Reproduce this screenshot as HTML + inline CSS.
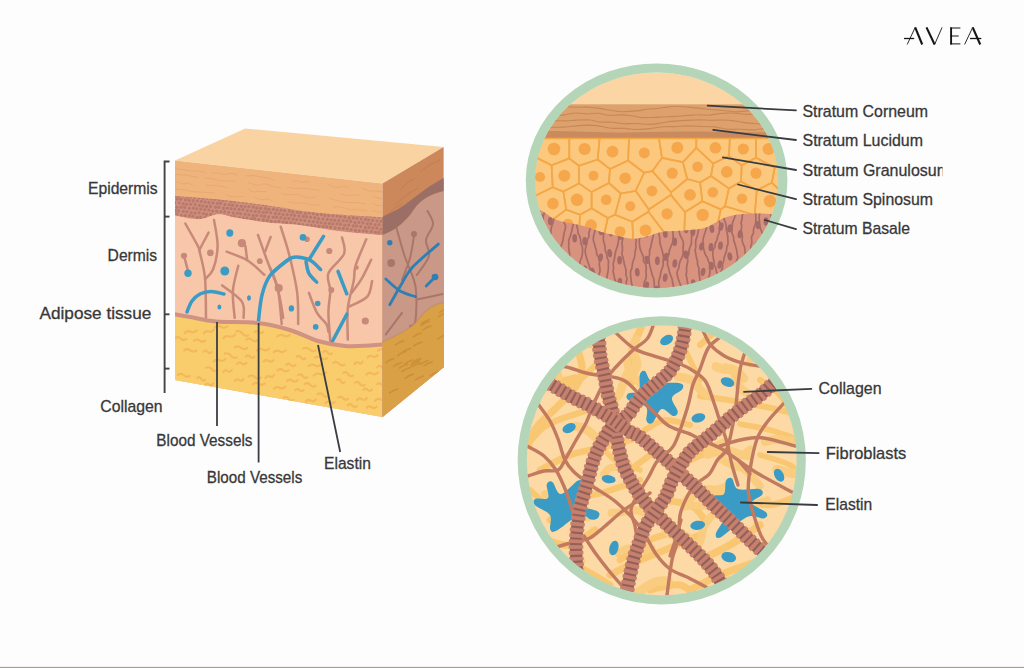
<!DOCTYPE html>
<html><head><meta charset="utf-8"><title>Skin layers</title>
<style>html,body{margin:0;padding:0;background:#fdfdfd;}
#wrap{position:relative;width:1024px;height:668px;overflow:hidden;background:#fdfdfd;}
svg text{font-family:"Liberation Sans", sans-serif;}
#bar{position:absolute;left:0;top:666px;width:1024px;height:2px;background:linear-gradient(#f2f1f0 50%,#a29f9b 50%);}
</style></head><body><div id="wrap">
<svg width="1024" height="668" viewBox="0 0 1024 668" style="position:absolute;left:0;top:0">
<defs>
<clipPath id="cf"><polygon points="175,160.4 382.5,183.5 382.5,417 175,380"/></clipPath>
<clipPath id="cr"><polygon points="382.5,183.5 443.6,147 444,367 382.5,417"/></clipPath>
<clipPath id="cband"><path d="M170.0,195.5 C177.2,196.1 198.7,197.6 213.0,199.0 C227.3,200.4 245.3,202.7 256.0,204.0 C266.7,205.3 266.3,205.5 277.0,207.0 C287.7,208.5 301.2,211.2 320.0,213.0 C338.8,214.8 378.3,217.2 390.0,218.0 L390.0,236.0 C382.0,235.2 357.2,233.3 342.0,231.5 C326.8,229.7 311.5,226.5 299.0,225.0 C286.5,223.5 277.7,223.8 267.0,222.5 C256.3,221.2 243.2,218.8 235.0,217.4 C226.8,216.0 224.2,213.9 218.0,214.2 C211.8,214.5 206.0,219.1 198.0,219.2 C190.0,219.2 174.7,215.3 170.0,214.5 Z"/></clipPath>
<clipPath id="cadip"><path d="M170.0,313.5 C173.3,314.1 182.3,315.7 190.0,317.0 C197.7,318.3 204.7,320.5 216.0,321.5 C227.3,322.5 245.7,321.6 258.0,323.0 C270.3,324.4 280.0,327.0 290.0,330.0 C300.0,333.0 308.8,338.3 318.0,341.0 C327.2,343.7 336.3,345.2 345.0,346.0 C353.7,346.8 362.5,345.8 370.0,345.5 C377.5,345.2 386.7,344.2 390.0,344.0 L390,430 L170,430 Z"/></clipPath>
</defs>
<polygon points="175,160.4 245.2,128.5 443.6,147 382.5,183.5" fill="#f9d4a2"/>
<g clip-path="url(#cf)">
<rect x="170" y="150" width="220" height="280" fill="#efb47c"/>
<path d="M175.0,168.6 C176.3,168.7 180.1,169.2 182.6,169.6 C185.2,169.9 187.7,170.5 190.3,170.8 C192.8,171.0 195.4,170.9 197.9,171.1 C200.5,171.4 204.3,172.2 205.6,172.4" fill="none" stroke="#dd9e6c" stroke-width="0.9" opacity="0.55"/>
<path d="M211.0,173.1 C212.1,173.1 215.4,172.9 217.7,173.1 C219.9,173.4 222.1,174.5 224.3,174.5 C226.5,174.5 228.8,173.3 231.0,173.3 C233.2,173.4 236.5,174.7 237.6,174.9" fill="none" stroke="#dd9e6c" stroke-width="0.9" opacity="0.55"/>
<path d="M246.3,176.2 C247.5,176.1 251.1,175.5 253.5,175.6 C255.9,175.7 258.3,176.5 260.6,176.9 C263.0,177.3 265.4,177.3 267.8,177.9 C270.2,178.4 273.7,179.8 274.9,180.2" fill="none" stroke="#dd9e6c" stroke-width="0.9" opacity="0.55"/>
<path d="M291.4,181.8 C292.2,181.6 294.6,180.6 296.2,180.7 C297.8,180.8 299.3,182.2 300.9,182.4 C302.5,182.6 304.1,181.8 305.7,181.7 C307.3,181.7 309.6,181.9 310.4,182.0" fill="none" stroke="#dd9e6c" stroke-width="0.9" opacity="0.55"/>
<path d="M328.5,184.5 C329.3,184.9 331.9,186.5 333.5,186.9 C335.2,187.4 336.9,187.3 338.6,187.2 C340.3,187.1 342.0,186.2 343.7,186.4 C345.4,186.6 347.9,188.2 348.7,188.6" fill="none" stroke="#dd9e6c" stroke-width="0.9" opacity="0.55"/>
<path d="M361.8,188.2 C363.1,188.7 367.1,190.4 369.8,190.9 C372.5,191.4 375.1,190.9 377.8,191.2 C380.4,191.5 383.1,192.3 385.8,192.7 C388.4,193.1 392.4,193.3 393.8,193.4" fill="none" stroke="#dd9e6c" stroke-width="0.9" opacity="0.55"/>
<path d="M175.0,174.2 C176.0,174.3 179.0,174.6 181.0,174.8 C183.0,175.0 185.0,175.0 187.0,175.3 C189.0,175.6 191.0,176.1 193.0,176.5 C195.0,177.0 198.0,177.7 199.0,177.9" fill="none" stroke="#dd9e6c" stroke-width="0.9" opacity="0.55"/>
<path d="M204.1,177.9 C205.4,178.0 209.4,178.2 212.1,178.7 C214.7,179.2 217.4,180.4 220.1,180.8 C222.7,181.2 225.4,180.8 228.0,180.9 C230.7,181.0 234.7,181.3 236.0,181.4" fill="none" stroke="#dd9e6c" stroke-width="0.9" opacity="0.55"/>
<path d="M248.2,182.1 C249.6,182.7 253.7,185.0 256.4,185.3 C259.1,185.5 261.8,183.7 264.6,183.9 C267.3,184.1 270.0,185.9 272.7,186.5 C275.4,187.2 279.5,187.5 280.9,187.7" fill="none" stroke="#dd9e6c" stroke-width="0.9" opacity="0.55"/>
<path d="M286.1,187.1 C287.6,187.4 291.9,188.4 294.8,188.6 C297.7,188.8 300.6,188.1 303.5,188.2 C306.4,188.3 309.3,188.9 312.2,189.3 C315.0,189.7 319.4,190.4 320.8,190.6" fill="none" stroke="#dd9e6c" stroke-width="0.9" opacity="0.55"/>
<path d="M340.2,194.1 C341.0,194.3 343.5,194.8 345.1,195.1 C346.8,195.3 348.5,195.7 350.1,195.7 C351.8,195.6 353.4,194.8 355.1,194.8 C356.8,194.7 359.2,195.3 360.1,195.4" fill="none" stroke="#dd9e6c" stroke-width="0.9" opacity="0.55"/>
<path d="M372.9,196.2 C374.4,196.6 378.7,198.1 381.5,198.7 C384.4,199.3 387.3,199.4 390.1,199.8 C393.0,200.2 395.9,200.9 398.7,200.9 C401.6,200.9 405.9,200.1 407.3,199.9" fill="none" stroke="#dd9e6c" stroke-width="0.9" opacity="0.55"/>
<path d="M175.0,181.6 C175.7,181.8 177.9,182.4 179.3,182.7 C180.8,183.1 182.2,183.9 183.6,184.0 C185.1,184.0 186.5,182.9 188.0,183.1 C189.4,183.2 191.6,184.6 192.3,185.0" fill="none" stroke="#dd9e6c" stroke-width="0.9" opacity="0.55"/>
<path d="M205.5,185.0 C206.4,185.0 209.3,185.2 211.2,185.3 C213.1,185.4 215.0,185.5 216.9,185.7 C218.8,185.9 220.7,186.0 222.6,186.5 C224.5,186.9 227.3,188.1 228.3,188.4" fill="none" stroke="#dd9e6c" stroke-width="0.9" opacity="0.55"/>
<path d="M248.2,189.1 C249.0,189.6 251.4,191.5 253.0,191.9 C254.6,192.3 256.2,191.4 257.7,191.3 C259.3,191.3 260.9,191.5 262.5,191.6 C264.1,191.6 266.5,191.7 267.3,191.7" fill="none" stroke="#dd9e6c" stroke-width="0.9" opacity="0.55"/>
<path d="M281.2,193.8 C282.7,193.9 287.1,194.5 290.1,194.7 C293.1,194.9 296.0,194.3 299.0,194.8 C302.0,195.4 304.9,197.6 307.9,197.9 C310.9,198.2 315.3,196.9 316.8,196.8" fill="none" stroke="#dd9e6c" stroke-width="0.9" opacity="0.55"/>
<path d="M329.2,198.4 C330.7,198.8 335.2,200.2 338.2,200.8 C341.2,201.5 344.2,202.1 347.2,202.4 C350.2,202.7 353.2,202.3 356.2,202.6 C359.2,202.9 363.7,203.8 365.2,204.0" fill="none" stroke="#dd9e6c" stroke-width="0.9" opacity="0.55"/>
<path d="M371.8,203.2 C372.9,203.6 376.1,205.3 378.3,205.6 C380.4,205.9 382.6,204.9 384.7,205.0 C386.9,205.1 389.0,205.6 391.2,206.1 C393.3,206.6 396.6,207.8 397.7,208.1" fill="none" stroke="#dd9e6c" stroke-width="0.9" opacity="0.55"/>
<path d="M175.0,188.9 C176.6,189.1 181.6,189.6 184.9,190.1 C188.1,190.6 191.4,191.4 194.7,191.8 C198.0,192.1 201.3,192.1 204.6,192.3 C207.8,192.5 212.8,192.8 214.4,192.9" fill="none" stroke="#dd9e6c" stroke-width="0.9" opacity="0.55"/>
<path d="M225.5,194.4 C226.2,194.7 228.6,195.9 230.1,196.3 C231.7,196.8 233.2,196.8 234.8,196.8 C236.3,196.8 237.9,196.5 239.5,196.5 C241.0,196.5 243.3,196.7 244.1,196.7" fill="none" stroke="#dd9e6c" stroke-width="0.9" opacity="0.55"/>
<path d="M254.2,197.3 C254.9,197.6 257.1,198.6 258.5,199.0 C259.9,199.4 261.4,199.7 262.8,199.7 C264.2,199.7 265.7,198.9 267.1,199.0 C268.6,199.1 270.7,200.2 271.4,200.5" fill="none" stroke="#dd9e6c" stroke-width="0.9" opacity="0.55"/>
<path d="M288.0,202.1 C289.4,202.2 293.4,203.0 296.1,203.2 C298.8,203.4 301.5,202.9 304.2,203.1 C306.9,203.4 309.6,204.6 312.3,204.9 C315.0,205.1 319.1,204.8 320.4,204.8" fill="none" stroke="#dd9e6c" stroke-width="0.9" opacity="0.55"/>
<path d="M332.7,207.1 C334.1,207.1 338.4,206.7 341.3,207.1 C344.1,207.5 347.0,209.2 349.8,209.6 C352.7,210.1 355.5,209.7 358.4,209.9 C361.2,210.1 365.5,210.6 366.9,210.7" fill="none" stroke="#dd9e6c" stroke-width="0.9" opacity="0.55"/>
<path d="M372.1,210.5 C373.3,210.8 376.9,211.9 379.3,212.3 C381.7,212.6 384.1,212.3 386.5,212.6 C388.8,212.9 391.2,213.9 393.6,214.2 C396.0,214.6 399.6,214.6 400.8,214.6" fill="none" stroke="#dd9e6c" stroke-width="0.9" opacity="0.55"/>
<path d="M170.0,195.5 C177.2,196.1 198.7,197.6 213.0,199.0 C227.3,200.4 245.3,202.7 256.0,204.0 C266.7,205.3 266.3,205.5 277.0,207.0 C287.7,208.5 301.2,211.2 320.0,213.0 C338.8,214.8 378.3,217.2 390.0,218.0 L390.0,236.0 C382.0,235.2 357.2,233.3 342.0,231.5 C326.8,229.7 311.5,226.5 299.0,225.0 C286.5,223.5 277.7,223.8 267.0,222.5 C256.3,221.2 243.2,218.8 235.0,217.4 C226.8,216.0 224.2,213.9 218.0,214.2 C211.8,214.5 206.0,219.1 198.0,219.2 C190.0,219.2 174.7,215.3 170.0,214.5 Z" fill="#d0917e"/>
<g clip-path="url(#cband)">
<ellipse cx="170.9" cy="194.7" rx="1.6" ry="1.8" fill="#b97a6d"/>
<ellipse cx="175.2" cy="195.3" rx="1.6" ry="1.8" fill="#b97a6d"/>
<ellipse cx="178.9" cy="195.7" rx="1.6" ry="1.8" fill="#b97a6d"/>
<ellipse cx="183.3" cy="196.0" rx="1.6" ry="1.8" fill="#b97a6d"/>
<ellipse cx="187.4" cy="196.7" rx="1.6" ry="1.8" fill="#b97a6d"/>
<ellipse cx="191.0" cy="196.8" rx="1.6" ry="1.8" fill="#b97a6d"/>
<ellipse cx="194.7" cy="197.4" rx="1.6" ry="1.8" fill="#b97a6d"/>
<ellipse cx="199.3" cy="197.6" rx="1.6" ry="1.8" fill="#b97a6d"/>
<ellipse cx="203.2" cy="198.2" rx="1.6" ry="1.8" fill="#b97a6d"/>
<ellipse cx="207.2" cy="198.2" rx="1.6" ry="1.8" fill="#b97a6d"/>
<ellipse cx="211.2" cy="199.0" rx="1.6" ry="1.8" fill="#b97a6d"/>
<ellipse cx="215.1" cy="199.3" rx="1.6" ry="1.8" fill="#b97a6d"/>
<ellipse cx="219.1" cy="200.0" rx="1.6" ry="1.8" fill="#b97a6d"/>
<ellipse cx="223.1" cy="200.4" rx="1.6" ry="1.8" fill="#b97a6d"/>
<ellipse cx="226.6" cy="200.3" rx="1.6" ry="1.8" fill="#b97a6d"/>
<ellipse cx="231.0" cy="201.2" rx="1.6" ry="1.8" fill="#b97a6d"/>
<ellipse cx="234.8" cy="201.6" rx="1.6" ry="1.8" fill="#b97a6d"/>
<ellipse cx="239.1" cy="201.6" rx="1.6" ry="1.8" fill="#b97a6d"/>
<ellipse cx="243.0" cy="202.1" rx="1.6" ry="1.8" fill="#b97a6d"/>
<ellipse cx="246.6" cy="202.4" rx="1.6" ry="1.8" fill="#b97a6d"/>
<ellipse cx="250.9" cy="202.9" rx="1.6" ry="1.8" fill="#b97a6d"/>
<ellipse cx="254.8" cy="203.2" rx="1.6" ry="1.8" fill="#b97a6d"/>
<ellipse cx="259.0" cy="204.0" rx="1.6" ry="1.8" fill="#b97a6d"/>
<ellipse cx="263.1" cy="204.6" rx="1.6" ry="1.8" fill="#b97a6d"/>
<ellipse cx="266.8" cy="205.2" rx="1.6" ry="1.8" fill="#b97a6d"/>
<ellipse cx="270.6" cy="205.2" rx="1.6" ry="1.8" fill="#b97a6d"/>
<ellipse cx="274.8" cy="205.7" rx="1.6" ry="1.8" fill="#b97a6d"/>
<ellipse cx="278.7" cy="206.5" rx="1.6" ry="1.8" fill="#b97a6d"/>
<ellipse cx="282.9" cy="206.3" rx="1.6" ry="1.8" fill="#b97a6d"/>
<ellipse cx="287.1" cy="206.8" rx="1.6" ry="1.8" fill="#b97a6d"/>
<ellipse cx="291.0" cy="207.4" rx="1.6" ry="1.8" fill="#b97a6d"/>
<ellipse cx="295.1" cy="208.3" rx="1.6" ry="1.8" fill="#b97a6d"/>
<ellipse cx="299.3" cy="208.4" rx="1.6" ry="1.8" fill="#b97a6d"/>
<ellipse cx="303.3" cy="209.0" rx="1.6" ry="1.8" fill="#b97a6d"/>
<ellipse cx="306.9" cy="209.0" rx="1.6" ry="1.8" fill="#b97a6d"/>
<ellipse cx="311.1" cy="209.7" rx="1.6" ry="1.8" fill="#b97a6d"/>
<ellipse cx="315.4" cy="210.5" rx="1.6" ry="1.8" fill="#b97a6d"/>
<ellipse cx="319.1" cy="210.4" rx="1.6" ry="1.8" fill="#b97a6d"/>
<ellipse cx="323.3" cy="210.6" rx="1.6" ry="1.8" fill="#b97a6d"/>
<ellipse cx="326.7" cy="211.4" rx="1.6" ry="1.8" fill="#b97a6d"/>
<ellipse cx="331.1" cy="211.6" rx="1.6" ry="1.8" fill="#b97a6d"/>
<ellipse cx="335.1" cy="212.6" rx="1.6" ry="1.8" fill="#b97a6d"/>
<ellipse cx="338.9" cy="212.6" rx="1.6" ry="1.8" fill="#b97a6d"/>
<ellipse cx="342.8" cy="213.0" rx="1.6" ry="1.8" fill="#b97a6d"/>
<ellipse cx="347.4" cy="213.5" rx="1.6" ry="1.8" fill="#b97a6d"/>
<ellipse cx="351.4" cy="214.4" rx="1.6" ry="1.8" fill="#b97a6d"/>
<ellipse cx="355.1" cy="214.3" rx="1.6" ry="1.8" fill="#b97a6d"/>
<ellipse cx="359.4" cy="214.9" rx="1.6" ry="1.8" fill="#b97a6d"/>
<ellipse cx="362.9" cy="215.2" rx="1.6" ry="1.8" fill="#b97a6d"/>
<ellipse cx="367.4" cy="215.8" rx="1.6" ry="1.8" fill="#b97a6d"/>
<ellipse cx="370.8" cy="216.1" rx="1.6" ry="1.8" fill="#b97a6d"/>
<ellipse cx="374.7" cy="216.7" rx="1.6" ry="1.8" fill="#b97a6d"/>
<ellipse cx="379.0" cy="216.9" rx="1.6" ry="1.8" fill="#b97a6d"/>
<ellipse cx="383.2" cy="217.7" rx="1.6" ry="1.8" fill="#b97a6d"/>
<ellipse cx="386.6" cy="217.9" rx="1.6" ry="1.8" fill="#b97a6d"/>
<ellipse cx="172.8" cy="199.0" rx="1.6" ry="1.8" fill="#b97a6d"/>
<ellipse cx="177.2" cy="198.9" rx="1.6" ry="1.8" fill="#b97a6d"/>
<ellipse cx="180.8" cy="199.3" rx="1.6" ry="1.8" fill="#b97a6d"/>
<ellipse cx="185.4" cy="199.9" rx="1.6" ry="1.8" fill="#b97a6d"/>
<ellipse cx="189.1" cy="200.4" rx="1.6" ry="1.8" fill="#b97a6d"/>
<ellipse cx="193.1" cy="200.9" rx="1.6" ry="1.8" fill="#b97a6d"/>
<ellipse cx="197.2" cy="201.0" rx="1.6" ry="1.8" fill="#b97a6d"/>
<ellipse cx="201.2" cy="201.6" rx="1.6" ry="1.8" fill="#b97a6d"/>
<ellipse cx="205.0" cy="202.0" rx="1.6" ry="1.8" fill="#b97a6d"/>
<ellipse cx="208.8" cy="202.6" rx="1.6" ry="1.8" fill="#b97a6d"/>
<ellipse cx="213.0" cy="202.9" rx="1.6" ry="1.8" fill="#b97a6d"/>
<ellipse cx="217.2" cy="203.5" rx="1.6" ry="1.8" fill="#b97a6d"/>
<ellipse cx="220.6" cy="203.6" rx="1.6" ry="1.8" fill="#b97a6d"/>
<ellipse cx="225.0" cy="204.6" rx="1.6" ry="1.8" fill="#b97a6d"/>
<ellipse cx="229.3" cy="204.8" rx="1.6" ry="1.8" fill="#b97a6d"/>
<ellipse cx="232.6" cy="205.3" rx="1.6" ry="1.8" fill="#b97a6d"/>
<ellipse cx="236.9" cy="205.7" rx="1.6" ry="1.8" fill="#b97a6d"/>
<ellipse cx="241.2" cy="206.2" rx="1.6" ry="1.8" fill="#b97a6d"/>
<ellipse cx="245.0" cy="206.8" rx="1.6" ry="1.8" fill="#b97a6d"/>
<ellipse cx="248.9" cy="206.8" rx="1.6" ry="1.8" fill="#b97a6d"/>
<ellipse cx="253.3" cy="207.1" rx="1.6" ry="1.8" fill="#b97a6d"/>
<ellipse cx="256.8" cy="208.0" rx="1.6" ry="1.8" fill="#b97a6d"/>
<ellipse cx="260.7" cy="208.4" rx="1.6" ry="1.8" fill="#b97a6d"/>
<ellipse cx="265.2" cy="208.6" rx="1.6" ry="1.8" fill="#b97a6d"/>
<ellipse cx="268.8" cy="209.3" rx="1.6" ry="1.8" fill="#b97a6d"/>
<ellipse cx="273.3" cy="209.2" rx="1.6" ry="1.8" fill="#b97a6d"/>
<ellipse cx="277.0" cy="210.0" rx="1.6" ry="1.8" fill="#b97a6d"/>
<ellipse cx="281.0" cy="210.2" rx="1.6" ry="1.8" fill="#b97a6d"/>
<ellipse cx="284.7" cy="210.8" rx="1.6" ry="1.8" fill="#b97a6d"/>
<ellipse cx="289.2" cy="210.9" rx="1.6" ry="1.8" fill="#b97a6d"/>
<ellipse cx="292.8" cy="211.9" rx="1.6" ry="1.8" fill="#b97a6d"/>
<ellipse cx="297.2" cy="212.2" rx="1.6" ry="1.8" fill="#b97a6d"/>
<ellipse cx="300.6" cy="212.6" rx="1.6" ry="1.8" fill="#b97a6d"/>
<ellipse cx="305.4" cy="213.4" rx="1.6" ry="1.8" fill="#b97a6d"/>
<ellipse cx="309.2" cy="213.0" rx="1.6" ry="1.8" fill="#b97a6d"/>
<ellipse cx="313.3" cy="213.6" rx="1.6" ry="1.8" fill="#b97a6d"/>
<ellipse cx="317.1" cy="214.6" rx="1.6" ry="1.8" fill="#b97a6d"/>
<ellipse cx="321.2" cy="214.4" rx="1.6" ry="1.8" fill="#b97a6d"/>
<ellipse cx="324.8" cy="215.4" rx="1.6" ry="1.8" fill="#b97a6d"/>
<ellipse cx="328.7" cy="215.6" rx="1.6" ry="1.8" fill="#b97a6d"/>
<ellipse cx="332.9" cy="215.7" rx="1.6" ry="1.8" fill="#b97a6d"/>
<ellipse cx="337.1" cy="216.0" rx="1.6" ry="1.8" fill="#b97a6d"/>
<ellipse cx="340.7" cy="216.7" rx="1.6" ry="1.8" fill="#b97a6d"/>
<ellipse cx="344.7" cy="216.9" rx="1.6" ry="1.8" fill="#b97a6d"/>
<ellipse cx="349.1" cy="217.9" rx="1.6" ry="1.8" fill="#b97a6d"/>
<ellipse cx="353.3" cy="217.9" rx="1.6" ry="1.8" fill="#b97a6d"/>
<ellipse cx="356.9" cy="218.4" rx="1.6" ry="1.8" fill="#b97a6d"/>
<ellipse cx="361.1" cy="219.0" rx="1.6" ry="1.8" fill="#b97a6d"/>
<ellipse cx="365.4" cy="219.4" rx="1.6" ry="1.8" fill="#b97a6d"/>
<ellipse cx="368.6" cy="220.0" rx="1.6" ry="1.8" fill="#b97a6d"/>
<ellipse cx="372.7" cy="220.4" rx="1.6" ry="1.8" fill="#b97a6d"/>
<ellipse cx="377.0" cy="221.0" rx="1.6" ry="1.8" fill="#b97a6d"/>
<ellipse cx="381.0" cy="221.2" rx="1.6" ry="1.8" fill="#b97a6d"/>
<ellipse cx="384.8" cy="221.6" rx="1.6" ry="1.8" fill="#b97a6d"/>
<ellipse cx="388.8" cy="222.2" rx="1.6" ry="1.8" fill="#b97a6d"/>
<ellipse cx="171.0" cy="202.1" rx="1.6" ry="1.8" fill="#b97a6d"/>
<ellipse cx="174.8" cy="202.7" rx="1.6" ry="1.8" fill="#b97a6d"/>
<ellipse cx="179.2" cy="203.0" rx="1.6" ry="1.8" fill="#b97a6d"/>
<ellipse cx="183.2" cy="203.8" rx="1.6" ry="1.8" fill="#b97a6d"/>
<ellipse cx="186.7" cy="204.2" rx="1.6" ry="1.8" fill="#b97a6d"/>
<ellipse cx="190.7" cy="204.2" rx="1.6" ry="1.8" fill="#b97a6d"/>
<ellipse cx="195.1" cy="204.8" rx="1.6" ry="1.8" fill="#b97a6d"/>
<ellipse cx="199.3" cy="205.4" rx="1.6" ry="1.8" fill="#b97a6d"/>
<ellipse cx="202.9" cy="206.0" rx="1.6" ry="1.8" fill="#b97a6d"/>
<ellipse cx="206.6" cy="206.4" rx="1.6" ry="1.8" fill="#b97a6d"/>
<ellipse cx="210.6" cy="206.4" rx="1.6" ry="1.8" fill="#b97a6d"/>
<ellipse cx="215.4" cy="207.3" rx="1.6" ry="1.8" fill="#b97a6d"/>
<ellipse cx="218.8" cy="207.2" rx="1.6" ry="1.8" fill="#b97a6d"/>
<ellipse cx="223.4" cy="208.2" rx="1.6" ry="1.8" fill="#b97a6d"/>
<ellipse cx="227.3" cy="208.2" rx="1.6" ry="1.8" fill="#b97a6d"/>
<ellipse cx="231.1" cy="208.7" rx="1.6" ry="1.8" fill="#b97a6d"/>
<ellipse cx="234.8" cy="209.1" rx="1.6" ry="1.8" fill="#b97a6d"/>
<ellipse cx="239.1" cy="209.6" rx="1.6" ry="1.8" fill="#b97a6d"/>
<ellipse cx="242.9" cy="209.8" rx="1.6" ry="1.8" fill="#b97a6d"/>
<ellipse cx="247.3" cy="210.7" rx="1.6" ry="1.8" fill="#b97a6d"/>
<ellipse cx="251.2" cy="211.0" rx="1.6" ry="1.8" fill="#b97a6d"/>
<ellipse cx="255.3" cy="211.5" rx="1.6" ry="1.8" fill="#b97a6d"/>
<ellipse cx="259.1" cy="211.9" rx="1.6" ry="1.8" fill="#b97a6d"/>
<ellipse cx="263.2" cy="212.2" rx="1.6" ry="1.8" fill="#b97a6d"/>
<ellipse cx="266.7" cy="212.3" rx="1.6" ry="1.8" fill="#b97a6d"/>
<ellipse cx="270.8" cy="212.8" rx="1.6" ry="1.8" fill="#b97a6d"/>
<ellipse cx="275.3" cy="213.6" rx="1.6" ry="1.8" fill="#b97a6d"/>
<ellipse cx="279.2" cy="213.7" rx="1.6" ry="1.8" fill="#b97a6d"/>
<ellipse cx="283.0" cy="214.8" rx="1.6" ry="1.8" fill="#b97a6d"/>
<ellipse cx="287.1" cy="214.8" rx="1.6" ry="1.8" fill="#b97a6d"/>
<ellipse cx="291.0" cy="215.0" rx="1.6" ry="1.8" fill="#b97a6d"/>
<ellipse cx="294.7" cy="215.5" rx="1.6" ry="1.8" fill="#b97a6d"/>
<ellipse cx="298.9" cy="216.1" rx="1.6" ry="1.8" fill="#b97a6d"/>
<ellipse cx="303.3" cy="216.4" rx="1.6" ry="1.8" fill="#b97a6d"/>
<ellipse cx="306.8" cy="216.9" rx="1.6" ry="1.8" fill="#b97a6d"/>
<ellipse cx="310.7" cy="217.3" rx="1.6" ry="1.8" fill="#b97a6d"/>
<ellipse cx="314.8" cy="217.9" rx="1.6" ry="1.8" fill="#b97a6d"/>
<ellipse cx="318.6" cy="218.7" rx="1.6" ry="1.8" fill="#b97a6d"/>
<ellipse cx="322.9" cy="219.1" rx="1.6" ry="1.8" fill="#b97a6d"/>
<ellipse cx="327.2" cy="219.4" rx="1.6" ry="1.8" fill="#b97a6d"/>
<ellipse cx="331.0" cy="220.0" rx="1.6" ry="1.8" fill="#b97a6d"/>
<ellipse cx="334.7" cy="220.2" rx="1.6" ry="1.8" fill="#b97a6d"/>
<ellipse cx="338.8" cy="220.6" rx="1.6" ry="1.8" fill="#b97a6d"/>
<ellipse cx="343.2" cy="220.7" rx="1.6" ry="1.8" fill="#b97a6d"/>
<ellipse cx="346.8" cy="221.0" rx="1.6" ry="1.8" fill="#b97a6d"/>
<ellipse cx="350.8" cy="221.4" rx="1.6" ry="1.8" fill="#b97a6d"/>
<ellipse cx="354.9" cy="222.6" rx="1.6" ry="1.8" fill="#b97a6d"/>
<ellipse cx="358.9" cy="222.5" rx="1.6" ry="1.8" fill="#b97a6d"/>
<ellipse cx="363.0" cy="222.9" rx="1.6" ry="1.8" fill="#b97a6d"/>
<ellipse cx="367.2" cy="223.7" rx="1.6" ry="1.8" fill="#b97a6d"/>
<ellipse cx="370.7" cy="223.7" rx="1.6" ry="1.8" fill="#b97a6d"/>
<ellipse cx="375.1" cy="224.8" rx="1.6" ry="1.8" fill="#b97a6d"/>
<ellipse cx="379.1" cy="224.8" rx="1.6" ry="1.8" fill="#b97a6d"/>
<ellipse cx="383.4" cy="224.9" rx="1.6" ry="1.8" fill="#b97a6d"/>
<ellipse cx="386.6" cy="225.9" rx="1.6" ry="1.8" fill="#b97a6d"/>
<ellipse cx="172.9" cy="206.1" rx="1.6" ry="1.8" fill="#b97a6d"/>
<ellipse cx="177.0" cy="207.3" rx="1.6" ry="1.8" fill="#b97a6d"/>
<ellipse cx="181.0" cy="207.2" rx="1.6" ry="1.8" fill="#b97a6d"/>
<ellipse cx="184.7" cy="207.4" rx="1.6" ry="1.8" fill="#b97a6d"/>
<ellipse cx="189.3" cy="208.2" rx="1.6" ry="1.8" fill="#b97a6d"/>
<ellipse cx="193.3" cy="208.3" rx="1.6" ry="1.8" fill="#b97a6d"/>
<ellipse cx="196.8" cy="208.7" rx="1.6" ry="1.8" fill="#b97a6d"/>
<ellipse cx="200.9" cy="209.1" rx="1.6" ry="1.8" fill="#b97a6d"/>
<ellipse cx="204.8" cy="209.8" rx="1.6" ry="1.8" fill="#b97a6d"/>
<ellipse cx="208.8" cy="210.0" rx="1.6" ry="1.8" fill="#b97a6d"/>
<ellipse cx="212.6" cy="211.1" rx="1.6" ry="1.8" fill="#b97a6d"/>
<ellipse cx="216.7" cy="211.2" rx="1.6" ry="1.8" fill="#b97a6d"/>
<ellipse cx="220.9" cy="211.7" rx="1.6" ry="1.8" fill="#b97a6d"/>
<ellipse cx="224.7" cy="211.9" rx="1.6" ry="1.8" fill="#b97a6d"/>
<ellipse cx="228.7" cy="212.5" rx="1.6" ry="1.8" fill="#b97a6d"/>
<ellipse cx="233.3" cy="213.1" rx="1.6" ry="1.8" fill="#b97a6d"/>
<ellipse cx="237.3" cy="213.2" rx="1.6" ry="1.8" fill="#b97a6d"/>
<ellipse cx="240.6" cy="213.8" rx="1.6" ry="1.8" fill="#b97a6d"/>
<ellipse cx="245.0" cy="214.3" rx="1.6" ry="1.8" fill="#b97a6d"/>
<ellipse cx="248.9" cy="214.8" rx="1.6" ry="1.8" fill="#b97a6d"/>
<ellipse cx="253.2" cy="215.5" rx="1.6" ry="1.8" fill="#b97a6d"/>
<ellipse cx="256.8" cy="215.5" rx="1.6" ry="1.8" fill="#b97a6d"/>
<ellipse cx="261.3" cy="215.8" rx="1.6" ry="1.8" fill="#b97a6d"/>
<ellipse cx="264.7" cy="216.2" rx="1.6" ry="1.8" fill="#b97a6d"/>
<ellipse cx="268.7" cy="217.0" rx="1.6" ry="1.8" fill="#b97a6d"/>
<ellipse cx="273.3" cy="217.2" rx="1.6" ry="1.8" fill="#b97a6d"/>
<ellipse cx="276.7" cy="217.3" rx="1.6" ry="1.8" fill="#b97a6d"/>
<ellipse cx="280.8" cy="217.8" rx="1.6" ry="1.8" fill="#b97a6d"/>
<ellipse cx="284.9" cy="218.6" rx="1.6" ry="1.8" fill="#b97a6d"/>
<ellipse cx="288.8" cy="218.6" rx="1.6" ry="1.8" fill="#b97a6d"/>
<ellipse cx="293.2" cy="219.1" rx="1.6" ry="1.8" fill="#b97a6d"/>
<ellipse cx="296.8" cy="219.7" rx="1.6" ry="1.8" fill="#b97a6d"/>
<ellipse cx="300.9" cy="220.0" rx="1.6" ry="1.8" fill="#b97a6d"/>
<ellipse cx="304.9" cy="220.6" rx="1.6" ry="1.8" fill="#b97a6d"/>
<ellipse cx="309.2" cy="221.2" rx="1.6" ry="1.8" fill="#b97a6d"/>
<ellipse cx="313.3" cy="221.8" rx="1.6" ry="1.8" fill="#b97a6d"/>
<ellipse cx="317.2" cy="222.1" rx="1.6" ry="1.8" fill="#b97a6d"/>
<ellipse cx="321.0" cy="222.7" rx="1.6" ry="1.8" fill="#b97a6d"/>
<ellipse cx="325.1" cy="223.3" rx="1.6" ry="1.8" fill="#b97a6d"/>
<ellipse cx="329.2" cy="223.5" rx="1.6" ry="1.8" fill="#b97a6d"/>
<ellipse cx="332.8" cy="224.0" rx="1.6" ry="1.8" fill="#b97a6d"/>
<ellipse cx="336.9" cy="223.9" rx="1.6" ry="1.8" fill="#b97a6d"/>
<ellipse cx="340.7" cy="224.3" rx="1.6" ry="1.8" fill="#b97a6d"/>
<ellipse cx="344.8" cy="225.2" rx="1.6" ry="1.8" fill="#b97a6d"/>
<ellipse cx="348.8" cy="225.1" rx="1.6" ry="1.8" fill="#b97a6d"/>
<ellipse cx="353.2" cy="226.0" rx="1.6" ry="1.8" fill="#b97a6d"/>
<ellipse cx="356.6" cy="226.0" rx="1.6" ry="1.8" fill="#b97a6d"/>
<ellipse cx="360.7" cy="226.6" rx="1.6" ry="1.8" fill="#b97a6d"/>
<ellipse cx="365.3" cy="227.6" rx="1.6" ry="1.8" fill="#b97a6d"/>
<ellipse cx="369.1" cy="227.4" rx="1.6" ry="1.8" fill="#b97a6d"/>
<ellipse cx="372.9" cy="228.0" rx="1.6" ry="1.8" fill="#b97a6d"/>
<ellipse cx="376.9" cy="228.1" rx="1.6" ry="1.8" fill="#b97a6d"/>
<ellipse cx="381.1" cy="229.2" rx="1.6" ry="1.8" fill="#b97a6d"/>
<ellipse cx="385.2" cy="229.1" rx="1.6" ry="1.8" fill="#b97a6d"/>
<ellipse cx="389.0" cy="229.6" rx="1.6" ry="1.8" fill="#b97a6d"/>
<ellipse cx="171.2" cy="210.1" rx="1.6" ry="1.8" fill="#b97a6d"/>
<ellipse cx="175.4" cy="210.9" rx="1.6" ry="1.8" fill="#b97a6d"/>
<ellipse cx="178.7" cy="210.9" rx="1.6" ry="1.8" fill="#b97a6d"/>
<ellipse cx="183.3" cy="211.5" rx="1.6" ry="1.8" fill="#b97a6d"/>
<ellipse cx="186.9" cy="211.8" rx="1.6" ry="1.8" fill="#b97a6d"/>
<ellipse cx="191.2" cy="212.7" rx="1.6" ry="1.8" fill="#b97a6d"/>
<ellipse cx="195.0" cy="213.1" rx="1.6" ry="1.8" fill="#b97a6d"/>
<ellipse cx="199.1" cy="212.9" rx="1.6" ry="1.8" fill="#b97a6d"/>
<ellipse cx="203.3" cy="213.6" rx="1.6" ry="1.8" fill="#b97a6d"/>
<ellipse cx="206.6" cy="214.4" rx="1.6" ry="1.8" fill="#b97a6d"/>
<ellipse cx="210.6" cy="214.5" rx="1.6" ry="1.8" fill="#b97a6d"/>
<ellipse cx="215.0" cy="215.2" rx="1.6" ry="1.8" fill="#b97a6d"/>
<ellipse cx="218.9" cy="215.1" rx="1.6" ry="1.8" fill="#b97a6d"/>
<ellipse cx="222.8" cy="215.5" rx="1.6" ry="1.8" fill="#b97a6d"/>
<ellipse cx="227.0" cy="216.1" rx="1.6" ry="1.8" fill="#b97a6d"/>
<ellipse cx="231.2" cy="216.5" rx="1.6" ry="1.8" fill="#b97a6d"/>
<ellipse cx="234.9" cy="216.9" rx="1.6" ry="1.8" fill="#b97a6d"/>
<ellipse cx="239.4" cy="217.8" rx="1.6" ry="1.8" fill="#b97a6d"/>
<ellipse cx="243.3" cy="218.1" rx="1.6" ry="1.8" fill="#b97a6d"/>
<ellipse cx="246.9" cy="218.1" rx="1.6" ry="1.8" fill="#b97a6d"/>
<ellipse cx="251.3" cy="218.8" rx="1.6" ry="1.8" fill="#b97a6d"/>
<ellipse cx="254.6" cy="218.9" rx="1.6" ry="1.8" fill="#b97a6d"/>
<ellipse cx="258.7" cy="219.8" rx="1.6" ry="1.8" fill="#b97a6d"/>
<ellipse cx="263.3" cy="219.9" rx="1.6" ry="1.8" fill="#b97a6d"/>
<ellipse cx="267.2" cy="220.4" rx="1.6" ry="1.8" fill="#b97a6d"/>
<ellipse cx="271.1" cy="221.3" rx="1.6" ry="1.8" fill="#b97a6d"/>
<ellipse cx="275.1" cy="221.7" rx="1.6" ry="1.8" fill="#b97a6d"/>
<ellipse cx="278.9" cy="221.4" rx="1.6" ry="1.8" fill="#b97a6d"/>
<ellipse cx="283.0" cy="222.3" rx="1.6" ry="1.8" fill="#b97a6d"/>
<ellipse cx="286.7" cy="222.6" rx="1.6" ry="1.8" fill="#b97a6d"/>
<ellipse cx="290.9" cy="222.7" rx="1.6" ry="1.8" fill="#b97a6d"/>
<ellipse cx="294.8" cy="223.5" rx="1.6" ry="1.8" fill="#b97a6d"/>
<ellipse cx="299.0" cy="224.2" rx="1.6" ry="1.8" fill="#b97a6d"/>
<ellipse cx="302.9" cy="224.8" rx="1.6" ry="1.8" fill="#b97a6d"/>
<ellipse cx="307.3" cy="225.2" rx="1.6" ry="1.8" fill="#b97a6d"/>
<ellipse cx="311.2" cy="225.4" rx="1.6" ry="1.8" fill="#b97a6d"/>
<ellipse cx="315.0" cy="226.0" rx="1.6" ry="1.8" fill="#b97a6d"/>
<ellipse cx="318.9" cy="226.2" rx="1.6" ry="1.8" fill="#b97a6d"/>
<ellipse cx="323.1" cy="226.6" rx="1.6" ry="1.8" fill="#b97a6d"/>
<ellipse cx="326.8" cy="226.7" rx="1.6" ry="1.8" fill="#b97a6d"/>
<ellipse cx="330.7" cy="227.3" rx="1.6" ry="1.8" fill="#b97a6d"/>
<ellipse cx="335.1" cy="228.1" rx="1.6" ry="1.8" fill="#b97a6d"/>
<ellipse cx="339.2" cy="228.2" rx="1.6" ry="1.8" fill="#b97a6d"/>
<ellipse cx="343.3" cy="228.6" rx="1.6" ry="1.8" fill="#b97a6d"/>
<ellipse cx="347.2" cy="228.9" rx="1.6" ry="1.8" fill="#b97a6d"/>
<ellipse cx="351.2" cy="229.8" rx="1.6" ry="1.8" fill="#b97a6d"/>
<ellipse cx="355.4" cy="230.4" rx="1.6" ry="1.8" fill="#b97a6d"/>
<ellipse cx="359.2" cy="230.8" rx="1.6" ry="1.8" fill="#b97a6d"/>
<ellipse cx="363.2" cy="231.0" rx="1.6" ry="1.8" fill="#b97a6d"/>
<ellipse cx="366.8" cy="231.3" rx="1.6" ry="1.8" fill="#b97a6d"/>
<ellipse cx="371.3" cy="231.6" rx="1.6" ry="1.8" fill="#b97a6d"/>
<ellipse cx="375.4" cy="232.3" rx="1.6" ry="1.8" fill="#b97a6d"/>
<ellipse cx="378.9" cy="232.2" rx="1.6" ry="1.8" fill="#b97a6d"/>
<ellipse cx="382.9" cy="232.8" rx="1.6" ry="1.8" fill="#b97a6d"/>
<ellipse cx="387.1" cy="233.8" rx="1.6" ry="1.8" fill="#b97a6d"/>
<ellipse cx="173.3" cy="214.4" rx="1.6" ry="1.8" fill="#b97a6d"/>
<ellipse cx="176.9" cy="214.4" rx="1.6" ry="1.8" fill="#b97a6d"/>
<ellipse cx="181.2" cy="215.2" rx="1.6" ry="1.8" fill="#b97a6d"/>
<ellipse cx="185.2" cy="215.5" rx="1.6" ry="1.8" fill="#b97a6d"/>
<ellipse cx="189.3" cy="215.8" rx="1.6" ry="1.8" fill="#b97a6d"/>
<ellipse cx="192.8" cy="216.2" rx="1.6" ry="1.8" fill="#b97a6d"/>
<ellipse cx="197.1" cy="217.2" rx="1.6" ry="1.8" fill="#b97a6d"/>
<ellipse cx="200.7" cy="217.4" rx="1.6" ry="1.8" fill="#b97a6d"/>
<ellipse cx="205.2" cy="217.5" rx="1.6" ry="1.8" fill="#b97a6d"/>
<ellipse cx="208.7" cy="218.2" rx="1.6" ry="1.8" fill="#b97a6d"/>
<ellipse cx="213.3" cy="218.9" rx="1.6" ry="1.8" fill="#b97a6d"/>
<ellipse cx="217.2" cy="219.0" rx="1.6" ry="1.8" fill="#b97a6d"/>
<ellipse cx="220.9" cy="219.5" rx="1.6" ry="1.8" fill="#b97a6d"/>
<ellipse cx="225.3" cy="219.8" rx="1.6" ry="1.8" fill="#b97a6d"/>
<ellipse cx="228.8" cy="220.4" rx="1.6" ry="1.8" fill="#b97a6d"/>
<ellipse cx="233.4" cy="220.6" rx="1.6" ry="1.8" fill="#b97a6d"/>
<ellipse cx="236.6" cy="220.8" rx="1.6" ry="1.8" fill="#b97a6d"/>
<ellipse cx="241.1" cy="221.7" rx="1.6" ry="1.8" fill="#b97a6d"/>
<ellipse cx="244.7" cy="221.8" rx="1.6" ry="1.8" fill="#b97a6d"/>
<ellipse cx="249.1" cy="222.6" rx="1.6" ry="1.8" fill="#b97a6d"/>
<ellipse cx="253.2" cy="223.1" rx="1.6" ry="1.8" fill="#b97a6d"/>
<ellipse cx="256.6" cy="223.3" rx="1.6" ry="1.8" fill="#b97a6d"/>
<ellipse cx="261.3" cy="224.2" rx="1.6" ry="1.8" fill="#b97a6d"/>
<ellipse cx="264.9" cy="224.5" rx="1.6" ry="1.8" fill="#b97a6d"/>
<ellipse cx="269.1" cy="225.0" rx="1.6" ry="1.8" fill="#b97a6d"/>
<ellipse cx="272.8" cy="225.2" rx="1.6" ry="1.8" fill="#b97a6d"/>
<ellipse cx="277.3" cy="225.5" rx="1.6" ry="1.8" fill="#b97a6d"/>
<ellipse cx="280.7" cy="225.7" rx="1.6" ry="1.8" fill="#b97a6d"/>
<ellipse cx="284.7" cy="226.0" rx="1.6" ry="1.8" fill="#b97a6d"/>
<ellipse cx="288.7" cy="226.9" rx="1.6" ry="1.8" fill="#b97a6d"/>
<ellipse cx="292.7" cy="227.4" rx="1.6" ry="1.8" fill="#b97a6d"/>
<ellipse cx="297.2" cy="227.9" rx="1.6" ry="1.8" fill="#b97a6d"/>
<ellipse cx="301.2" cy="228.3" rx="1.6" ry="1.8" fill="#b97a6d"/>
<ellipse cx="305.3" cy="228.9" rx="1.6" ry="1.8" fill="#b97a6d"/>
<ellipse cx="309.1" cy="229.4" rx="1.6" ry="1.8" fill="#b97a6d"/>
<ellipse cx="312.7" cy="229.1" rx="1.6" ry="1.8" fill="#b97a6d"/>
<ellipse cx="316.7" cy="229.6" rx="1.6" ry="1.8" fill="#b97a6d"/>
<ellipse cx="320.9" cy="230.2" rx="1.6" ry="1.8" fill="#b97a6d"/>
<ellipse cx="325.1" cy="230.9" rx="1.6" ry="1.8" fill="#b97a6d"/>
<ellipse cx="328.7" cy="231.0" rx="1.6" ry="1.8" fill="#b97a6d"/>
<ellipse cx="333.0" cy="231.5" rx="1.6" ry="1.8" fill="#b97a6d"/>
<ellipse cx="336.7" cy="232.0" rx="1.6" ry="1.8" fill="#b97a6d"/>
<ellipse cx="340.9" cy="232.6" rx="1.6" ry="1.8" fill="#b97a6d"/>
<ellipse cx="345.0" cy="233.2" rx="1.6" ry="1.8" fill="#b97a6d"/>
<ellipse cx="349.4" cy="233.0" rx="1.6" ry="1.8" fill="#b97a6d"/>
<ellipse cx="353.2" cy="233.9" rx="1.6" ry="1.8" fill="#b97a6d"/>
<ellipse cx="356.8" cy="233.8" rx="1.6" ry="1.8" fill="#b97a6d"/>
<ellipse cx="361.0" cy="234.5" rx="1.6" ry="1.8" fill="#b97a6d"/>
<ellipse cx="365.2" cy="235.4" rx="1.6" ry="1.8" fill="#b97a6d"/>
<ellipse cx="368.9" cy="235.3" rx="1.6" ry="1.8" fill="#b97a6d"/>
<ellipse cx="373.0" cy="236.0" rx="1.6" ry="1.8" fill="#b97a6d"/>
<ellipse cx="377.2" cy="236.4" rx="1.6" ry="1.8" fill="#b97a6d"/>
<ellipse cx="380.8" cy="236.6" rx="1.6" ry="1.8" fill="#b97a6d"/>
<ellipse cx="385.3" cy="237.2" rx="1.6" ry="1.8" fill="#b97a6d"/>
<ellipse cx="388.6" cy="237.5" rx="1.6" ry="1.8" fill="#b97a6d"/>
<ellipse cx="170.8" cy="218.1" rx="1.6" ry="1.8" fill="#b97a6d"/>
<ellipse cx="174.7" cy="218.2" rx="1.6" ry="1.8" fill="#b97a6d"/>
<ellipse cx="178.7" cy="218.8" rx="1.6" ry="1.8" fill="#b97a6d"/>
<ellipse cx="183.4" cy="219.3" rx="1.6" ry="1.8" fill="#b97a6d"/>
<ellipse cx="186.9" cy="220.0" rx="1.6" ry="1.8" fill="#b97a6d"/>
<ellipse cx="190.7" cy="220.0" rx="1.6" ry="1.8" fill="#b97a6d"/>
<ellipse cx="195.2" cy="220.2" rx="1.6" ry="1.8" fill="#b97a6d"/>
<ellipse cx="199.2" cy="220.9" rx="1.6" ry="1.8" fill="#b97a6d"/>
<ellipse cx="202.6" cy="221.2" rx="1.6" ry="1.8" fill="#b97a6d"/>
<ellipse cx="207.0" cy="221.8" rx="1.6" ry="1.8" fill="#b97a6d"/>
<ellipse cx="211.0" cy="221.9" rx="1.6" ry="1.8" fill="#b97a6d"/>
<ellipse cx="214.8" cy="223.1" rx="1.6" ry="1.8" fill="#b97a6d"/>
<ellipse cx="219.0" cy="223.1" rx="1.6" ry="1.8" fill="#b97a6d"/>
<ellipse cx="222.7" cy="223.4" rx="1.6" ry="1.8" fill="#b97a6d"/>
<ellipse cx="227.4" cy="224.2" rx="1.6" ry="1.8" fill="#b97a6d"/>
<ellipse cx="231.0" cy="224.1" rx="1.6" ry="1.8" fill="#b97a6d"/>
<ellipse cx="234.9" cy="225.1" rx="1.6" ry="1.8" fill="#b97a6d"/>
<ellipse cx="238.9" cy="225.4" rx="1.6" ry="1.8" fill="#b97a6d"/>
<ellipse cx="243.3" cy="225.9" rx="1.6" ry="1.8" fill="#b97a6d"/>
<ellipse cx="247.1" cy="225.8" rx="1.6" ry="1.8" fill="#b97a6d"/>
<ellipse cx="250.6" cy="226.8" rx="1.6" ry="1.8" fill="#b97a6d"/>
<ellipse cx="254.9" cy="227.3" rx="1.6" ry="1.8" fill="#b97a6d"/>
<ellipse cx="259.3" cy="227.8" rx="1.6" ry="1.8" fill="#b97a6d"/>
<ellipse cx="262.9" cy="228.3" rx="1.6" ry="1.8" fill="#b97a6d"/>
<ellipse cx="267.2" cy="228.7" rx="1.6" ry="1.8" fill="#b97a6d"/>
<ellipse cx="270.7" cy="229.0" rx="1.6" ry="1.8" fill="#b97a6d"/>
<ellipse cx="274.9" cy="229.6" rx="1.6" ry="1.8" fill="#b97a6d"/>
<ellipse cx="279.4" cy="229.4" rx="1.6" ry="1.8" fill="#b97a6d"/>
<ellipse cx="282.9" cy="229.9" rx="1.6" ry="1.8" fill="#b97a6d"/>
<ellipse cx="287.0" cy="230.3" rx="1.6" ry="1.8" fill="#b97a6d"/>
<ellipse cx="291.1" cy="230.6" rx="1.6" ry="1.8" fill="#b97a6d"/>
<ellipse cx="294.7" cy="231.3" rx="1.6" ry="1.8" fill="#b97a6d"/>
<ellipse cx="298.7" cy="231.7" rx="1.6" ry="1.8" fill="#b97a6d"/>
<ellipse cx="303.3" cy="232.6" rx="1.6" ry="1.8" fill="#b97a6d"/>
<ellipse cx="306.8" cy="232.2" rx="1.6" ry="1.8" fill="#b97a6d"/>
<ellipse cx="311.3" cy="233.5" rx="1.6" ry="1.8" fill="#b97a6d"/>
<ellipse cx="315.1" cy="233.2" rx="1.6" ry="1.8" fill="#b97a6d"/>
<ellipse cx="318.8" cy="234.3" rx="1.6" ry="1.8" fill="#b97a6d"/>
<ellipse cx="323.4" cy="234.0" rx="1.6" ry="1.8" fill="#b97a6d"/>
<ellipse cx="326.7" cy="234.7" rx="1.6" ry="1.8" fill="#b97a6d"/>
<ellipse cx="330.8" cy="235.4" rx="1.6" ry="1.8" fill="#b97a6d"/>
<ellipse cx="334.9" cy="235.9" rx="1.6" ry="1.8" fill="#b97a6d"/>
<ellipse cx="338.7" cy="236.1" rx="1.6" ry="1.8" fill="#b97a6d"/>
<ellipse cx="343.4" cy="236.7" rx="1.6" ry="1.8" fill="#b97a6d"/>
<ellipse cx="346.7" cy="236.6" rx="1.6" ry="1.8" fill="#b97a6d"/>
<ellipse cx="351.1" cy="237.3" rx="1.6" ry="1.8" fill="#b97a6d"/>
<ellipse cx="354.9" cy="237.8" rx="1.6" ry="1.8" fill="#b97a6d"/>
<ellipse cx="359.1" cy="238.7" rx="1.6" ry="1.8" fill="#b97a6d"/>
<ellipse cx="362.8" cy="238.7" rx="1.6" ry="1.8" fill="#b97a6d"/>
<ellipse cx="366.8" cy="239.2" rx="1.6" ry="1.8" fill="#b97a6d"/>
<ellipse cx="371.2" cy="239.3" rx="1.6" ry="1.8" fill="#b97a6d"/>
<ellipse cx="375.0" cy="240.2" rx="1.6" ry="1.8" fill="#b97a6d"/>
<ellipse cx="378.6" cy="240.6" rx="1.6" ry="1.8" fill="#b97a6d"/>
<ellipse cx="382.9" cy="240.9" rx="1.6" ry="1.8" fill="#b97a6d"/>
<ellipse cx="387.1" cy="241.5" rx="1.6" ry="1.8" fill="#b97a6d"/>
</g>
<path d="M170.0,214.5 C174.7,215.3 190.0,219.2 198.0,219.2 C206.0,219.1 211.8,214.5 218.0,214.2 C224.2,213.9 226.8,216.0 235.0,217.4 C243.2,218.8 256.3,221.2 267.0,222.5 C277.7,223.8 286.5,223.5 299.0,225.0 C311.5,226.5 326.8,229.7 342.0,231.5 C357.2,233.3 382.0,235.2 390.0,236.0 L390,430 L170,430 Z" fill="#f8c6a9"/>
<path d="M185.3,223.5 C187.4,227.2 195.4,241.3 197.8,245.9 C200.2,250.5 199.3,250.4 199.6,251.3" fill="none" stroke="#c78a78" stroke-width="2.5" stroke-linecap="round"/>
<path d="M208.6,232.5 C207.1,235.3 201.1,246.7 199.6,249.5" fill="none" stroke="#c78a78" stroke-width="2.5" stroke-linecap="round"/>
<path d="M199.6,251.3 C200.5,255.8 203.9,266.9 205.0,278.0 C206.1,289.1 205.8,311.2 206.0,317.8" fill="none" stroke="#c78a78" stroke-width="2.5" stroke-linecap="round"/>
<path d="M214.0,219.9 C214.6,224.2 217.8,237.7 217.6,245.9 C217.4,254.1 215.2,263.8 213.1,269.3 C211.0,274.9 206.3,277.6 205.0,279.2" fill="none" stroke="#c78a78" stroke-width="2.5" stroke-linecap="round"/>
<path d="M184.0,255.8 C184.7,258.3 187.3,268.5 188.0,271.0" fill="none" stroke="#c78a78" stroke-width="2.5" stroke-linecap="round"/>
<path d="M245.4,246.0 C245.7,248.4 246.9,257.9 247.2,260.3" fill="none" stroke="#c78a78" stroke-width="2.5" stroke-linecap="round"/>
<path d="M226.6,251.7 C230.0,253.1 240.9,256.5 247.2,260.3 C253.5,264.1 261.4,272.3 264.3,274.7" fill="none" stroke="#c78a78" stroke-width="2.5" stroke-linecap="round"/>
<path d="M238.3,265.7 C237.4,269.9 233.5,282.1 232.9,290.8 C232.3,299.5 234.4,313.3 234.7,317.8" fill="none" stroke="#c78a78" stroke-width="2.5" stroke-linecap="round"/>
<path d="M222.1,285.4 C225.4,288.1 238.3,296.2 241.9,301.6 C245.5,307.0 243.3,315.1 243.6,317.8" fill="none" stroke="#c78a78" stroke-width="2.5" stroke-linecap="round"/>
<path d="M258.0,235.0 C259.5,239.2 263.7,251.3 267.0,260.3 C270.3,269.3 275.1,279.4 277.8,289.0 C280.5,298.6 282.3,313.0 283.2,317.8" fill="none" stroke="#c78a78" stroke-width="2.5" stroke-linecap="round"/>
<path d="M270.6,237.0 C269.7,239.4 266.1,248.9 265.2,251.3" fill="none" stroke="#c78a78" stroke-width="2.5" stroke-linecap="round"/>
<path d="M280.7,226.7 C282.2,231.6 286.8,244.9 289.5,255.9 C292.2,266.9 295.8,281.4 297.2,292.8 C298.6,304.2 298.0,318.8 298.2,324.0" fill="none" stroke="#c78a78" stroke-width="2.5" stroke-linecap="round"/>
<path d="M342.0,237.4 C342.3,240.2 346.3,247.9 344.0,253.9 C341.7,259.9 330.7,267.2 328.4,273.4 C326.1,279.6 330.3,284.4 330.3,290.9 C330.3,297.4 328.4,303.9 328.4,312.3 C328.4,320.7 330.0,336.6 330.3,341.5" fill="none" stroke="#c78a78" stroke-width="2.5" stroke-linecap="round"/>
<path d="M366.3,239.3 C364.5,243.7 357.7,258.6 355.6,265.6 C353.5,272.6 355.0,274.0 353.7,281.1 C352.4,288.2 348.8,298.7 347.8,308.4 C346.8,318.1 347.8,334.3 347.8,339.5" fill="none" stroke="#c78a78" stroke-width="2.5" stroke-linecap="round"/>
<path d="M371.2,259.7 C369.6,262.9 364.6,273.7 361.4,279.2 C358.1,284.7 353.3,290.5 351.7,292.8" fill="none" stroke="#c78a78" stroke-width="2.5" stroke-linecap="round"/>
<path d="M372.1,281.1 C371.3,283.7 371.0,292.5 367.3,296.7 C363.6,300.9 352.7,304.8 349.8,306.4" fill="none" stroke="#c78a78" stroke-width="2.5" stroke-linecap="round"/>
<path d="M308.9,292.8 C310.2,296.1 313.8,307.1 316.7,312.3 C319.6,317.5 324.4,320.8 326.4,324.0 C328.3,327.2 328.1,330.4 328.4,331.7" fill="none" stroke="#c78a78" stroke-width="2.5" stroke-linecap="round"/>
<path d="M270.0,267.5 C271.3,271.1 275.9,279.5 277.8,288.9 C279.8,298.3 281.1,318.1 281.7,324.0" fill="none" stroke="#c78a78" stroke-width="2.5" stroke-linecap="round"/>
<circle cx="210.4" cy="252.8" r="3.4" fill="#c78a78"/>
<circle cx="184" cy="255.8" r="3.1" fill="#c78a78"/>
<circle cx="241.9" cy="243.2" r="4.1" fill="#c78a78"/>
<circle cx="259.8" cy="261.2" r="2.9" fill="#c78a78"/>
<circle cx="278.7" cy="288" r="4.1" fill="#c78a78"/>
<circle cx="329.3" cy="251" r="3.1" fill="#c78a78"/>
<circle cx="331.3" cy="289.9" r="3" fill="#c78a78"/>
<circle cx="356.6" cy="267.5" r="2.2" fill="#c78a78"/>
<circle cx="365.3" cy="321" r="3.6" fill="#c78a78"/>
<circle cx="307" cy="239.3" r="2.8" fill="#c78a78"/>
<path d="M187.0,312.0 C187.8,310.2 189.8,304.0 192.0,301.0 C194.2,298.0 196.8,295.6 200.0,294.0 C203.2,292.4 207.0,291.5 211.0,291.5 C215.0,291.5 221.8,293.6 224.0,294.0" fill="none" stroke="#3a9cc5" stroke-width="3.5" stroke-linecap="round"/>
<path d="M258.0,325.0 C258.7,320.0 259.9,303.4 262.0,295.0 C264.1,286.6 265.9,280.8 270.6,274.7 C275.3,268.6 286.8,261.2 290.0,258.5" fill="none" stroke="#3a9cc5" stroke-width="3.5" stroke-linecap="round"/>
<path d="M272.0,273.4 C275.2,270.8 285.2,260.1 291.4,257.8 C297.5,255.5 304.0,257.8 308.9,259.7 C313.8,261.6 318.7,267.9 320.6,269.5" fill="none" stroke="#3a9cc5" stroke-width="3.5" stroke-linecap="round"/>
<path d="M323.5,236.4 C321.1,240.3 311.3,255.8 308.9,259.7" fill="none" stroke="#3a9cc5" stroke-width="3.5" stroke-linecap="round"/>
<path d="M306.0,261.7 C306.5,263.6 307.1,270.0 308.9,273.4 C310.7,276.8 315.4,280.7 316.7,282.1" fill="none" stroke="#3a9cc5" stroke-width="3.5" stroke-linecap="round"/>
<path d="M338.0,271.4 C339.5,275.1 345.3,290.1 346.8,293.8" fill="none" stroke="#3a9cc5" stroke-width="3.5" stroke-linecap="round"/>
<path d="M346.8,314.2 C344.4,318.8 334.7,336.9 332.3,341.5" fill="none" stroke="#3a9cc5" stroke-width="3.5" stroke-linecap="round"/>
<ellipse cx="188" cy="273.2" rx="3.7" ry="3.7" fill="#3a9cc5"/>
<ellipse cx="229.8" cy="233" rx="3.5" ry="3.7" fill="#3a9cc5"/>
<ellipse cx="224.8" cy="271" rx="4.5" ry="4.5" fill="#3a9cc5"/>
<ellipse cx="219.4" cy="307" rx="2" ry="2.6" fill="#3a9cc5"/>
<ellipse cx="249" cy="298" rx="1.9" ry="2.8" fill="#3a9cc5"/>
<ellipse cx="303" cy="237.4" rx="3.3" ry="3.3" fill="#3a9cc5"/>
<ellipse cx="291.4" cy="308.4" rx="2.7" ry="3.1" fill="#3a9cc5"/>
<ellipse cx="317.7" cy="303.5" rx="2.8" ry="2.8" fill="#3a9cc5"/>
<ellipse cx="315.7" cy="326.9" rx="2.8" ry="2.8" fill="#3a9cc5"/>
<path d="M170.0,313.5 C173.3,314.1 182.3,315.7 190.0,317.0 C197.7,318.3 204.7,320.5 216.0,321.5 C227.3,322.5 245.7,321.6 258.0,323.0 C270.3,324.4 280.0,327.0 290.0,330.0 C300.0,333.0 308.8,338.3 318.0,341.0 C327.2,343.7 336.3,345.2 345.0,346.0 C353.7,346.8 362.5,345.8 370.0,345.5 C377.5,345.2 386.7,344.2 390.0,344.0 L390,430 L170,430 Z" fill="#f9cc6c"/>
<g clip-path="url(#cadip)">
<path d="M214.8,327.4 q3.2,-2.4 6.3,0 t6.3,0" fill="none" stroke="#f3b85a" stroke-width="2.1" stroke-linecap="round" transform="rotate(-5 214.8 327.4)"/>
<path d="M236.2,331.2 q3.2,-2.4 6.4,0 t6.4,0" fill="none" stroke="#f3b85a" stroke-width="2.1" stroke-linecap="round" transform="rotate(20 236.2 331.2)"/>
<path d="M254.8,332.2 q2.1,-2.4 4.2,0 t4.2,0" fill="none" stroke="#f3b85a" stroke-width="2.1" stroke-linecap="round" transform="rotate(-2 254.8 332.2)"/>
<path d="M277.4,336.4 q3.2,-2.4 6.3,0 t6.3,0" fill="none" stroke="#f3b85a" stroke-width="2.1" stroke-linecap="round" transform="rotate(-8 277.4 336.4)"/>
<path d="M315.1,341.6 q2.3,-2.4 4.5,0 t4.5,0" fill="none" stroke="#f3b85a" stroke-width="2.1" stroke-linecap="round" transform="rotate(-2 315.1 341.6)"/>
<path d="M333.4,342.9 q2.2,-2.4 4.4,0 t4.4,0" fill="none" stroke="#f3b85a" stroke-width="2.1" stroke-linecap="round" transform="rotate(19 333.4 342.9)"/>
<path d="M354.6,346.5 q2.9,-2.4 5.9,0 t5.9,0" fill="none" stroke="#f3b85a" stroke-width="2.1" stroke-linecap="round" transform="rotate(-10 354.6 346.5)"/>
<path d="M378.0,350.8 q2.8,-2.4 5.6,0 t5.6,0" fill="none" stroke="#f3b85a" stroke-width="2.1" stroke-linecap="round" transform="rotate(-10 378.0 350.8)"/>
<path d="M184.6,333.1 q3.1,-2.4 6.2,0 t6.2,0" fill="none" stroke="#f3b85a" stroke-width="2.1" stroke-linecap="round" transform="rotate(-13 184.6 333.1)"/>
<path d="M203.8,333.3 q2.7,-2.4 5.4,0 t5.4,0" fill="none" stroke="#f3b85a" stroke-width="2.1" stroke-linecap="round" transform="rotate(-20 203.8 333.3)"/>
<path d="M223.3,338.3 q3.1,-2.4 6.2,0 t6.2,0" fill="none" stroke="#f3b85a" stroke-width="2.1" stroke-linecap="round" transform="rotate(-18 223.3 338.3)"/>
<path d="M246.5,339.5 q2.8,-2.4 5.5,0 t5.5,0" fill="none" stroke="#f3b85a" stroke-width="2.1" stroke-linecap="round" transform="rotate(4 246.5 339.5)"/>
<path d="M303.4,348.5 q3.1,-2.4 6.2,0 t6.2,0" fill="none" stroke="#f3b85a" stroke-width="2.1" stroke-linecap="round" transform="rotate(9 303.4 348.5)"/>
<path d="M323.4,351.8 q2.2,-2.4 4.3,0 t4.3,0" fill="none" stroke="#f3b85a" stroke-width="2.1" stroke-linecap="round" transform="rotate(10 323.4 351.8)"/>
<path d="M367.5,357.6 q2.6,-2.4 5.2,0 t5.2,0" fill="none" stroke="#f3b85a" stroke-width="2.1" stroke-linecap="round" transform="rotate(-14 367.5 357.6)"/>
<path d="M384.3,359.2 q2.3,-2.4 4.5,0 t4.5,0" fill="none" stroke="#f3b85a" stroke-width="2.1" stroke-linecap="round" transform="rotate(-16 384.3 359.2)"/>
<path d="M175.1,338.0 q2.8,-2.4 5.6,0 t5.6,0" fill="none" stroke="#f3b85a" stroke-width="2.1" stroke-linecap="round" transform="rotate(6 175.1 338.0)"/>
<path d="M194.0,340.8 q2.9,-2.4 5.7,0 t5.7,0" fill="none" stroke="#f3b85a" stroke-width="2.1" stroke-linecap="round" transform="rotate(-2 194.0 340.8)"/>
<path d="M234.6,347.5 q3.1,-2.4 6.3,0 t6.3,0" fill="none" stroke="#f3b85a" stroke-width="2.1" stroke-linecap="round" transform="rotate(2 234.6 347.5)"/>
<path d="M257.0,350.4 q3.0,-2.4 6.1,0 t6.1,0" fill="none" stroke="#f3b85a" stroke-width="2.1" stroke-linecap="round" transform="rotate(-8 257.0 350.4)"/>
<path d="M273.6,352.3 q3.1,-2.4 6.2,0 t6.2,0" fill="none" stroke="#f3b85a" stroke-width="2.1" stroke-linecap="round" transform="rotate(-9 273.6 352.3)"/>
<path d="M296.8,356.7 q2.1,-2.4 4.3,0 t4.3,0" fill="none" stroke="#f3b85a" stroke-width="2.1" stroke-linecap="round" transform="rotate(11 296.8 356.7)"/>
<path d="M315.0,357.6 q3.1,-2.4 6.1,0 t6.1,0" fill="none" stroke="#f3b85a" stroke-width="2.1" stroke-linecap="round" transform="rotate(3 315.0 357.6)"/>
<path d="M333.3,362.8 q2.8,-2.4 5.6,0 t5.6,0" fill="none" stroke="#f3b85a" stroke-width="2.1" stroke-linecap="round" transform="rotate(9 333.3 362.8)"/>
<path d="M354.6,364.1 q2.1,-2.4 4.2,0 t4.2,0" fill="none" stroke="#f3b85a" stroke-width="2.1" stroke-linecap="round" transform="rotate(-17 354.6 364.1)"/>
<path d="M377.3,367.3 q2.1,-2.4 4.2,0 t4.2,0" fill="none" stroke="#f3b85a" stroke-width="2.1" stroke-linecap="round" transform="rotate(-8 377.3 367.3)"/>
<path d="M184.1,350.4 q3.1,-2.4 6.2,0 t6.2,0" fill="none" stroke="#f3b85a" stroke-width="2.1" stroke-linecap="round" transform="rotate(0 184.1 350.4)"/>
<path d="M203.6,351.6 q2.0,-2.4 4.1,0 t4.1,0" fill="none" stroke="#f3b85a" stroke-width="2.1" stroke-linecap="round" transform="rotate(3 203.6 351.6)"/>
<path d="M224.7,353.6 q3.2,-2.4 6.3,0 t6.3,0" fill="none" stroke="#f3b85a" stroke-width="2.1" stroke-linecap="round" transform="rotate(18 224.7 353.6)"/>
<path d="M245.8,356.5 q2.1,-2.4 4.3,0 t4.3,0" fill="none" stroke="#f3b85a" stroke-width="2.1" stroke-linecap="round" transform="rotate(1 245.8 356.5)"/>
<path d="M263.5,361.7 q2.5,-2.4 5.1,0 t5.1,0" fill="none" stroke="#f3b85a" stroke-width="2.1" stroke-linecap="round" transform="rotate(-9 263.5 361.7)"/>
<path d="M286.3,364.8 q2.3,-2.4 4.5,0 t4.5,0" fill="none" stroke="#f3b85a" stroke-width="2.1" stroke-linecap="round" transform="rotate(1 286.3 364.8)"/>
<path d="M308.5,366.1 q3.1,-2.4 6.3,0 t6.3,0" fill="none" stroke="#f3b85a" stroke-width="2.1" stroke-linecap="round" transform="rotate(-7 308.5 366.1)"/>
<path d="M343.3,372.7 q2.6,-2.4 5.1,0 t5.1,0" fill="none" stroke="#f3b85a" stroke-width="2.1" stroke-linecap="round" transform="rotate(17 343.3 372.7)"/>
<path d="M366.4,374.6 q2.9,-2.4 5.9,0 t5.9,0" fill="none" stroke="#f3b85a" stroke-width="2.1" stroke-linecap="round" transform="rotate(-10 366.4 374.6)"/>
<path d="M385.8,378.1 q2.2,-2.4 4.3,0 t4.3,0" fill="none" stroke="#f3b85a" stroke-width="2.1" stroke-linecap="round" transform="rotate(-12 385.8 378.1)"/>
<path d="M213.5,361.6 q3.1,-2.4 6.1,0 t6.1,0" fill="none" stroke="#f3b85a" stroke-width="2.1" stroke-linecap="round" transform="rotate(-13 213.5 361.6)"/>
<path d="M237.2,363.9 q2.3,-2.4 4.6,0 t4.6,0" fill="none" stroke="#f3b85a" stroke-width="2.1" stroke-linecap="round" transform="rotate(-6 237.2 363.9)"/>
<path d="M277.6,370.3 q2.8,-2.4 5.6,0 t5.6,0" fill="none" stroke="#f3b85a" stroke-width="2.1" stroke-linecap="round" transform="rotate(-0 277.6 370.3)"/>
<path d="M298.2,374.9 q2.4,-2.4 4.8,0 t4.8,0" fill="none" stroke="#f3b85a" stroke-width="2.1" stroke-linecap="round" transform="rotate(15 298.2 374.9)"/>
<path d="M313.8,375.6 q3.2,-2.4 6.4,0 t6.4,0" fill="none" stroke="#f3b85a" stroke-width="2.1" stroke-linecap="round" transform="rotate(-15 313.8 375.6)"/>
<path d="M336.9,379.8 q2.0,-2.4 4.0,0 t4.0,0" fill="none" stroke="#f3b85a" stroke-width="2.1" stroke-linecap="round" transform="rotate(18 336.9 379.8)"/>
<path d="M354.9,382.6 q2.5,-2.4 5.1,0 t5.1,0" fill="none" stroke="#f3b85a" stroke-width="2.1" stroke-linecap="round" transform="rotate(14 354.9 382.6)"/>
<path d="M377.1,384.2 q2.6,-2.4 5.3,0 t5.3,0" fill="none" stroke="#f3b85a" stroke-width="2.1" stroke-linecap="round" transform="rotate(8 377.1 384.2)"/>
<path d="M206.0,367.8 q3.0,-2.4 5.9,0 t5.9,0" fill="none" stroke="#f3b85a" stroke-width="2.1" stroke-linecap="round" transform="rotate(13 206.0 367.8)"/>
<path d="M223.3,371.9 q2.1,-2.4 4.3,0 t4.3,0" fill="none" stroke="#f3b85a" stroke-width="2.1" stroke-linecap="round" transform="rotate(-12 223.3 371.9)"/>
<path d="M248.8,376.4 q3.0,-2.4 6.1,0 t6.1,0" fill="none" stroke="#f3b85a" stroke-width="2.1" stroke-linecap="round" transform="rotate(6 248.8 376.4)"/>
<path d="M265.3,378.1 q2.3,-2.4 4.7,0 t4.7,0" fill="none" stroke="#f3b85a" stroke-width="2.1" stroke-linecap="round" transform="rotate(-20 265.3 378.1)"/>
<path d="M286.9,380.9 q2.6,-2.4 5.3,0 t5.3,0" fill="none" stroke="#f3b85a" stroke-width="2.1" stroke-linecap="round" transform="rotate(-3 286.9 380.9)"/>
<path d="M304.8,383.9 q2.7,-2.4 5.5,0 t5.5,0" fill="none" stroke="#f3b85a" stroke-width="2.1" stroke-linecap="round" transform="rotate(10 304.8 383.9)"/>
<path d="M363.3,389.9 q2.1,-2.4 4.3,0 t4.3,0" fill="none" stroke="#f3b85a" stroke-width="2.1" stroke-linecap="round" transform="rotate(-2 363.3 389.9)"/>
<path d="M385.6,395.4 q2.7,-2.4 5.3,0 t5.3,0" fill="none" stroke="#f3b85a" stroke-width="2.1" stroke-linecap="round" transform="rotate(-19 385.6 395.4)"/>
<path d="M177.8,374.8 q3.0,-2.4 6.1,0 t6.1,0" fill="none" stroke="#f3b85a" stroke-width="2.1" stroke-linecap="round" transform="rotate(5 177.8 374.8)"/>
<path d="M197.3,377.8 q2.0,-2.4 4.1,0 t4.1,0" fill="none" stroke="#f3b85a" stroke-width="2.1" stroke-linecap="round" transform="rotate(15 197.3 377.8)"/>
<path d="M235.0,380.8 q2.1,-2.4 4.2,0 t4.2,0" fill="none" stroke="#f3b85a" stroke-width="2.1" stroke-linecap="round" transform="rotate(-11 235.0 380.8)"/>
<path d="M253.0,384.3 q2.9,-2.4 5.8,0 t5.8,0" fill="none" stroke="#f3b85a" stroke-width="2.1" stroke-linecap="round" transform="rotate(-4 253.0 384.3)"/>
<path d="M274.0,388.8 q2.9,-2.4 5.7,0 t5.7,0" fill="none" stroke="#f3b85a" stroke-width="2.1" stroke-linecap="round" transform="rotate(-11 274.0 388.8)"/>
<path d="M295.4,390.3 q2.0,-2.4 4.1,0 t4.1,0" fill="none" stroke="#f3b85a" stroke-width="2.1" stroke-linecap="round" transform="rotate(-2 295.4 390.3)"/>
<path d="M317.6,394.1 q2.9,-2.4 5.7,0 t5.7,0" fill="none" stroke="#f3b85a" stroke-width="2.1" stroke-linecap="round" transform="rotate(11 317.6 394.1)"/>
<path d="M338.2,397.7 q2.5,-2.4 5.0,0 t5.0,0" fill="none" stroke="#f3b85a" stroke-width="2.1" stroke-linecap="round" transform="rotate(6 338.2 397.7)"/>
<path d="M356.9,400.2 q2.6,-2.4 5.1,0 t5.1,0" fill="none" stroke="#f3b85a" stroke-width="2.1" stroke-linecap="round" transform="rotate(-12 356.9 400.2)"/>
<path d="M375.0,400.8 q3.0,-2.4 5.9,0 t5.9,0" fill="none" stroke="#f3b85a" stroke-width="2.1" stroke-linecap="round" transform="rotate(-12 375.0 400.8)"/>
<path d="M186.2,384.8 q2.1,-2.4 4.2,0 t4.2,0" fill="none" stroke="#f3b85a" stroke-width="2.1" stroke-linecap="round" transform="rotate(4 186.2 384.8)"/>
<path d="M205.2,385.4 q2.0,-2.4 4.0,0 t4.0,0" fill="none" stroke="#f3b85a" stroke-width="2.1" stroke-linecap="round" transform="rotate(-14 205.2 385.4)"/>
<path d="M246.3,393.6 q2.4,-2.4 4.8,0 t4.8,0" fill="none" stroke="#f3b85a" stroke-width="2.1" stroke-linecap="round" transform="rotate(17 246.3 393.6)"/>
<path d="M283.4,397.7 q2.6,-2.4 5.2,0 t5.2,0" fill="none" stroke="#f3b85a" stroke-width="2.1" stroke-linecap="round" transform="rotate(12 283.4 397.7)"/>
<path d="M305.7,401.8 q2.7,-2.4 5.3,0 t5.3,0" fill="none" stroke="#f3b85a" stroke-width="2.1" stroke-linecap="round" transform="rotate(-13 305.7 401.8)"/>
<path d="M325.6,403.1 q2.3,-2.4 4.6,0 t4.6,0" fill="none" stroke="#f3b85a" stroke-width="2.1" stroke-linecap="round" transform="rotate(-8 325.6 403.1)"/>
<path d="M347.9,405.1 q2.3,-2.4 4.5,0 t4.5,0" fill="none" stroke="#f3b85a" stroke-width="2.1" stroke-linecap="round" transform="rotate(7 347.9 405.1)"/>
<path d="M366.6,407.8 q2.5,-2.4 5.0,0 t5.0,0" fill="none" stroke="#f3b85a" stroke-width="2.1" stroke-linecap="round" transform="rotate(-7 366.6 407.8)"/>
<path d="M388.1,412.9 q2.8,-2.4 5.7,0 t5.7,0" fill="none" stroke="#f3b85a" stroke-width="2.1" stroke-linecap="round" transform="rotate(-15 388.1 412.9)"/>
<path d="M176.1,389.7 q3.1,-2.4 6.3,0 t6.3,0" fill="none" stroke="#f3b85a" stroke-width="2.1" stroke-linecap="round" transform="rotate(5 176.1 389.7)"/>
<path d="M193.2,393.4 q2.6,-2.4 5.1,0 t5.1,0" fill="none" stroke="#f3b85a" stroke-width="2.1" stroke-linecap="round" transform="rotate(-14 193.2 393.4)"/>
<path d="M237.0,398.7 q2.1,-2.4 4.2,0 t4.2,0" fill="none" stroke="#f3b85a" stroke-width="2.1" stroke-linecap="round" transform="rotate(-8 237.0 398.7)"/>
<path d="M295.1,406.7 q2.6,-2.4 5.2,0 t5.2,0" fill="none" stroke="#f3b85a" stroke-width="2.1" stroke-linecap="round" transform="rotate(-16 295.1 406.7)"/>
<path d="M318.2,410.3 q2.6,-2.4 5.1,0 t5.1,0" fill="none" stroke="#f3b85a" stroke-width="2.1" stroke-linecap="round" transform="rotate(15 318.2 410.3)"/>
<path d="M333.3,412.2 q2.3,-2.4 4.7,0 t4.7,0" fill="none" stroke="#f3b85a" stroke-width="2.1" stroke-linecap="round" transform="rotate(13 333.3 412.2)"/>
<path d="M356.0,415.7 q3.1,-2.4 6.1,0 t6.1,0" fill="none" stroke="#f3b85a" stroke-width="2.1" stroke-linecap="round" transform="rotate(3 356.0 415.7)"/>
<path d="M375.7,419.4 q2.5,-2.4 5.0,0 t5.0,0" fill="none" stroke="#f3b85a" stroke-width="2.1" stroke-linecap="round" transform="rotate(-3 375.7 419.4)"/>
<path d="M183.8,400.4 q2.4,-2.4 4.8,0 t4.8,0" fill="none" stroke="#f3b85a" stroke-width="2.1" stroke-linecap="round" transform="rotate(-5 183.8 400.4)"/>
<path d="M243.7,409.8 q2.1,-2.4 4.2,0 t4.2,0" fill="none" stroke="#f3b85a" stroke-width="2.1" stroke-linecap="round" transform="rotate(-17 243.7 409.8)"/>
<path d="M266.8,411.6 q2.0,-2.4 4.1,0 t4.1,0" fill="none" stroke="#f3b85a" stroke-width="2.1" stroke-linecap="round" transform="rotate(-2 266.8 411.6)"/>
<path d="M284.0,414.2 q2.6,-2.4 5.3,0 t5.3,0" fill="none" stroke="#f3b85a" stroke-width="2.1" stroke-linecap="round" transform="rotate(14 284.0 414.2)"/>
<path d="M308.1,418.4 q2.2,-2.4 4.4,0 t4.4,0" fill="none" stroke="#f3b85a" stroke-width="2.1" stroke-linecap="round" transform="rotate(-1 308.1 418.4)"/>
<path d="M348.3,423.3 q3.2,-2.4 6.4,0 t6.4,0" fill="none" stroke="#f3b85a" stroke-width="2.1" stroke-linecap="round" transform="rotate(18 348.3 423.3)"/>
<path d="M365.3,427.1 q2.2,-2.4 4.3,0 t4.3,0" fill="none" stroke="#f3b85a" stroke-width="2.1" stroke-linecap="round" transform="rotate(10 365.3 427.1)"/>
<path d="M387.4,429.0 q2.2,-2.4 4.4,0 t4.4,0" fill="none" stroke="#f3b85a" stroke-width="2.1" stroke-linecap="round" transform="rotate(-4 387.4 429.0)"/>
<path d="M178.6,408.2 q2.8,-2.4 5.5,0 t5.5,0" fill="none" stroke="#f3b85a" stroke-width="2.1" stroke-linecap="round" transform="rotate(-3 178.6 408.2)"/>
<path d="M196.7,410.9 q2.0,-2.4 4.1,0 t4.1,0" fill="none" stroke="#f3b85a" stroke-width="2.1" stroke-linecap="round" transform="rotate(13 196.7 410.9)"/>
<path d="M217.0,413.1 q2.7,-2.4 5.5,0 t5.5,0" fill="none" stroke="#f3b85a" stroke-width="2.1" stroke-linecap="round" transform="rotate(0 217.0 413.1)"/>
<path d="M238.4,417.7 q2.4,-2.4 4.8,0 t4.8,0" fill="none" stroke="#f3b85a" stroke-width="2.1" stroke-linecap="round" transform="rotate(4 238.4 417.7)"/>
<path d="M276.0,421.5 q2.1,-2.4 4.1,0 t4.1,0" fill="none" stroke="#f3b85a" stroke-width="2.1" stroke-linecap="round" transform="rotate(-11 276.0 421.5)"/>
<path d="M298.9,426.2 q2.6,-2.4 5.1,0 t5.1,0" fill="none" stroke="#f3b85a" stroke-width="2.1" stroke-linecap="round" transform="rotate(-19 298.9 426.2)"/>
<path d="M313.7,426.5 q2.4,-2.4 4.8,0 t4.8,0" fill="none" stroke="#f3b85a" stroke-width="2.1" stroke-linecap="round" transform="rotate(-10 313.7 426.5)"/>
<path d="M333.4,429.0 q2.9,-2.4 5.9,0 t5.9,0" fill="none" stroke="#f3b85a" stroke-width="2.1" stroke-linecap="round" transform="rotate(17 333.4 429.0)"/>
<path d="M358.0,434.5 q2.2,-2.4 4.4,0 t4.4,0" fill="none" stroke="#f3b85a" stroke-width="2.1" stroke-linecap="round" transform="rotate(-9 358.0 434.5)"/>
<path d="M373.4,434.8 q2.6,-2.4 5.2,0 t5.2,0" fill="none" stroke="#f3b85a" stroke-width="2.1" stroke-linecap="round" transform="rotate(-20 373.4 434.8)"/>
<path d="M184.8,419.0 q2.9,-2.4 5.8,0 t5.8,0" fill="none" stroke="#f3b85a" stroke-width="2.1" stroke-linecap="round" transform="rotate(9 184.8 419.0)"/>
<path d="M208.5,421.5 q2.7,-2.4 5.4,0 t5.4,0" fill="none" stroke="#f3b85a" stroke-width="2.1" stroke-linecap="round" transform="rotate(-9 208.5 421.5)"/>
<path d="M223.2,422.6 q2.2,-2.4 4.3,0 t4.3,0" fill="none" stroke="#f3b85a" stroke-width="2.1" stroke-linecap="round" transform="rotate(-17 223.2 422.6)"/>
<path d="M244.5,425.9 q2.6,-2.4 5.2,0 t5.2,0" fill="none" stroke="#f3b85a" stroke-width="2.1" stroke-linecap="round" transform="rotate(13 244.5 425.9)"/>
<path d="M267.5,429.8 q2.5,-2.4 5.0,0 t5.0,0" fill="none" stroke="#f3b85a" stroke-width="2.1" stroke-linecap="round" transform="rotate(-7 267.5 429.8)"/>
<path d="M286.8,433.3 q2.4,-2.4 4.7,0 t4.7,0" fill="none" stroke="#f3b85a" stroke-width="2.1" stroke-linecap="round" transform="rotate(-14 286.8 433.3)"/>
<path d="M303.1,434.8 q2.0,-2.4 4.0,0 t4.0,0" fill="none" stroke="#f3b85a" stroke-width="2.1" stroke-linecap="round" transform="rotate(-8 303.1 434.8)"/>
<path d="M324.4,436.6 q2.7,-2.4 5.5,0 t5.5,0" fill="none" stroke="#f3b85a" stroke-width="2.1" stroke-linecap="round" transform="rotate(-9 324.4 436.6)"/>
<path d="M347.4,439.9 q2.1,-2.4 4.3,0 t4.3,0" fill="none" stroke="#f3b85a" stroke-width="2.1" stroke-linecap="round" transform="rotate(4 347.4 439.9)"/>
<path d="M367.2,444.2 q3.1,-2.4 6.2,0 t6.2,0" fill="none" stroke="#f3b85a" stroke-width="2.1" stroke-linecap="round" transform="rotate(5 367.2 444.2)"/>
</g>
<path d="M170.0,313.5 C173.3,314.1 182.3,315.7 190.0,317.0 C197.7,318.3 204.7,320.5 216.0,321.5 C227.3,322.5 245.7,321.6 258.0,323.0 C270.3,324.4 280.0,327.0 290.0,330.0 C300.0,333.0 308.8,338.3 318.0,341.0 C327.2,343.7 336.3,345.2 345.0,346.0 C353.7,346.8 362.5,345.8 370.0,345.5 C377.5,345.2 386.7,344.2 390.0,344.0" fill="none" stroke="#d09282" stroke-width="4"/>
</g>
<g clip-path="url(#cr)">
<rect x="380" y="140" width="70" height="290" fill="#cc875b"/>
<path d="M395,205 Q406.5,193.5 418,188" fill="none" stroke="#b97a4d" stroke-width="0.9" opacity="0.7"/>
<path d="M400,190 Q407.5,181.0 415,178" fill="none" stroke="#b97a4d" stroke-width="0.9" opacity="0.7"/>
<path d="M420,172 Q430.0,163.0 440,160" fill="none" stroke="#b97a4d" stroke-width="0.9" opacity="0.7"/>
<path d="M388,214 Q395.0,206.0 402,204" fill="none" stroke="#b97a4d" stroke-width="0.9" opacity="0.7"/>
<path d="M380.0,218.0 C383.3,216.3 394.2,211.5 400.0,208.0 C405.8,204.5 410.0,200.7 415.0,197.0 C420.0,193.3 424.8,189.4 430.0,186.0 C435.2,182.6 443.3,178.1 446.0,176.5 L446.0,190.5 C443.7,191.2 436.4,192.9 432.0,195.0 C427.6,197.1 423.5,199.2 419.4,203.0 C415.3,206.8 411.6,213.7 407.5,218.0 C403.4,222.3 399.6,226.0 395.0,229.0 C390.4,232.0 382.5,234.8 380.0,236.0 Z" fill="#9b6f66"/>
<path d="M380.0,236.0 C382.5,234.8 390.4,232.0 395.0,229.0 C399.6,226.0 403.4,222.3 407.5,218.0 C411.6,213.7 415.3,206.8 419.4,203.0 C423.5,199.2 427.6,197.1 432.0,195.0 C436.4,192.9 443.7,191.2 446.0,190.5 L446,430 L380,430 Z" fill="#c99886"/>
<path d="M396.5,228.0 C397.9,232.7 401.5,246.3 404.6,256.0 C407.8,265.7 413.6,275.2 415.4,286.0 C417.2,296.8 416.3,314.3 415.4,321.0 C414.5,327.7 410.9,325.2 410.0,326.0" fill="none" stroke="#a9766a" stroke-width="2" stroke-linecap="round"/>
<path d="M427.5,211.0 C428.4,213.2 433.2,219.2 433.0,224.0 C432.8,228.8 426.7,234.7 426.0,240.0 C425.3,245.3 430.5,250.2 429.0,256.0 C427.5,261.8 418.8,271.8 416.8,275.0" fill="none" stroke="#a9766a" stroke-width="2" stroke-linecap="round"/>
<path d="M442.4,294.0 C438.3,294.9 422.1,298.4 418.0,299.3" fill="none" stroke="#a9766a" stroke-width="2" stroke-linecap="round"/>
<path d="M402.0,312.8 C399.3,316.4 388.5,330.8 385.8,334.4" fill="none" stroke="#a9766a" stroke-width="2" stroke-linecap="round"/>
<path d="M414.0,236.0 C413.3,239.7 412.0,250.7 410.0,258.0 C408.0,265.3 403.3,276.3 402.0,280.0" fill="none" stroke="#a9766a" stroke-width="2" stroke-linecap="round"/>
<circle cx="414" cy="234" r="3" fill="#a9766a"/><circle cx="391.2" cy="263" r="3.9" fill="#a9766a"/>
<path d="M385.8,279.0 C388.3,281.1 395.7,288.4 400.6,291.3 C405.5,294.2 412.9,295.7 415.4,296.6" fill="none" stroke="#2f7fb5" stroke-width="2.8" stroke-linecap="round"/>
<path d="M389.8,304.7 C391.8,301.1 398.2,289.5 402.0,283.2 C405.8,276.9 406.6,273.5 412.7,267.0 C418.8,260.5 434.0,247.9 438.3,244.1" fill="none" stroke="#2f7fb5" stroke-width="2.8" stroke-linecap="round"/>
<path d="M426.2,285.9 C427.8,284.3 434.0,278.0 435.6,276.4" fill="none" stroke="#2f7fb5" stroke-width="2.8" stroke-linecap="round"/>
<circle cx="389.8" cy="242.8" r="2.7" fill="#2f7fb5"/><circle cx="435" cy="277" r="3.3" fill="#2f7fb5"/>
<path d="M380.0,343.0 C382.5,341.8 389.7,338.8 395.0,336.0 C400.3,333.2 407.0,330.0 412.0,326.0 C417.0,322.0 421.2,315.5 425.0,312.0 C428.8,308.5 431.5,306.7 435.0,305.0 C438.5,303.3 444.2,302.5 446.0,302.0 L446,430 L380,430 Z" fill="#daa046"/>
<path d="M411.9,363.5 q3,-2.5 8,-4" fill="none" stroke="#cc8f3a" stroke-width="1.6" stroke-linecap="round"/>
<path d="M389.7,392.9 q3,-2.5 8,-4" fill="none" stroke="#cc8f3a" stroke-width="1.6" stroke-linecap="round"/>
<path d="M404.8,363.9 q3,-2.5 8,-4" fill="none" stroke="#cc8f3a" stroke-width="1.6" stroke-linecap="round"/>
<path d="M415.3,380.0 q3,-2.5 8,-4" fill="none" stroke="#cc8f3a" stroke-width="1.6" stroke-linecap="round"/>
<path d="M402.1,371.4 q3,-2.5 8,-4" fill="none" stroke="#cc8f3a" stroke-width="1.6" stroke-linecap="round"/>
<path d="M420.3,364.5 q3,-2.5 8,-4" fill="none" stroke="#cc8f3a" stroke-width="1.6" stroke-linecap="round"/>
<path d="M402.7,352.2 q3,-2.5 8,-4" fill="none" stroke="#cc8f3a" stroke-width="1.6" stroke-linecap="round"/>
<path d="M412.2,366.9 q3,-2.5 8,-4" fill="none" stroke="#cc8f3a" stroke-width="1.6" stroke-linecap="round"/>
<path d="M422.7,330.0 q3,-2.5 8,-4" fill="none" stroke="#cc8f3a" stroke-width="1.6" stroke-linecap="round"/>
<path d="M410.8,365.3 q3,-2.5 8,-4" fill="none" stroke="#cc8f3a" stroke-width="1.6" stroke-linecap="round"/>
<path d="M395.7,344.8 q3,-2.5 8,-4" fill="none" stroke="#cc8f3a" stroke-width="1.6" stroke-linecap="round"/>
<path d="M439.7,312.6 q3,-2.5 8,-4" fill="none" stroke="#cc8f3a" stroke-width="1.6" stroke-linecap="round"/>
<path d="M413.9,345.9 q3,-2.5 8,-4" fill="none" stroke="#cc8f3a" stroke-width="1.6" stroke-linecap="round"/>
<path d="M385.9,362.6 q3,-2.5 8,-4" fill="none" stroke="#cc8f3a" stroke-width="1.6" stroke-linecap="round"/>
<path d="M393.7,366.5 q3,-2.5 8,-4" fill="none" stroke="#cc8f3a" stroke-width="1.6" stroke-linecap="round"/>
<path d="M438.6,316.8 q3,-2.5 8,-4" fill="none" stroke="#cc8f3a" stroke-width="1.6" stroke-linecap="round"/>
<path d="M405.1,378.3 q3,-2.5 8,-4" fill="none" stroke="#cc8f3a" stroke-width="1.6" stroke-linecap="round"/>
<path d="M421.5,323.6 q3,-2.5 8,-4" fill="none" stroke="#cc8f3a" stroke-width="1.6" stroke-linecap="round"/>
<path d="M397.7,355.6 q3,-2.5 8,-4" fill="none" stroke="#cc8f3a" stroke-width="1.6" stroke-linecap="round"/>
<path d="M437.7,339.0 q3,-2.5 8,-4" fill="none" stroke="#cc8f3a" stroke-width="1.6" stroke-linecap="round"/>
<path d="M399.5,367.9 q3,-2.5 8,-4" fill="none" stroke="#cc8f3a" stroke-width="1.6" stroke-linecap="round"/>
<path d="M413.1,337.0 q3,-2.5 8,-4" fill="none" stroke="#cc8f3a" stroke-width="1.6" stroke-linecap="round"/>
<path d="M424.0,365.9 q3,-2.5 8,-4" fill="none" stroke="#cc8f3a" stroke-width="1.6" stroke-linecap="round"/>
<path d="M412.6,362.5 q3,-2.5 8,-4" fill="none" stroke="#cc8f3a" stroke-width="1.6" stroke-linecap="round"/>
<path d="M430.2,375.7 q3,-2.5 8,-4" fill="none" stroke="#cc8f3a" stroke-width="1.6" stroke-linecap="round"/>
<path d="M420.8,325.5 q3,-2.5 8,-4" fill="none" stroke="#cc8f3a" stroke-width="1.6" stroke-linecap="round"/>
<path d="M380.0,343.0 C382.5,341.8 389.7,338.8 395.0,336.0 C400.3,333.2 407.0,330.0 412.0,326.0 C417.0,322.0 421.2,315.5 425.0,312.0 C428.8,308.5 431.5,306.7 435.0,305.0 C438.5,303.3 444.2,302.5 446.0,302.0" fill="none" stroke="#b98a70" stroke-width="1.5" opacity="0.5"/>
</g>
<g stroke="#444" stroke-width="1.9" fill="none">
<path d="M169.5,161.5 H164.6 V393"/>
<path d="M164.6,216.6 H169.5"/>
<path d="M164.6,314.3 H169.5"/>
<path d="M164.6,368.6 H169.5"/>
</g>
<g stroke="#3a3e42" stroke-width="1.8" fill="none">
<path d="M217,322 V426"/><path d="M258.6,323 V462.5"/><path d="M318,345 L340.2,452"/>
</g>
<text x="88.0" y="193.8" font-size="17" fill="#383838" stroke="#383838" stroke-width="0.3" textLength="69.7" lengthAdjust="spacingAndGlyphs">Epidermis</text>
<text x="107.6" y="260.8" font-size="17" fill="#383838" stroke="#383838" stroke-width="0.3" textLength="49.5" lengthAdjust="spacingAndGlyphs">Dermis</text>
<text x="39.5" y="319.2" font-size="17" fill="#383838" stroke="#383838" stroke-width="0.3" textLength="111.8" lengthAdjust="spacingAndGlyphs">Adipose tissue</text>
<text x="100.3" y="411.6" font-size="17" fill="#383838" stroke="#383838" stroke-width="0.3" textLength="62.3" lengthAdjust="spacingAndGlyphs">Collagen</text>
<text x="156.3" y="446.4" font-size="17" fill="#383838" stroke="#383838" stroke-width="0.3" textLength="96.2" lengthAdjust="spacingAndGlyphs">Blood Vessels</text>
<text x="206.8" y="483" font-size="17" fill="#383838" stroke="#383838" stroke-width="0.3" textLength="95.5" lengthAdjust="spacingAndGlyphs">Blood Vessels</text>
<text x="324.0" y="469.1" font-size="17" fill="#383838" stroke="#383838" stroke-width="0.3" textLength="46.9" lengthAdjust="spacingAndGlyphs">Elastin</text>
<defs>
<clipPath id="ct"><ellipse cx="656.6" cy="180.4" rx="122" ry="108"/></clipPath>
<clipPath id="cb"><circle cx="661.75" cy="460.3" r="135.3"/></clipPath>
</defs>
<g clip-path="url(#ct)">
<rect x="520" y="60" width="280" height="250" fill="#fbd6a4"/>
<rect x="520" y="104.3" width="280" height="30" fill="#dca16c"/>
<path d="M530.0,110.6 C532.0,110.5 537.9,110.6 541.8,110.2 C545.7,109.8 549.2,108.8 553.1,108.2 C557.0,107.6 561.1,106.9 565.1,106.7 C569.0,106.5 572.5,107.2 576.6,107.3 C580.7,107.3 585.7,107.0 589.6,107.2 C593.5,107.4 596.2,107.8 600.1,108.4 C604.0,109.0 609.4,110.2 613.2,110.7 C616.9,111.3 618.5,111.7 622.4,111.7 C626.2,111.7 631.9,111.4 636.2,110.9 C640.5,110.5 644.7,109.4 648.3,109.0 C651.8,108.6 654.3,108.9 657.3,108.5 C660.4,108.2 663.4,107.4 666.6,107.1 C669.9,106.7 673.3,106.3 676.8,106.3 C680.4,106.3 684.1,106.8 688.2,107.1 C692.3,107.5 697.1,108.0 701.4,108.4 C705.6,108.9 709.5,109.4 713.6,109.8 C717.7,110.2 722.1,110.4 725.9,110.8 C729.7,111.1 732.2,111.8 736.3,111.8 C740.3,111.7 745.8,111.2 750.3,110.6 C754.7,110.0 759.0,108.9 762.8,108.4 C766.6,107.8 769.7,107.4 772.9,107.3 C776.2,107.1 778.9,107.4 782.3,107.5 C785.7,107.6 791.5,107.7 793.3,107.7" fill="none" stroke="#c78857" stroke-width="1.1"/>
<path d="M530.0,117.6 C532.2,117.2 539.4,115.4 543.2,115.1 C547.1,114.7 549.7,115.7 553.3,115.7 C556.9,115.6 560.9,115.4 564.6,114.9 C568.4,114.5 571.8,113.1 575.6,113.0 C579.5,112.8 584.0,113.9 587.8,114.0 C591.5,114.0 594.6,113.0 598.1,113.2 C601.6,113.4 604.9,114.9 608.8,115.2 C612.7,115.5 617.7,114.8 621.6,114.9 C625.4,115.0 628.5,115.3 631.8,115.7 C635.1,116.2 637.9,117.2 641.1,117.5 C644.3,117.8 647.5,117.6 651.0,117.5 C654.5,117.4 658.2,117.2 662.2,117.0 C666.2,116.8 670.7,116.7 674.9,116.4 C679.0,116.2 683.2,115.8 687.1,115.5 C691.0,115.3 694.6,114.8 698.2,114.8 C701.8,114.7 704.7,115.4 708.6,115.2 C712.5,114.9 717.2,113.7 721.6,113.4 C726.0,113.0 730.9,112.9 735.0,113.1 C739.1,113.2 742.1,114.3 746.0,114.4 C749.8,114.6 753.8,113.8 758.2,114.0 C762.5,114.1 768.1,114.8 772.1,115.3 C776.2,115.8 778.9,116.8 782.4,117.0 C785.9,117.3 791.3,116.9 793.1,116.9" fill="none" stroke="#c78857" stroke-width="1.1"/>
<path d="M530.0,122.3 C532.0,122.2 537.9,121.8 541.9,121.5 C545.9,121.2 550.0,120.7 553.9,120.6 C557.8,120.5 561.4,121.0 565.2,120.9 C569.0,120.8 572.5,120.3 576.6,120.1 C580.7,120.0 586.1,119.7 589.9,120.0 C593.8,120.4 595.9,121.6 599.7,122.0 C603.5,122.3 609.0,121.9 612.8,122.2 C616.6,122.4 618.8,123.5 622.7,123.8 C626.7,124.0 631.9,123.4 636.4,123.5 C641.0,123.6 645.9,124.5 650.2,124.4 C654.5,124.3 658.6,123.3 662.2,122.8 C665.8,122.3 667.8,121.8 671.7,121.4 C675.6,121.0 681.2,120.7 685.5,120.4 C689.9,120.2 693.8,119.8 698.1,119.7 C702.3,119.7 707.3,120.2 711.2,120.2 C715.1,120.3 717.8,119.9 721.7,120.0 C725.5,120.1 730.5,120.4 734.3,120.9 C738.1,121.3 740.5,122.1 744.4,122.6 C748.3,123.1 753.7,123.4 757.7,123.7 C761.6,124.1 764.7,124.7 768.1,124.6 C771.5,124.5 774.7,123.4 778.1,123.1 C781.5,122.9 786.7,123.3 788.4,123.3" fill="none" stroke="#c78857" stroke-width="1.1"/>
<path d="M530.0,128.9 C531.8,128.9 537.4,129.1 540.8,128.9 C544.3,128.7 546.6,127.8 550.5,127.5 C554.4,127.2 559.7,127.4 564.0,127.1 C568.2,126.8 572.2,126.2 576.2,125.9 C580.3,125.5 584.6,125.2 588.2,125.1 C591.7,125.1 593.6,125.1 597.3,125.6 C601.1,126.1 606.3,127.7 610.9,128.2 C615.5,128.6 620.4,128.2 624.7,128.4 C629.0,128.6 632.7,129.4 636.9,129.5 C641.0,129.5 645.1,129.0 649.5,128.6 C654.0,128.1 659.2,127.1 663.5,126.7 C667.8,126.4 671.1,126.7 675.3,126.6 C679.5,126.4 684.4,125.9 688.8,125.9 C693.1,125.9 696.9,126.2 701.3,126.4 C705.6,126.5 710.5,126.5 714.9,126.9 C719.2,127.4 723.0,128.8 727.3,129.2 C731.6,129.6 736.3,129.2 740.6,129.3 C745.0,129.4 749.5,130.0 753.6,129.9 C757.7,129.7 761.7,128.9 765.5,128.5 C769.3,128.1 772.5,127.8 776.4,127.2 C780.2,126.7 786.4,125.6 788.4,125.3" fill="none" stroke="#c78857" stroke-width="1.1"/>
<path d="M520,132 C560,129 600,134 650,132 C700,130 750,134 800,131 L800,139 L520,139 Z" fill="#c98b5d"/>
<rect x="520" y="138.5" width="280" height="170" fill="#fbc87e"/>
<path d="M569.3,138.5 L515.0,138.5 L515.0,147.0 L551.6,165.3 L569.3,158.4 L569.3,138.5Z" fill="none" stroke="#f4a746" stroke-width="1.7" stroke-linejoin="round"/>
<path d="M597.7,159.5 L599.6,138.5 L569.3,138.5 L569.3,158.4 L578.9,165.7 L597.7,159.5Z" fill="none" stroke="#f4a746" stroke-width="1.7" stroke-linejoin="round"/>
<path d="M597.7,159.5 L610.0,169.1 L628.1,160.5 L629.0,138.5 L599.6,138.5 L597.7,159.5Z" fill="none" stroke="#f4a746" stroke-width="1.7" stroke-linejoin="round"/>
<path d="M662.0,157.9 L659.0,138.5 L629.0,138.5 L628.1,160.5 L644.2,172.7 L652.4,171.1 L662.0,157.9Z" fill="none" stroke="#f4a746" stroke-width="1.7" stroke-linejoin="round"/>
<path d="M662.0,157.9 L682.9,162.1 L696.3,147.8 L696.3,138.5 L659.0,138.5 L662.0,157.9Z" fill="none" stroke="#f4a746" stroke-width="1.7" stroke-linejoin="round"/>
<path d="M729.8,138.5 L696.3,138.5 L696.3,147.8 L713.2,163.6 L729.0,156.1 L729.8,138.5Z" fill="none" stroke="#f4a746" stroke-width="1.7" stroke-linejoin="round"/>
<path d="M756.0,157.8 L756.0,138.5 L729.8,138.5 L729.0,156.1 L741.7,165.3 L756.0,157.8Z" fill="none" stroke="#f4a746" stroke-width="1.7" stroke-linejoin="round"/>
<path d="M800.0,150.3 L800.0,138.5 L756.0,138.5 L756.0,157.8 L774.8,167.6 L800.0,150.3Z" fill="none" stroke="#f4a746" stroke-width="1.7" stroke-linejoin="round"/>
<path d="M515.0,147.0 L515.0,205.6 L552.7,187.3 L551.6,165.3 L515.0,147.0Z" fill="none" stroke="#f4a746" stroke-width="1.7" stroke-linejoin="round"/>
<path d="M578.9,183.4 L578.9,165.7 L569.3,158.4 L551.6,165.3 L552.7,187.3 L563.4,191.6 L578.9,183.4Z" fill="none" stroke="#f4a746" stroke-width="1.7" stroke-linejoin="round"/>
<path d="M608.9,183.0 L610.0,169.1 L597.7,159.5 L578.9,165.7 L578.9,183.4 L591.6,192.1 L608.9,183.0Z" fill="none" stroke="#f4a746" stroke-width="1.7" stroke-linejoin="round"/>
<path d="M628.1,160.5 L610.0,169.1 L608.9,183.0 L620.8,193.5 L635.6,190.8 L644.2,172.7 L628.1,160.5Z" fill="none" stroke="#f4a746" stroke-width="1.7" stroke-linejoin="round"/>
<path d="M662.0,157.9 L652.4,171.1 L671.0,192.3 L687.2,179.0 L682.9,162.1 L662.0,157.9Z" fill="none" stroke="#f4a746" stroke-width="1.7" stroke-linejoin="round"/>
<path d="M713.2,163.6 L696.3,147.8 L682.9,162.1 L687.2,179.0 L700.1,182.5 L711.0,176.0 L713.2,163.6Z" fill="none" stroke="#f4a746" stroke-width="1.7" stroke-linejoin="round"/>
<path d="M741.0,181.5 L741.7,165.3 L729.0,156.1 L713.2,163.6 L711.0,176.0 L728.9,188.4 L741.0,181.5Z" fill="none" stroke="#f4a746" stroke-width="1.7" stroke-linejoin="round"/>
<path d="M756.8,190.2 L771.8,182.7 L774.8,167.6 L756.0,157.8 L741.7,165.3 L741.0,181.5 L756.8,190.2Z" fill="none" stroke="#f4a746" stroke-width="1.7" stroke-linejoin="round"/>
<path d="M566.2,209.6 L563.4,191.6 L552.7,187.3 L515.0,205.6 L515.0,247.4 L566.2,209.6Z" fill="none" stroke="#f4a746" stroke-width="1.7" stroke-linejoin="round"/>
<path d="M591.6,192.1 L578.9,183.4 L563.4,191.6 L566.2,209.6 L580.0,214.7 L591.6,208.3 L591.6,192.1Z" fill="none" stroke="#f4a746" stroke-width="1.7" stroke-linejoin="round"/>
<path d="M607.8,218.0 L615.1,214.8 L620.8,193.5 L608.9,183.0 L591.6,192.1 L591.6,208.3 L607.8,218.0Z" fill="none" stroke="#f4a746" stroke-width="1.7" stroke-linejoin="round"/>
<path d="M648.8,209.5 L635.6,190.8 L620.8,193.5 L615.1,214.8 L632.3,221.8 L648.4,211.7 L648.8,209.5Z" fill="none" stroke="#f4a746" stroke-width="1.7" stroke-linejoin="round"/>
<path d="M644.2,172.7 L635.6,190.8 L648.8,209.5 L670.8,194.9 L671.0,192.3 L652.4,171.1 L644.2,172.7Z" fill="none" stroke="#f4a746" stroke-width="1.7" stroke-linejoin="round"/>
<path d="M687.2,179.0 L671.0,192.3 L670.8,194.9 L685.0,212.0 L702.3,201.2 L700.1,182.5 L687.2,179.0Z" fill="none" stroke="#f4a746" stroke-width="1.7" stroke-linejoin="round"/>
<path d="M711.0,176.0 L700.1,182.5 L702.3,201.2 L720.8,209.4 L725.0,206.3 L728.9,188.4 L711.0,176.0Z" fill="none" stroke="#f4a746" stroke-width="1.7" stroke-linejoin="round"/>
<path d="M725.0,206.3 L754.7,215.1 L756.8,190.2 L741.0,181.5 L728.9,188.4 L725.0,206.3Z" fill="none" stroke="#f4a746" stroke-width="1.7" stroke-linejoin="round"/>
<path d="M771.8,182.7 L756.8,190.2 L754.7,215.1 L784.6,265.0 L800.0,265.0 L800.0,209.5 L771.8,182.7Z" fill="none" stroke="#f4a746" stroke-width="1.7" stroke-linejoin="round"/>
<path d="M607.8,218.0 L591.6,208.3 L580.0,214.7 L577.4,265.0 L597.5,265.0 L607.8,218.0Z" fill="none" stroke="#f4a746" stroke-width="1.7" stroke-linejoin="round"/>
<path d="M683.4,257.6 L685.0,212.0 L670.8,194.9 L648.8,209.5 L648.4,211.7 L683.4,257.6Z" fill="none" stroke="#f4a746" stroke-width="1.7" stroke-linejoin="round"/>
<path d="M720.8,209.4 L702.3,201.2 L685.0,212.0 L683.4,257.6 L685.4,265.0 L708.8,265.0 L720.8,209.4Z" fill="none" stroke="#f4a746" stroke-width="1.7" stroke-linejoin="round"/>
<path d="M632.3,221.8 L615.1,214.8 L607.8,218.0 L597.5,265.0 L634.5,265.0 L632.3,221.8Z" fill="none" stroke="#f4a746" stroke-width="1.7" stroke-linejoin="round"/>
<path d="M683.4,257.6 L648.4,211.7 L632.3,221.8 L634.5,265.0 L685.4,265.0 L683.4,257.6Z" fill="none" stroke="#f4a746" stroke-width="1.7" stroke-linejoin="round"/>
<path d="M580.0,214.7 L566.2,209.6 L515.0,247.4 L515.0,265.0 L577.4,265.0 L580.0,214.7Z" fill="none" stroke="#f4a746" stroke-width="1.7" stroke-linejoin="round"/>
<path d="M754.7,215.1 L725.0,206.3 L720.8,209.4 L708.8,265.0 L784.6,265.0 L754.7,215.1Z" fill="none" stroke="#f4a746" stroke-width="1.7" stroke-linejoin="round"/>
<path d="M800.0,209.5 L800.0,150.3 L774.8,167.6 L771.8,182.7 L800.0,209.5Z" fill="none" stroke="#f4a746" stroke-width="1.7" stroke-linejoin="round"/>
<circle cx="554" cy="149" r="6.3" fill="#f6a64b"/>
<circle cx="584.6" cy="149" r="6.1" fill="#f6a64b"/>
<circle cx="612.5" cy="151.6" r="5.9" fill="#f6a64b"/>
<circle cx="644.3" cy="152.9" r="5.5" fill="#f6a64b"/>
<circle cx="677.3" cy="147.8" r="6.0" fill="#f6a64b"/>
<circle cx="715.4" cy="147.8" r="5.8" fill="#f6a64b"/>
<circle cx="743.3" cy="149" r="5.6" fill="#f6a64b"/>
<circle cx="768.7" cy="149" r="6.1" fill="#f6a64b"/>
<circle cx="540" cy="177" r="5.1" fill="#f6a64b"/>
<circle cx="564.3" cy="175.7" r="6.0" fill="#f6a64b"/>
<circle cx="593.5" cy="175.7" r="5.0" fill="#f6a64b"/>
<circle cx="625.2" cy="178.2" r="5.8" fill="#f6a64b"/>
<circle cx="672.2" cy="173.2" r="5.6" fill="#f6a64b"/>
<circle cx="697.6" cy="166.8" r="5.3" fill="#f6a64b"/>
<circle cx="726.8" cy="171.9" r="5.9" fill="#f6a64b"/>
<circle cx="756" cy="173.2" r="5.6" fill="#f6a64b"/>
<circle cx="552.9" cy="203.6" r="5.8" fill="#f6a64b"/>
<circle cx="577" cy="199.8" r="6.2" fill="#f6a64b"/>
<circle cx="606.2" cy="199.8" r="5.3" fill="#f6a64b"/>
<circle cx="630.3" cy="206.2" r="5.0" fill="#f6a64b"/>
<circle cx="651.9" cy="191" r="5.4" fill="#f6a64b"/>
<circle cx="690" cy="194.8" r="5.9" fill="#f6a64b"/>
<circle cx="712.8" cy="192.2" r="5.3" fill="#f6a64b"/>
<circle cx="742" cy="198.6" r="5.2" fill="#f6a64b"/>
<circle cx="770" cy="201" r="6.2" fill="#f6a64b"/>
<circle cx="591" cy="225.2" r="5.9" fill="#f6a64b"/>
<circle cx="667.1" cy="213.8" r="5.6" fill="#f6a64b"/>
<circle cx="702.7" cy="215" r="6.2" fill="#f6a64b"/>
<circle cx="620.1" cy="231.6" r="5.4" fill="#f6a64b"/>
<circle cx="645.5" cy="230.3" r="5.9" fill="#f6a64b"/>
<circle cx="568" cy="224" r="5.3" fill="#f6a64b"/>
<circle cx="735" cy="222" r="5.6" fill="#f6a64b"/>
<circle cx="790" cy="180" r="6.0" fill="#f6a64b"/>
<path d="M515.0,203.0 C519.1,204.1 533.0,207.2 539.4,209.8 C545.8,212.4 548.5,216.2 553.4,218.4 C558.3,220.6 563.8,221.8 569.0,223.1 C574.2,224.4 579.5,224.9 584.7,226.3 C589.9,227.7 595.1,230.1 600.3,231.7 C605.5,233.2 610.7,234.4 615.9,235.6 C621.1,236.8 626.4,238.6 631.6,238.8 C636.8,238.9 642.1,237.5 647.2,236.4 C652.3,235.3 655.6,233.0 662.0,232.0 C668.4,231.0 678.3,231.2 685.4,230.6 C692.5,229.9 699.1,229.6 704.4,228.1 C709.7,226.6 713.5,223.5 717.1,221.7 C720.7,219.9 721.8,218.6 726.0,217.3 C730.2,216.0 736.6,214.7 742.5,214.1 C748.4,213.5 755.4,213.3 761.6,213.5 C767.9,213.7 773.6,214.6 780.0,215.0 C786.4,215.4 796.7,215.8 800.0,216.0 L800,310 L515,310 Z" fill="#d9927d"/>
<clipPath id="cbas"><path d="M515.0,203.0 C519.1,204.1 533.0,207.2 539.4,209.8 C545.8,212.4 548.5,216.2 553.4,218.4 C558.3,220.6 563.8,221.8 569.0,223.1 C574.2,224.4 579.5,224.9 584.7,226.3 C589.9,227.7 595.1,230.1 600.3,231.7 C605.5,233.2 610.7,234.4 615.9,235.6 C621.1,236.8 626.4,238.6 631.6,238.8 C636.8,238.9 642.1,237.5 647.2,236.4 C652.3,235.3 655.6,233.0 662.0,232.0 C668.4,231.0 678.3,231.2 685.4,230.6 C692.5,229.9 699.1,229.6 704.4,228.1 C709.7,226.6 713.5,223.5 717.1,221.7 C720.7,219.9 721.8,218.6 726.0,217.3 C730.2,216.0 736.6,214.7 742.5,214.1 C748.4,213.5 755.4,213.3 761.6,213.5 C767.9,213.7 773.6,214.6 780.0,215.0 C786.4,215.4 796.7,215.8 800.0,216.0 L800,310 L515,310 Z"/></clipPath>
<g clip-path="url(#cbas)">
<path d="M520.5,198.0 C520.3,198.6 519.6,200.3 519.4,201.5 C519.2,202.7 519.3,203.8 519.1,205.0 C518.9,206.2 518.5,207.3 518.1,208.5 C517.7,209.7 517.1,210.8 516.7,212.0 C516.3,213.2 516.1,214.3 515.8,215.5 C515.5,216.7 515.1,217.8 514.9,219.0 C514.7,220.2 514.4,221.3 514.4,222.5 C514.4,223.7 514.7,224.8 514.9,226.0 C515.2,227.2 515.5,228.3 515.7,229.5 C515.8,230.7 515.5,231.8 515.8,233.0 C516.2,234.2 517.3,235.3 517.7,236.5 C518.1,237.7 517.8,238.8 518.1,240.0 C518.3,241.2 518.8,242.3 519.1,243.5 C519.4,244.7 519.3,245.8 519.7,247.0 C520.1,248.2 521.1,249.3 521.4,250.5 C521.7,251.7 521.3,252.8 521.3,254.0 C521.3,255.2 521.5,256.3 521.3,257.5 C521.2,258.7 520.9,259.8 520.5,261.0 C520.1,262.2 519.3,263.3 519.0,264.5 C518.6,265.7 518.6,266.8 518.3,268.0 C518.1,269.2 517.9,270.3 517.5,271.5 C517.1,272.7 516.2,273.8 516.0,275.0 C515.8,276.2 516.4,277.3 516.2,278.5 C516.0,279.7 515.3,280.8 515.0,282.0 C514.7,283.2 514.5,284.3 514.6,285.5 C514.6,286.7 515.4,287.8 515.5,289.0 C515.7,290.2 515.0,291.3 515.3,292.5 C515.5,293.7 516.7,294.8 517.1,296.0 C517.4,297.2 517.2,298.3 517.5,299.5 C517.8,300.7 518.5,302.4 518.7,303.0" fill="none" stroke="#a66d68" stroke-width="1.7"/>
<ellipse cx="521.9" cy="210.8" rx="2.4" ry="4.2" fill="#a56b68" transform="rotate(-14 521.9 210.8)"/>
<ellipse cx="523.1" cy="239.2" rx="2.4" ry="4.2" fill="#a56b68" transform="rotate(-9 523.1 239.2)"/>
<path d="M529.4,198.0 C529.7,198.6 530.5,200.3 530.8,201.5 C531.1,202.7 531.1,203.8 531.0,205.0 C530.9,206.2 530.5,207.3 530.4,208.5 C530.2,209.7 530.1,210.8 529.9,212.0 C529.8,213.2 529.7,214.3 529.4,215.5 C529.2,216.7 528.7,217.8 528.6,219.0 C528.4,220.2 528.7,221.3 528.4,222.5 C528.1,223.7 527.3,224.8 526.8,226.0 C526.3,227.2 525.9,228.3 525.6,229.5 C525.3,230.7 525.1,231.8 525.0,233.0 C525.0,234.2 525.3,235.3 525.4,236.5 C525.6,237.7 525.7,238.8 525.7,240.0 C525.7,241.2 525.3,242.3 525.4,243.5 C525.4,244.7 525.7,245.8 525.9,247.0 C526.1,248.2 526.4,249.3 526.7,250.5 C527.0,251.7 527.5,252.8 527.8,254.0 C528.0,255.2 527.8,256.3 528.0,257.5 C528.3,258.7 529.0,259.8 529.3,261.0 C529.7,262.2 529.8,263.3 530.0,264.5 C530.2,265.7 530.5,266.8 530.5,268.0 C530.5,269.2 530.2,270.3 530.2,271.5 C530.1,272.7 530.1,273.8 530.0,275.0 C530.0,276.2 529.8,277.3 529.8,278.5 C529.8,279.7 530.1,280.8 529.9,282.0 C529.6,283.2 528.7,284.3 528.4,285.5 C528.0,286.7 528.1,287.8 527.8,289.0 C527.5,290.2 526.9,291.3 526.5,292.5 C526.2,293.7 525.8,294.8 525.5,296.0 C525.3,297.2 524.9,298.3 524.9,299.5 C524.9,300.7 525.4,302.4 525.5,303.0" fill="none" stroke="#a66d68" stroke-width="1.7"/>
<ellipse cx="532.7" cy="218.2" rx="2.4" ry="4.2" fill="#a56b68" transform="rotate(5 532.7 218.2)"/>
<ellipse cx="533.1" cy="299.4" rx="2.4" ry="4.2" fill="#a56b68" transform="rotate(-0 533.1 299.4)"/>
<path d="M534.6,198.0 C534.6,198.6 534.6,200.3 534.6,201.5 C534.6,202.7 534.4,203.8 534.6,205.0 C534.8,206.2 535.6,207.3 535.7,208.5 C535.9,209.7 535.5,210.8 535.7,212.0 C535.9,213.2 536.6,214.3 536.9,215.5 C537.2,216.7 537.5,217.8 537.7,219.0 C538.0,220.2 538.3,221.3 538.4,222.5 C538.5,223.7 538.4,224.8 538.3,226.0 C538.2,227.2 538.0,228.3 537.9,229.5 C537.8,230.7 537.7,231.8 537.6,233.0 C537.6,234.2 537.6,235.3 537.5,236.5 C537.3,237.7 536.9,238.8 536.6,240.0 C536.3,241.2 535.8,242.3 535.5,243.5 C535.1,244.7 534.7,245.8 534.5,247.0 C534.2,248.2 533.9,249.3 533.9,250.5 C534.0,251.7 534.7,252.8 534.9,254.0 C535.0,255.2 534.7,256.3 534.8,257.5 C535.0,258.7 535.7,259.8 535.8,261.0 C536.0,262.2 535.7,263.3 535.9,264.5 C536.1,265.7 536.6,266.8 537.1,268.0 C537.5,269.2 538.3,270.3 538.6,271.5 C538.9,272.7 538.9,273.8 539.0,275.0 C539.1,276.2 539.2,277.3 539.1,278.5 C539.0,279.7 538.7,280.8 538.4,282.0 C538.2,283.2 537.8,284.3 537.5,285.5 C537.3,286.7 537.1,287.8 536.8,289.0 C536.6,290.2 536.6,291.3 536.2,292.5 C535.9,293.7 535.0,294.8 534.7,296.0 C534.4,297.2 534.6,298.3 534.4,299.5 C534.3,300.7 534.0,302.4 533.9,303.0" fill="none" stroke="#a66d68" stroke-width="1.7"/>
<ellipse cx="541.3" cy="218.1" rx="2.4" ry="4.2" fill="#a56b68" transform="rotate(14 541.3 218.1)"/>
<ellipse cx="541.2" cy="236.3" rx="2.4" ry="4.2" fill="#a56b68" transform="rotate(11 541.2 236.3)"/>
<ellipse cx="540.8" cy="261.4" rx="2.4" ry="4.2" fill="#a56b68" transform="rotate(14 540.8 261.4)"/>
<ellipse cx="540.1" cy="290.2" rx="2.4" ry="4.2" fill="#a56b68" transform="rotate(-12 540.1 290.2)"/>
<path d="M548.2,198.0 C548.2,198.6 548.4,200.3 548.2,201.5 C548.0,202.7 547.4,203.8 547.0,205.0 C546.7,206.2 546.6,207.3 546.2,208.5 C545.8,209.7 545.1,210.8 544.7,212.0 C544.2,213.2 543.9,214.3 543.5,215.5 C543.2,216.7 542.9,217.8 542.7,219.0 C542.5,220.2 542.3,221.3 542.3,222.5 C542.3,223.7 542.5,224.8 542.5,226.0 C542.5,227.2 542.5,228.3 542.5,229.5 C542.5,230.7 542.2,231.8 542.5,233.0 C542.8,234.2 543.7,235.3 544.2,236.5 C544.7,237.7 545.1,238.8 545.5,240.0 C545.8,241.2 546.1,242.3 546.5,243.5 C546.9,244.7 547.4,245.8 547.6,247.0 C547.8,248.2 547.4,249.3 547.5,250.5 C547.7,251.7 548.5,252.8 548.6,254.0 C548.8,255.2 548.3,256.3 548.3,257.5 C548.4,258.7 549.1,259.8 549.0,261.0 C548.8,262.2 547.9,263.3 547.6,264.5 C547.4,265.7 547.7,266.8 547.4,268.0 C547.1,269.2 546.1,270.3 545.7,271.5 C545.4,272.7 545.5,273.8 545.1,275.0 C544.8,276.2 544.0,277.3 543.6,278.5 C543.1,279.7 542.6,280.8 542.4,282.0 C542.2,283.2 542.3,284.3 542.3,285.5 C542.2,286.7 541.9,287.8 542.0,289.0 C542.1,290.2 542.8,291.3 543.0,292.5 C543.1,293.7 542.7,294.8 542.9,296.0 C543.1,297.2 543.7,298.3 544.0,299.5 C544.4,300.7 545.0,302.4 545.2,303.0" fill="none" stroke="#a66d68" stroke-width="1.7"/>
<ellipse cx="550.3" cy="221.1" rx="2.4" ry="4.2" fill="#a56b68" transform="rotate(0 550.3 221.1)"/>
<ellipse cx="550.1" cy="269.7" rx="2.4" ry="4.2" fill="#a56b68" transform="rotate(2 550.1 269.7)"/>
<path d="M556.1,198.0 C556.2,198.6 556.6,200.3 557.0,201.5 C557.4,202.7 558.1,203.8 558.3,205.0 C558.5,206.2 558.3,207.3 558.0,208.5 C557.8,209.7 557.3,210.8 556.9,212.0 C556.5,213.2 556.4,214.3 555.9,215.5 C555.4,216.7 554.2,217.8 553.7,219.0 C553.3,220.2 553.4,221.3 553.1,222.5 C552.7,223.7 552.0,224.8 551.7,226.0 C551.4,227.2 551.2,228.3 551.1,229.5 C551.0,230.7 550.8,231.8 550.9,233.0 C550.9,234.2 551.2,235.3 551.4,236.5 C551.6,237.7 551.9,238.8 552.2,240.0 C552.5,241.2 552.8,242.3 553.3,243.5 C553.9,244.7 554.8,245.8 555.3,247.0 C555.8,248.2 555.9,249.3 556.3,250.5 C556.8,251.7 557.5,252.8 557.8,254.0 C558.1,255.2 558.3,256.3 558.3,257.5 C558.3,258.7 558.2,259.8 558.0,261.0 C557.7,262.2 557.3,263.3 556.8,264.5 C556.4,265.7 555.8,266.8 555.4,268.0 C554.9,269.2 554.5,270.3 554.1,271.5 C553.7,272.7 553.2,273.8 552.8,275.0 C552.4,276.2 552.1,277.3 551.9,278.5 C551.7,279.7 551.8,280.8 551.6,282.0 C551.4,283.2 550.5,284.3 550.5,285.5 C550.5,286.7 551.2,287.8 551.5,289.0 C551.9,290.2 552.1,291.3 552.6,292.5 C553.0,293.7 553.7,294.8 554.2,296.0 C554.8,297.2 555.4,298.3 555.9,299.5 C556.4,300.7 556.9,302.4 557.0,303.0" fill="none" stroke="#a66d68" stroke-width="1.7"/>
<ellipse cx="558.4" cy="268.1" rx="2.4" ry="4.2" fill="#a56b68" transform="rotate(13 558.4 268.1)"/>
<ellipse cx="559.6" cy="290.7" rx="2.4" ry="4.2" fill="#a56b68" transform="rotate(14 559.6 290.7)"/>
<path d="M559.6,198.0 C559.7,198.6 560.1,200.3 560.2,201.5 C560.3,202.7 560.0,203.8 560.1,205.0 C560.3,206.2 560.7,207.3 561.2,208.5 C561.6,209.7 562.5,210.8 562.8,212.0 C563.2,213.2 563.3,214.3 563.5,215.5 C563.7,216.7 563.9,217.8 564.0,219.0 C564.1,220.2 563.9,221.3 564.2,222.5 C564.4,223.7 565.3,224.8 565.5,226.0 C565.6,227.2 565.3,228.3 565.1,229.5 C564.8,230.7 564.3,231.8 564.1,233.0 C563.8,234.2 563.7,235.3 563.5,236.5 C563.3,237.7 563.2,238.8 563.0,240.0 C562.8,241.2 562.5,242.3 562.1,243.5 C561.7,244.7 561.0,245.8 560.8,247.0 C560.6,248.2 561.1,249.3 560.9,250.5 C560.8,251.7 560.0,252.8 559.8,254.0 C559.6,255.2 559.6,256.3 559.7,257.5 C559.9,258.7 560.7,259.8 560.8,261.0 C560.9,262.2 560.4,263.3 560.6,264.5 C560.8,265.7 561.8,266.8 562.1,268.0 C562.4,269.2 562.2,270.3 562.5,271.5 C562.7,272.7 563.5,273.8 563.8,275.0 C564.1,276.2 564.0,277.3 564.1,278.5 C564.3,279.7 564.5,280.8 564.7,282.0 C564.9,283.2 565.5,284.3 565.4,285.5 C565.4,286.7 564.9,287.8 564.6,289.0 C564.4,290.2 564.2,291.3 564.0,292.5 C563.8,293.7 563.7,294.8 563.4,296.0 C563.1,297.2 562.5,298.3 562.1,299.5 C561.7,300.7 561.2,302.4 561.0,303.0" fill="none" stroke="#a66d68" stroke-width="1.7"/>
<ellipse cx="566.3" cy="211.5" rx="2.4" ry="4.2" fill="#a56b68" transform="rotate(14 566.3 211.5)"/>
<ellipse cx="566.0" cy="277.4" rx="2.4" ry="4.2" fill="#a56b68" transform="rotate(3 566.0 277.4)"/>
<path d="M568.2,198.0 C568.4,198.6 568.7,200.3 569.1,201.5 C569.5,202.7 570.3,203.8 570.6,205.0 C571.0,206.2 570.9,207.3 571.1,208.5 C571.4,209.7 571.6,210.8 572.0,212.0 C572.4,213.2 573.3,214.3 573.7,215.5 C574.0,216.7 574.2,217.8 574.2,219.0 C574.2,220.2 574.1,221.3 573.9,222.5 C573.6,223.7 573.1,224.8 572.8,226.0 C572.5,227.2 572.4,228.3 572.1,229.5 C571.8,230.7 571.5,231.8 571.2,233.0 C570.9,234.2 570.6,235.3 570.2,236.5 C569.8,237.7 569.1,238.8 568.8,240.0 C568.6,241.2 568.9,242.3 568.8,243.5 C568.8,244.7 568.6,245.8 568.7,247.0 C568.7,248.2 568.9,249.3 569.0,250.5 C569.2,251.7 569.6,252.8 569.7,254.0 C569.8,255.2 569.4,256.3 569.7,257.5 C570.0,258.7 571.2,259.8 571.6,261.0 C571.9,262.2 571.7,263.3 572.1,264.5 C572.5,265.7 573.5,266.8 573.9,268.0 C574.2,269.2 574.1,270.3 574.1,271.5 C574.2,272.7 574.3,273.8 574.1,275.0 C573.9,276.2 573.3,277.3 572.9,278.5 C572.5,279.7 572.0,280.8 571.8,282.0 C571.6,283.2 571.8,284.3 571.6,285.5 C571.3,286.7 570.5,287.8 570.2,289.0 C569.8,290.2 569.5,291.3 569.2,292.5 C568.9,293.7 568.5,294.8 568.4,296.0 C568.3,297.2 568.6,298.3 568.6,299.5 C568.6,300.7 568.4,302.4 568.4,303.0" fill="none" stroke="#a66d68" stroke-width="1.7"/>
<ellipse cx="575.2" cy="209.6" rx="2.4" ry="4.2" fill="#a56b68" transform="rotate(4 575.2 209.6)"/>
<ellipse cx="574.7" cy="238.3" rx="2.4" ry="4.2" fill="#a56b68" transform="rotate(0 574.7 238.3)"/>
<ellipse cx="575.1" cy="264.4" rx="2.4" ry="4.2" fill="#a56b68" transform="rotate(-13 575.1 264.4)"/>
<ellipse cx="575.9" cy="282.8" rx="2.4" ry="4.2" fill="#a56b68" transform="rotate(5 575.9 282.8)"/>
<path d="M581.9,198.0 C581.7,198.6 581.5,200.3 581.2,201.5 C580.8,202.7 580.4,203.8 579.9,205.0 C579.5,206.2 578.6,207.3 578.3,208.5 C578.1,209.7 578.5,210.8 578.2,212.0 C578.0,213.2 577.1,214.3 576.7,215.5 C576.4,216.7 576.1,217.8 576.1,219.0 C576.0,220.2 576.2,221.3 576.4,222.5 C576.5,223.7 576.7,224.8 576.9,226.0 C577.1,227.2 577.5,228.3 577.7,229.5 C577.9,230.7 577.7,231.8 578.1,233.0 C578.4,234.2 579.4,235.3 579.8,236.5 C580.2,237.7 580.3,238.8 580.5,240.0 C580.7,241.2 580.7,242.3 581.0,243.5 C581.3,244.7 582.1,245.8 582.4,247.0 C582.6,248.2 582.5,249.3 582.5,250.5 C582.5,251.7 582.6,252.8 582.4,254.0 C582.2,255.2 581.9,256.3 581.6,257.5 C581.2,258.7 580.4,259.8 580.1,261.0 C579.8,262.2 580.0,263.3 579.8,264.5 C579.6,265.7 579.2,266.8 578.9,268.0 C578.5,269.2 577.8,270.3 577.5,271.5 C577.3,272.7 577.4,273.8 577.3,275.0 C577.2,276.2 577.2,277.3 577.1,278.5 C577.0,279.7 576.4,280.8 576.5,282.0 C576.6,283.2 577.3,284.3 577.6,285.5 C578.0,286.7 578.2,287.8 578.4,289.0 C578.7,290.2 579.1,291.3 579.3,292.5 C579.4,293.7 579.1,294.8 579.4,296.0 C579.6,297.2 580.4,298.3 580.8,299.5 C581.2,300.7 581.6,302.4 581.8,303.0" fill="none" stroke="#a66d68" stroke-width="1.7"/>
<ellipse cx="584.7" cy="241.1" rx="2.4" ry="4.2" fill="#a56b68" transform="rotate(1 584.7 241.1)"/>
<ellipse cx="584.8" cy="269.7" rx="2.4" ry="4.2" fill="#a56b68" transform="rotate(2 584.8 269.7)"/>
<path d="M585.7,198.0 C585.8,198.6 586.3,200.3 586.4,201.5 C586.6,202.7 586.5,203.8 586.6,205.0 C586.8,206.2 587.0,207.3 587.3,208.5 C587.6,209.7 587.9,210.8 588.2,212.0 C588.6,213.2 589.3,214.3 589.7,215.5 C590.1,216.7 590.5,217.8 590.6,219.0 C590.7,220.2 590.2,221.3 590.3,222.5 C590.3,223.7 591.0,224.8 590.9,226.0 C590.9,227.2 590.2,228.3 589.9,229.5 C589.5,230.7 589.1,231.8 588.9,233.0 C588.7,234.2 589.1,235.3 588.9,236.5 C588.6,237.7 587.7,238.8 587.3,240.0 C587.0,241.2 587.1,242.3 586.9,243.5 C586.6,244.7 586.1,245.8 585.8,247.0 C585.5,248.2 585.2,249.3 585.2,250.5 C585.1,251.7 585.3,252.8 585.6,254.0 C585.8,255.2 586.1,256.3 586.4,257.5 C586.7,258.7 587.2,259.8 587.6,261.0 C588.0,262.2 588.4,263.3 588.8,264.5 C589.2,265.7 589.5,266.8 589.8,268.0 C590.1,269.2 590.4,270.3 590.5,271.5 C590.6,272.7 590.4,273.8 590.5,275.0 C590.5,276.2 590.8,277.3 590.7,278.5 C590.7,279.7 590.4,280.8 590.3,282.0 C590.1,283.2 590.0,284.3 589.7,285.5 C589.3,286.7 588.7,287.8 588.4,289.0 C588.1,290.2 588.0,291.3 587.7,292.5 C587.4,293.7 587.0,294.8 586.6,296.0 C586.2,297.2 585.5,298.3 585.4,299.5 C585.3,300.7 585.9,302.4 586.0,303.0" fill="none" stroke="#a66d68" stroke-width="1.7"/>
<ellipse cx="592.5" cy="271.7" rx="2.4" ry="4.2" fill="#a56b68" transform="rotate(-15 592.5 271.7)"/>
<ellipse cx="592.9" cy="297.7" rx="2.4" ry="4.2" fill="#a56b68" transform="rotate(15 592.9 297.7)"/>
<path d="M597.6,198.0 C597.8,198.6 598.5,200.3 599.0,201.5 C599.4,202.7 600.0,203.8 600.2,205.0 C600.3,206.2 600.1,207.3 600.0,208.5 C600.0,209.7 599.9,210.8 599.8,212.0 C599.6,213.2 599.3,214.3 599.1,215.5 C598.9,216.7 598.8,217.8 598.5,219.0 C598.2,220.2 597.7,221.3 597.3,222.5 C596.9,223.7 596.5,224.8 596.2,226.0 C595.9,227.2 595.7,228.3 595.4,229.5 C595.0,230.7 594.7,231.8 594.4,233.0 C594.1,234.2 593.7,235.3 593.5,236.5 C593.3,237.7 593.2,238.8 593.3,240.0 C593.5,241.2 594.1,242.3 594.4,243.5 C594.7,244.7 594.8,245.8 595.2,247.0 C595.5,248.2 596.1,249.3 596.4,250.5 C596.6,251.7 596.3,252.8 596.7,254.0 C597.1,255.2 598.1,256.3 598.6,257.5 C599.1,258.7 599.5,259.8 599.6,261.0 C599.7,262.2 599.2,263.3 599.3,264.5 C599.3,265.7 599.7,266.8 599.8,268.0 C599.9,269.2 600.1,270.3 600.0,271.5 C599.8,272.7 599.0,273.8 598.8,275.0 C598.6,276.2 599.0,277.3 598.7,278.5 C598.3,279.7 597.3,280.8 596.8,282.0 C596.4,283.2 596.5,284.3 596.2,285.5 C595.8,286.7 595.0,287.8 594.6,289.0 C594.2,290.2 594.0,291.3 593.7,292.5 C593.5,293.7 593.3,294.8 593.3,296.0 C593.3,297.2 593.5,298.3 593.6,299.5 C593.8,300.7 594.2,302.4 594.3,303.0" fill="none" stroke="#a66d68" stroke-width="1.7"/>
<ellipse cx="601.0" cy="208.7" rx="2.4" ry="4.2" fill="#a56b68" transform="rotate(4 601.0 208.7)"/>
<ellipse cx="600.6" cy="231.1" rx="2.4" ry="4.2" fill="#a56b68" transform="rotate(-13 600.6 231.1)"/>
<ellipse cx="600.5" cy="257.5" rx="2.4" ry="4.2" fill="#a56b68" transform="rotate(11 600.5 257.5)"/>
<ellipse cx="601.7" cy="283.3" rx="2.4" ry="4.2" fill="#a56b68" transform="rotate(3 601.7 283.3)"/>
<path d="M608.2,198.0 C608.2,198.6 608.3,200.3 608.3,201.5 C608.4,202.7 608.4,203.8 608.4,205.0 C608.5,206.2 608.8,207.3 608.7,208.5 C608.7,209.7 608.4,210.8 608.1,212.0 C607.9,213.2 607.5,214.3 607.2,215.5 C606.9,216.7 606.7,217.8 606.4,219.0 C606.1,220.2 605.4,221.3 605.2,222.5 C604.9,223.7 605.3,224.8 605.0,226.0 C604.7,227.2 603.6,228.3 603.4,229.5 C603.2,230.7 603.8,231.8 603.8,233.0 C603.8,234.2 603.5,235.3 603.4,236.5 C603.4,237.7 603.2,238.8 603.4,240.0 C603.5,241.2 604.0,242.3 604.3,243.5 C604.6,244.7 604.9,245.8 605.0,247.0 C605.2,248.2 605.0,249.3 605.3,250.5 C605.6,251.7 606.4,252.8 606.7,254.0 C607.0,255.2 606.8,256.3 607.1,257.5 C607.4,258.7 608.3,259.8 608.5,261.0 C608.7,262.2 608.3,263.3 608.3,264.5 C608.3,265.7 608.4,266.8 608.4,268.0 C608.3,269.2 608.2,270.3 608.0,271.5 C607.8,272.7 607.5,273.8 607.3,275.0 C607.1,276.2 606.9,277.3 606.7,278.5 C606.4,279.7 606.0,280.8 605.8,282.0 C605.6,283.2 605.6,284.3 605.4,285.5 C605.3,286.7 605.2,287.8 604.9,289.0 C604.6,290.2 603.9,291.3 603.6,292.5 C603.2,293.7 603.1,294.8 603.1,296.0 C603.1,297.2 603.5,298.3 603.6,299.5 C603.6,300.7 603.4,302.4 603.3,303.0" fill="none" stroke="#a66d68" stroke-width="1.7"/>
<ellipse cx="610.6" cy="232.3" rx="2.4" ry="4.2" fill="#a56b68" transform="rotate(-12 610.6 232.3)"/>
<ellipse cx="609.7" cy="253.2" rx="2.4" ry="4.2" fill="#a56b68" transform="rotate(-9 609.7 253.2)"/>
<path d="M615.8,198.0 C615.5,198.6 614.5,200.3 614.2,201.5 C613.9,202.7 614.3,203.8 614.0,205.0 C613.8,206.2 612.9,207.3 612.8,208.5 C612.6,209.7 613.1,210.8 613.3,212.0 C613.5,213.2 613.9,214.3 614.1,215.5 C614.3,216.7 614.4,217.8 614.6,219.0 C614.8,220.2 615.1,221.3 615.3,222.5 C615.4,223.7 615.3,224.8 615.7,226.0 C616.1,227.2 617.3,228.3 617.5,229.5 C617.8,230.7 617.0,231.8 617.2,233.0 C617.4,234.2 618.4,235.3 618.7,236.5 C618.9,237.7 618.6,238.8 618.5,240.0 C618.4,241.2 618.3,242.3 618.1,243.5 C617.9,244.7 617.6,245.8 617.2,247.0 C616.8,248.2 616.2,249.3 615.9,250.5 C615.6,251.7 615.4,252.8 615.2,254.0 C614.9,255.2 614.8,256.3 614.6,257.5 C614.4,258.7 614.2,259.8 613.9,261.0 C613.7,262.2 613.2,263.3 613.2,264.5 C613.2,265.7 613.7,266.8 613.6,268.0 C613.6,269.2 613.0,270.3 613.1,271.5 C613.1,272.7 613.7,273.8 614.0,275.0 C614.2,276.2 614.3,277.3 614.6,278.5 C614.9,279.7 615.4,280.8 615.8,282.0 C616.3,283.2 616.9,284.3 617.3,285.5 C617.6,286.7 617.9,287.8 618.0,289.0 C618.0,290.2 617.7,291.3 617.7,292.5 C617.6,293.7 618.0,294.8 617.9,296.0 C617.9,297.2 617.5,298.3 617.4,299.5 C617.3,300.7 617.4,302.4 617.4,303.0" fill="none" stroke="#a66d68" stroke-width="1.7"/>
<ellipse cx="620.0" cy="212.5" rx="2.4" ry="4.2" fill="#a56b68" transform="rotate(11 620.0 212.5)"/>
<ellipse cx="620.5" cy="235.6" rx="2.4" ry="4.2" fill="#a56b68" transform="rotate(-1 620.5 235.6)"/>
<ellipse cx="619.6" cy="260.3" rx="2.4" ry="4.2" fill="#a56b68" transform="rotate(-0 619.6 260.3)"/>
<ellipse cx="619.6" cy="282.0" rx="2.4" ry="4.2" fill="#a56b68" transform="rotate(12 619.6 282.0)"/>
<path d="M624.1,198.0 C624.2,198.6 625.0,200.3 625.2,201.5 C625.4,202.7 625.2,203.8 625.3,205.0 C625.5,206.2 626.2,207.3 626.4,208.5 C626.5,209.7 626.3,210.8 626.4,212.0 C626.5,213.2 626.8,214.3 626.8,215.5 C626.8,216.7 626.5,217.8 626.4,219.0 C626.2,220.2 626.0,221.3 625.7,222.5 C625.5,223.7 625.2,224.8 625.0,226.0 C624.8,227.2 624.8,228.3 624.7,229.5 C624.5,230.7 624.4,231.8 624.2,233.0 C624.0,234.2 623.6,235.3 623.3,236.5 C623.0,237.7 622.7,238.8 622.5,240.0 C622.2,241.2 621.9,242.3 621.9,243.5 C621.9,244.7 622.3,245.8 622.4,247.0 C622.4,248.2 622.5,249.3 622.4,250.5 C622.3,251.7 621.7,252.8 621.9,254.0 C622.0,255.2 622.7,256.3 623.0,257.5 C623.3,258.7 623.6,259.8 623.8,261.0 C624.0,262.2 624.1,263.3 624.4,264.5 C624.7,265.7 625.3,266.8 625.5,268.0 C625.8,269.2 626.0,270.3 626.1,271.5 C626.2,272.7 625.7,273.8 625.9,275.0 C626.0,276.2 627.0,277.3 627.1,278.5 C627.1,279.7 626.5,280.8 626.3,282.0 C626.2,283.2 626.2,284.3 626.2,285.5 C626.2,286.7 626.7,287.8 626.5,289.0 C626.3,290.2 625.2,291.3 624.9,292.5 C624.6,293.7 624.6,294.8 624.5,296.0 C624.3,297.2 624.3,298.3 624.0,299.5 C623.7,300.7 623.0,302.4 622.8,303.0" fill="none" stroke="#a66d68" stroke-width="1.7"/>
<path d="M632.2,198.0 C632.0,198.6 631.4,200.3 631.2,201.5 C631.0,202.7 631.2,203.8 631.1,205.0 C630.9,206.2 630.6,207.3 630.4,208.5 C630.3,209.7 630.3,210.8 630.3,212.0 C630.4,213.2 630.9,214.3 631.0,215.5 C631.2,216.7 631.2,217.8 631.3,219.0 C631.5,220.2 631.7,221.3 632.0,222.5 C632.2,223.7 632.6,224.8 632.9,226.0 C633.3,227.2 633.8,228.3 634.3,229.5 C634.7,230.7 635.3,231.8 635.4,233.0 C635.6,234.2 635.0,235.3 635.2,236.5 C635.3,237.7 636.2,238.8 636.3,240.0 C636.4,241.2 635.8,242.3 635.8,243.5 C635.7,244.7 636.1,245.8 636.1,247.0 C636.0,248.2 635.6,249.3 635.4,250.5 C635.2,251.7 635.1,252.8 634.9,254.0 C634.8,255.2 634.7,256.3 634.4,257.5 C634.1,258.7 633.5,259.8 633.2,261.0 C632.8,262.2 632.5,263.3 632.3,264.5 C632.1,265.7 632.2,266.8 631.9,268.0 C631.7,269.2 630.9,270.3 630.6,271.5 C630.4,272.7 630.5,273.8 630.6,275.0 C630.6,276.2 630.8,277.3 630.9,278.5 C631.1,279.7 631.1,280.8 631.3,282.0 C631.5,283.2 631.9,284.3 632.0,285.5 C632.1,286.7 631.6,287.8 631.8,289.0 C632.0,290.2 632.8,291.3 633.1,292.5 C633.4,293.7 633.3,294.8 633.6,296.0 C633.9,297.2 634.5,298.3 634.9,299.5 C635.3,300.7 635.6,302.4 635.8,303.0" fill="none" stroke="#a66d68" stroke-width="1.7"/>
<ellipse cx="638.8" cy="207.3" rx="2.4" ry="4.2" fill="#a56b68" transform="rotate(-4 638.8 207.3)"/>
<ellipse cx="637.3" cy="272.3" rx="2.4" ry="4.2" fill="#a56b68" transform="rotate(-5 637.3 272.3)"/>
<ellipse cx="638.6" cy="292.8" rx="2.4" ry="4.2" fill="#a56b68" transform="rotate(-10 638.6 292.8)"/>
<path d="M643.3,198.0 C643.6,198.6 644.8,200.3 645.1,201.5 C645.4,202.7 644.8,203.8 645.1,205.0 C645.3,206.2 646.4,207.3 646.5,208.5 C646.7,209.7 646.0,210.8 645.9,212.0 C645.7,213.2 645.6,214.3 645.5,215.5 C645.3,216.7 645.0,217.8 644.7,219.0 C644.5,220.2 644.2,221.3 643.9,222.5 C643.7,223.7 643.6,224.8 643.3,226.0 C643.0,227.2 642.6,228.3 642.2,229.5 C641.9,230.7 641.4,231.8 641.1,233.0 C640.8,234.2 640.6,235.3 640.3,236.5 C640.0,237.7 639.5,238.8 639.3,240.0 C639.2,241.2 639.3,242.3 639.4,243.5 C639.5,244.7 639.6,245.8 639.8,247.0 C640.0,248.2 640.3,249.3 640.7,250.5 C641.1,251.7 641.8,252.8 642.2,254.0 C642.7,255.2 643.3,256.3 643.5,257.5 C643.7,258.7 643.2,259.8 643.5,261.0 C643.9,262.2 645.1,263.3 645.6,264.5 C646.0,265.7 646.2,266.8 646.2,268.0 C646.3,269.2 646.0,270.3 646.0,271.5 C646.0,272.7 646.3,273.8 646.3,275.0 C646.2,276.2 646.2,277.3 645.9,278.5 C645.6,279.7 644.7,280.8 644.4,282.0 C644.1,283.2 644.1,284.3 643.9,285.5 C643.7,286.7 643.5,287.8 643.2,289.0 C642.9,290.2 642.3,291.3 641.9,292.5 C641.6,293.7 641.5,294.8 641.0,296.0 C640.6,297.2 639.6,298.3 639.4,299.5 C639.2,300.7 639.8,302.4 639.8,303.0" fill="none" stroke="#a66d68" stroke-width="1.7"/>
<ellipse cx="646.6" cy="233.3" rx="2.4" ry="4.2" fill="#a56b68" transform="rotate(9 646.6 233.3)"/>
<ellipse cx="647.0" cy="259.9" rx="2.4" ry="4.2" fill="#a56b68" transform="rotate(-11 647.0 259.9)"/>
<ellipse cx="646.5" cy="285.6" rx="2.4" ry="4.2" fill="#a56b68" transform="rotate(14 646.5 285.6)"/>
<path d="M649.3,198.0 C649.4,198.6 649.5,200.3 649.7,201.5 C650.0,202.7 650.5,203.8 650.7,205.0 C650.9,206.2 650.6,207.3 650.8,208.5 C651.0,209.7 651.5,210.8 651.9,212.0 C652.3,213.2 653.0,214.3 653.3,215.5 C653.6,216.7 653.3,217.8 653.4,219.0 C653.5,220.2 653.5,221.3 653.7,222.5 C654.0,223.7 654.9,224.8 655.0,226.0 C655.0,227.2 654.2,228.3 654.0,229.5 C653.8,230.7 654.0,231.8 653.9,233.0 C653.7,234.2 653.4,235.3 653.1,236.5 C652.8,237.7 652.5,238.8 652.2,240.0 C651.9,241.2 651.7,242.3 651.4,243.5 C651.2,244.7 651.1,245.8 650.8,247.0 C650.5,248.2 649.8,249.3 649.6,250.5 C649.4,251.7 649.7,252.8 649.6,254.0 C649.5,255.2 649.0,256.3 648.9,257.5 C648.8,258.7 648.9,259.8 649.0,261.0 C649.2,262.2 649.4,263.3 649.6,264.5 C649.9,265.7 650.1,266.8 650.4,268.0 C650.7,269.2 651.1,270.3 651.4,271.5 C651.7,272.7 651.8,273.8 652.2,275.0 C652.6,276.2 653.4,277.3 653.7,278.5 C654.0,279.7 654.0,280.8 654.1,282.0 C654.3,283.2 654.2,284.3 654.3,285.5 C654.5,286.7 654.8,287.8 654.8,289.0 C654.8,290.2 654.7,291.3 654.5,292.5 C654.3,293.7 653.8,294.8 653.6,296.0 C653.3,297.2 653.4,298.3 653.2,299.5 C653.0,300.7 652.6,302.4 652.5,303.0" fill="none" stroke="#a66d68" stroke-width="1.7"/>
<ellipse cx="657.4" cy="260.8" rx="2.4" ry="4.2" fill="#a56b68" transform="rotate(1 657.4 260.8)"/>
<ellipse cx="656.9" cy="289.7" rx="2.4" ry="4.2" fill="#a56b68" transform="rotate(-7 656.9 289.7)"/>
<path d="M663.1,198.0 C663.2,198.6 663.3,200.3 663.4,201.5 C663.5,202.7 663.6,203.8 663.5,205.0 C663.4,206.2 662.9,207.3 662.7,208.5 C662.5,209.7 662.4,210.8 662.4,212.0 C662.3,213.2 662.7,214.3 662.4,215.5 C662.1,216.7 660.9,217.8 660.5,219.0 C660.1,220.2 660.2,221.3 660.0,222.5 C659.8,223.7 659.7,224.8 659.5,226.0 C659.2,227.2 658.9,228.3 658.8,229.5 C658.6,230.7 658.6,231.8 658.7,233.0 C658.8,234.2 659.3,235.3 659.5,236.5 C659.6,237.7 659.7,238.8 659.8,240.0 C659.9,241.2 659.8,242.3 660.0,243.5 C660.2,244.7 660.8,245.8 661.2,247.0 C661.5,248.2 661.7,249.3 662.1,250.5 C662.4,251.7 662.8,252.8 663.1,254.0 C663.3,255.2 663.5,256.3 663.5,257.5 C663.5,258.7 663.1,259.8 663.1,261.0 C663.0,262.2 663.4,263.3 663.3,264.5 C663.2,265.7 662.7,266.8 662.3,268.0 C662.0,269.2 661.3,270.3 661.0,271.5 C660.7,272.7 660.6,273.8 660.4,275.0 C660.2,276.2 659.9,277.3 659.6,278.5 C659.3,279.7 658.8,280.8 658.7,282.0 C658.6,283.2 658.8,284.3 658.9,285.5 C659.0,286.7 659.2,287.8 659.3,289.0 C659.4,290.2 659.4,291.3 659.5,292.5 C659.6,293.7 659.6,294.8 659.8,296.0 C660.1,297.2 660.7,298.3 661.0,299.5 C661.3,300.7 661.4,302.4 661.5,303.0" fill="none" stroke="#a66d68" stroke-width="1.7"/>
<ellipse cx="665.3" cy="233.7" rx="2.4" ry="4.2" fill="#a56b68" transform="rotate(-5 665.3 233.7)"/>
<ellipse cx="665.9" cy="256.8" rx="2.4" ry="4.2" fill="#a56b68" transform="rotate(14 665.9 256.8)"/>
<ellipse cx="665.2" cy="277.6" rx="2.4" ry="4.2" fill="#a56b68" transform="rotate(9 665.2 277.6)"/>
<path d="M670.3,198.0 C670.1,198.6 669.5,200.3 669.0,201.5 C668.6,202.7 668.0,203.8 667.8,205.0 C667.6,206.2 667.9,207.3 667.9,208.5 C667.9,209.7 667.8,210.8 667.8,212.0 C667.8,213.2 667.7,214.3 668.0,215.5 C668.2,216.7 668.8,217.8 669.3,219.0 C669.8,220.2 670.7,221.3 671.1,222.5 C671.5,223.7 671.7,224.8 671.9,226.0 C672.1,227.2 672.1,228.3 672.3,229.5 C672.5,230.7 672.9,231.8 673.0,233.0 C673.1,234.2 673.1,235.3 673.1,236.5 C673.1,237.7 673.2,238.8 673.0,240.0 C672.9,241.2 672.6,242.3 672.2,243.5 C671.8,244.7 671.2,245.8 670.7,247.0 C670.3,248.2 669.7,249.3 669.4,250.5 C669.1,251.7 669.3,252.8 669.0,254.0 C668.7,255.2 667.7,256.3 667.5,257.5 C667.3,258.7 667.7,259.8 667.7,261.0 C667.7,262.2 667.3,263.3 667.4,264.5 C667.6,265.7 668.3,266.8 668.6,268.0 C668.9,269.2 669.0,270.3 669.3,271.5 C669.6,272.7 670.0,273.8 670.5,275.0 C670.9,276.2 671.6,277.3 671.9,278.5 C672.3,279.7 672.3,280.8 672.6,282.0 C672.8,283.2 673.2,284.3 673.3,285.5 C673.5,286.7 673.7,287.8 673.6,289.0 C673.5,290.2 673.1,291.3 672.9,292.5 C672.6,293.7 672.5,294.8 672.1,296.0 C671.8,297.2 671.1,298.3 670.5,299.5 C670.0,300.7 669.1,302.4 668.8,303.0" fill="none" stroke="#a66d68" stroke-width="1.7"/>
<ellipse cx="675.5" cy="217.4" rx="2.4" ry="4.2" fill="#a56b68" transform="rotate(14 675.5 217.4)"/>
<ellipse cx="674.7" cy="241.7" rx="2.4" ry="4.2" fill="#a56b68" transform="rotate(-0 674.7 241.7)"/>
<ellipse cx="674.8" cy="263.5" rx="2.4" ry="4.2" fill="#a56b68" transform="rotate(5 674.8 263.5)"/>
<path d="M683.8,198.0 C683.7,198.6 683.6,200.3 683.2,201.5 C682.9,202.7 682.2,203.8 681.8,205.0 C681.4,206.2 681.3,207.3 680.9,208.5 C680.5,209.7 679.7,210.8 679.4,212.0 C679.1,213.2 679.2,214.3 678.9,215.5 C678.6,216.7 677.9,217.8 677.7,219.0 C677.5,220.2 677.8,221.3 677.9,222.5 C678.0,223.7 678.1,224.8 678.3,226.0 C678.5,227.2 678.7,228.3 678.9,229.5 C679.1,230.7 679.2,231.8 679.5,233.0 C679.8,234.2 680.2,235.3 680.7,236.5 C681.2,237.7 682.2,238.8 682.6,240.0 C683.1,241.2 683.4,242.3 683.5,243.5 C683.5,244.7 683.1,245.8 683.1,247.0 C683.0,248.2 683.2,249.3 683.2,250.5 C683.2,251.7 683.3,252.8 683.1,254.0 C682.9,255.2 682.5,256.3 682.0,257.5 C681.6,258.7 680.7,259.8 680.2,261.0 C679.8,262.2 679.4,263.3 679.2,264.5 C679.0,265.7 679.1,266.8 678.8,268.0 C678.5,269.2 677.4,270.3 677.2,271.5 C676.9,272.7 677.1,273.8 677.3,275.0 C677.5,276.2 677.9,277.3 678.2,278.5 C678.6,279.7 679.0,280.8 679.4,282.0 C679.8,283.2 680.3,284.3 680.6,285.5 C680.9,286.7 680.9,287.8 681.3,289.0 C681.7,290.2 682.4,291.3 682.8,292.5 C683.2,293.7 683.7,294.8 683.8,296.0 C683.8,297.2 683.4,298.3 683.3,299.5 C683.1,300.7 682.9,302.4 682.9,303.0" fill="none" stroke="#a66d68" stroke-width="1.7"/>
<ellipse cx="685.9" cy="229.1" rx="2.4" ry="4.2" fill="#a56b68" transform="rotate(-9 685.9 229.1)"/>
<ellipse cx="685.9" cy="254.6" rx="2.4" ry="4.2" fill="#a56b68" transform="rotate(0 685.9 254.6)"/>
<path d="M687.0,198.0 C686.9,198.6 686.4,200.3 686.3,201.5 C686.1,202.7 686.2,203.8 686.3,205.0 C686.3,206.2 686.3,207.3 686.4,208.5 C686.5,209.7 686.8,210.8 687.0,212.0 C687.2,213.2 687.4,214.3 687.7,215.5 C687.9,216.7 688.1,217.8 688.4,219.0 C688.8,220.2 689.7,221.3 689.9,222.5 C690.2,223.7 689.7,224.8 689.9,226.0 C690.1,227.2 690.8,228.3 691.1,229.5 C691.4,230.7 691.4,231.8 691.5,233.0 C691.6,234.2 691.8,235.3 691.7,236.5 C691.7,237.7 691.4,238.8 691.4,240.0 C691.3,241.2 691.6,242.3 691.4,243.5 C691.2,244.7 690.4,245.8 690.0,247.0 C689.6,248.2 689.2,249.3 689.0,250.5 C688.8,251.7 689.0,252.8 688.8,254.0 C688.6,255.2 687.8,256.3 687.6,257.5 C687.4,258.7 687.8,259.8 687.8,261.0 C687.7,262.2 687.3,263.3 687.1,264.5 C686.9,265.7 686.6,266.8 686.5,268.0 C686.5,269.2 686.7,270.3 686.7,271.5 C686.6,272.7 686.1,273.8 686.2,275.0 C686.2,276.2 686.7,277.3 686.9,278.5 C687.1,279.7 687.2,280.8 687.4,282.0 C687.7,283.2 687.9,284.3 688.2,285.5 C688.4,286.7 688.7,287.8 689.0,289.0 C689.3,290.2 689.7,291.3 690.0,292.5 C690.3,293.7 690.8,294.8 690.9,296.0 C691.0,297.2 690.5,298.3 690.6,299.5 C690.7,300.7 691.3,302.4 691.5,303.0" fill="none" stroke="#a66d68" stroke-width="1.7"/>
<ellipse cx="693.0" cy="231.8" rx="2.4" ry="4.2" fill="#a56b68" transform="rotate(6 693.0 231.8)"/>
<ellipse cx="693.6" cy="283.3" rx="2.4" ry="4.2" fill="#a56b68" transform="rotate(-13 693.6 283.3)"/>
<path d="M696.4,198.0 C696.5,198.6 696.7,200.3 697.0,201.5 C697.3,202.7 697.6,203.8 698.0,205.0 C698.4,206.2 699.2,207.3 699.4,208.5 C699.6,209.7 699.3,210.8 699.4,212.0 C699.4,213.2 699.7,214.3 699.8,215.5 C699.9,216.7 700.1,217.8 700.1,219.0 C700.2,220.2 700.3,221.3 700.1,222.5 C699.9,223.7 699.0,224.8 698.7,226.0 C698.5,227.2 698.7,228.3 698.5,229.5 C698.4,230.7 698.1,231.8 697.9,233.0 C697.6,234.2 697.5,235.3 697.1,236.5 C696.8,237.7 696.2,238.8 695.9,240.0 C695.7,241.2 695.7,242.3 695.6,243.5 C695.6,244.7 695.9,245.8 695.8,247.0 C695.7,248.2 695.2,249.3 695.2,250.5 C695.2,251.7 695.6,252.8 695.8,254.0 C696.0,255.2 696.3,256.3 696.5,257.5 C696.8,258.7 697.3,259.8 697.5,261.0 C697.7,262.2 697.3,263.3 697.6,264.5 C697.8,265.7 698.6,266.8 698.8,268.0 C699.0,269.2 698.8,270.3 698.9,271.5 C699.0,272.7 699.1,273.8 699.2,275.0 C699.4,276.2 699.7,277.3 699.8,278.5 C699.9,279.7 699.9,280.8 699.9,282.0 C699.8,283.2 699.6,284.3 699.5,285.5 C699.4,286.7 699.6,287.8 699.3,289.0 C699.0,290.2 697.9,291.3 697.6,292.5 C697.3,293.7 697.4,294.8 697.3,296.0 C697.1,297.2 696.7,298.3 696.5,299.5 C696.2,300.7 695.8,302.4 695.6,303.0" fill="none" stroke="#a66d68" stroke-width="1.7"/>
<ellipse cx="701.6" cy="220.6" rx="2.4" ry="4.2" fill="#a56b68" transform="rotate(-14 701.6 220.6)"/>
<ellipse cx="701.6" cy="246.3" rx="2.4" ry="4.2" fill="#a56b68" transform="rotate(13 701.6 246.3)"/>
<ellipse cx="703.0" cy="271.9" rx="2.4" ry="4.2" fill="#a56b68" transform="rotate(11 703.0 271.9)"/>
<path d="M705.5,198.0 C705.7,198.6 706.1,200.3 706.6,201.5 C707.2,202.7 708.3,203.8 708.6,205.0 C709.0,206.2 708.6,207.3 708.9,208.5 C709.1,209.7 710.1,210.8 710.2,212.0 C710.4,213.2 709.8,214.3 709.7,215.5 C709.6,216.7 709.6,217.8 709.5,219.0 C709.4,220.2 709.4,221.3 709.0,222.5 C708.6,223.7 707.5,224.8 707.0,226.0 C706.5,227.2 706.4,228.3 706.0,229.5 C705.6,230.7 705.2,231.8 704.9,233.0 C704.5,234.2 704.1,235.3 703.8,236.5 C703.5,237.7 703.1,238.8 703.0,240.0 C703.0,241.2 703.2,242.3 703.3,243.5 C703.3,244.7 703.2,245.8 703.3,247.0 C703.5,248.2 703.8,249.3 704.1,250.5 C704.4,251.7 704.6,252.8 705.1,254.0 C705.6,255.2 706.6,256.3 707.2,257.5 C707.7,258.7 708.0,259.8 708.4,261.0 C708.8,262.2 709.5,263.3 709.6,264.5 C709.8,265.7 709.3,266.8 709.4,268.0 C709.5,269.2 710.1,270.3 710.1,271.5 C710.1,272.7 709.6,273.8 709.4,275.0 C709.1,276.2 708.8,277.3 708.5,278.5 C708.2,279.7 708.1,280.8 707.7,282.0 C707.2,283.2 706.5,284.3 706.0,285.5 C705.4,286.7 704.9,287.8 704.6,289.0 C704.3,290.2 704.2,291.3 703.9,292.5 C703.6,293.7 702.8,294.8 702.7,296.0 C702.7,297.2 703.4,298.3 703.6,299.5 C703.7,300.7 703.6,302.4 703.6,303.0" fill="none" stroke="#a66d68" stroke-width="1.7"/>
<ellipse cx="711.9" cy="205.7" rx="2.4" ry="4.2" fill="#a56b68" transform="rotate(14 711.9 205.7)"/>
<ellipse cx="711.9" cy="228.8" rx="2.4" ry="4.2" fill="#a56b68" transform="rotate(-6 711.9 228.8)"/>
<ellipse cx="710.9" cy="247.1" rx="2.4" ry="4.2" fill="#a56b68" transform="rotate(5 710.9 247.1)"/>
<ellipse cx="711.4" cy="265.9" rx="2.4" ry="4.2" fill="#a56b68" transform="rotate(-5 711.4 265.9)"/>
<path d="M713.7,198.0 C713.7,198.6 713.8,200.3 714.0,201.5 C714.1,202.7 714.4,203.8 714.7,205.0 C714.9,206.2 715.1,207.3 715.5,208.5 C715.8,209.7 716.5,210.8 716.8,212.0 C717.2,213.2 717.4,214.3 717.6,215.5 C717.9,216.7 717.8,217.8 718.2,219.0 C718.5,220.2 719.5,221.3 719.7,222.5 C720.0,223.7 719.9,224.8 719.8,226.0 C719.8,227.2 719.7,228.3 719.5,229.5 C719.4,230.7 719.3,231.8 719.0,233.0 C718.7,234.2 718.0,235.3 717.6,236.5 C717.3,237.7 717.4,238.8 717.0,240.0 C716.6,241.2 715.6,242.3 715.2,243.5 C714.9,244.7 715.2,245.8 714.8,247.0 C714.4,248.2 713.3,249.3 713.0,250.5 C712.6,251.7 712.9,252.8 712.9,254.0 C712.9,255.2 713.0,256.3 713.2,257.5 C713.3,258.7 713.7,259.8 713.9,261.0 C714.1,262.2 714.0,263.3 714.3,264.5 C714.6,265.7 715.4,266.8 715.7,268.0 C716.1,269.2 716.0,270.3 716.4,271.5 C716.7,272.7 717.5,273.8 717.9,275.0 C718.3,276.2 718.7,277.3 719.0,278.5 C719.2,279.7 719.4,280.8 719.3,282.0 C719.3,283.2 718.9,284.3 718.9,285.5 C718.9,286.7 719.6,287.8 719.4,289.0 C719.3,290.2 718.4,291.3 718.0,292.5 C717.7,293.7 717.8,294.8 717.5,296.0 C717.2,297.2 716.4,298.3 716.1,299.5 C715.8,300.7 715.8,302.4 715.7,303.0" fill="none" stroke="#a66d68" stroke-width="1.7"/>
<ellipse cx="721.1" cy="226.7" rx="2.4" ry="4.2" fill="#a56b68" transform="rotate(13 721.1 226.7)"/>
<ellipse cx="720.5" cy="245.6" rx="2.4" ry="4.2" fill="#a56b68" transform="rotate(4 720.5 245.6)"/>
<ellipse cx="719.9" cy="264.5" rx="2.4" ry="4.2" fill="#a56b68" transform="rotate(12 719.9 264.5)"/>
<ellipse cx="720.0" cy="288.4" rx="2.4" ry="4.2" fill="#a56b68" transform="rotate(6 720.0 288.4)"/>
<path d="M722.1,198.0 C722.1,198.6 721.9,200.3 721.8,201.5 C721.6,202.7 721.2,203.8 721.3,205.0 C721.3,206.2 721.9,207.3 722.0,208.5 C722.1,209.7 721.7,210.8 721.9,212.0 C722.1,213.2 722.7,214.3 723.0,215.5 C723.4,216.7 723.6,217.8 724.0,219.0 C724.4,220.2 725.1,221.3 725.4,222.5 C725.8,223.7 726.1,224.8 726.2,226.0 C726.4,227.2 726.1,228.3 726.3,229.5 C726.4,230.7 726.8,231.8 727.1,233.0 C727.3,234.2 727.6,235.3 727.7,236.5 C727.9,237.7 727.8,238.8 727.9,240.0 C727.9,241.2 728.2,242.3 728.0,243.5 C727.9,244.7 727.2,245.8 726.9,247.0 C726.7,248.2 726.8,249.3 726.5,250.5 C726.3,251.7 725.8,252.8 725.4,254.0 C725.0,255.2 724.5,256.3 724.2,257.5 C723.9,258.7 723.9,259.8 723.6,261.0 C723.3,262.2 722.7,263.3 722.5,264.5 C722.3,265.7 722.7,266.8 722.5,268.0 C722.2,269.2 721.2,270.3 721.1,271.5 C721.0,272.7 721.8,273.8 722.0,275.0 C722.1,276.2 721.9,277.3 721.9,278.5 C722.0,279.7 722.2,280.8 722.3,282.0 C722.4,283.2 722.3,284.3 722.6,285.5 C723.0,286.7 723.8,287.8 724.3,289.0 C724.8,290.2 725.2,291.3 725.5,292.5 C725.8,293.7 725.7,294.8 726.0,296.0 C726.3,297.2 727.0,298.3 727.3,299.5 C727.5,300.7 727.6,302.4 727.7,303.0" fill="none" stroke="#a66d68" stroke-width="1.7"/>
<ellipse cx="729.7" cy="228.3" rx="2.4" ry="4.2" fill="#a56b68" transform="rotate(11 729.7 228.3)"/>
<ellipse cx="729.9" cy="256.5" rx="2.4" ry="4.2" fill="#a56b68" transform="rotate(-10 729.9 256.5)"/>
<ellipse cx="730.0" cy="281.1" rx="2.4" ry="4.2" fill="#a56b68" transform="rotate(7 730.0 281.1)"/>
<path d="M736.6,198.0 C736.7,198.6 736.8,200.3 737.0,201.5 C737.1,202.7 737.7,203.8 737.7,205.0 C737.6,206.2 736.7,207.3 736.5,208.5 C736.4,209.7 736.9,210.8 736.7,212.0 C736.5,213.2 735.7,214.3 735.3,215.5 C734.8,216.7 734.4,217.8 734.0,219.0 C733.5,220.2 732.9,221.3 732.6,222.5 C732.3,223.7 732.4,224.8 732.3,226.0 C732.2,227.2 732.2,228.3 732.2,229.5 C732.1,230.7 731.6,231.8 731.9,233.0 C732.1,234.2 733.2,235.3 733.5,236.5 C733.8,237.7 733.4,238.8 733.7,240.0 C733.9,241.2 734.5,242.3 734.9,243.5 C735.2,244.7 735.5,245.8 735.8,247.0 C736.1,248.2 736.5,249.3 736.7,250.5 C736.9,251.7 736.9,252.8 737.1,254.0 C737.3,255.2 737.9,256.3 737.8,257.5 C737.7,258.7 736.7,259.8 736.4,261.0 C736.1,262.2 736.2,263.3 736.0,264.5 C735.8,265.7 735.5,266.8 735.2,268.0 C734.8,269.2 734.3,270.3 733.9,271.5 C733.5,272.7 733.0,273.8 732.8,275.0 C732.5,276.2 732.5,277.3 732.3,278.5 C732.1,279.7 731.6,280.8 731.6,282.0 C731.5,283.2 731.9,284.3 732.1,285.5 C732.3,286.7 732.5,287.8 732.9,289.0 C733.3,290.2 733.9,291.3 734.3,292.5 C734.6,293.7 734.7,294.8 735.0,296.0 C735.3,297.2 735.6,298.3 736.0,299.5 C736.4,300.7 736.9,302.4 737.1,303.0" fill="none" stroke="#a66d68" stroke-width="1.7"/>
<ellipse cx="738.6" cy="209.7" rx="2.4" ry="4.2" fill="#a56b68" transform="rotate(4 738.6 209.7)"/>
<ellipse cx="740.0" cy="234.2" rx="2.4" ry="4.2" fill="#a56b68" transform="rotate(9 740.0 234.2)"/>
<ellipse cx="740.2" cy="264.0" rx="2.4" ry="4.2" fill="#a56b68" transform="rotate(-2 740.2 264.0)"/>
<ellipse cx="740.1" cy="286.4" rx="2.4" ry="4.2" fill="#a56b68" transform="rotate(14 740.1 286.4)"/>
<path d="M746.0,198.0 C745.9,198.6 745.3,200.3 745.1,201.5 C744.8,202.7 744.5,203.8 744.5,205.0 C744.5,206.2 745.2,207.3 745.1,208.5 C744.9,209.7 743.9,210.8 743.5,212.0 C743.0,213.2 742.6,214.3 742.3,215.5 C742.1,216.7 742.3,217.8 742.1,219.0 C741.9,220.2 741.2,221.3 741.1,222.5 C741.0,223.7 741.6,224.8 741.7,226.0 C741.7,227.2 741.3,228.3 741.2,229.5 C741.2,230.7 741.4,231.8 741.6,233.0 C741.8,234.2 742.3,235.3 742.4,236.5 C742.5,237.7 742.0,238.8 742.1,240.0 C742.2,241.2 742.6,242.3 743.0,243.5 C743.4,244.7 744.1,245.8 744.5,247.0 C744.8,248.2 744.8,249.3 745.0,250.5 C745.1,251.7 745.2,252.8 745.3,254.0 C745.4,255.2 745.5,256.3 745.6,257.5 C745.7,258.7 745.9,259.8 745.9,261.0 C746.0,262.2 746.2,263.3 746.1,264.5 C746.1,265.7 745.8,266.8 745.7,268.0 C745.5,269.2 745.2,270.3 745.0,271.5 C744.7,272.7 744.7,273.8 744.3,275.0 C743.8,276.2 742.9,277.3 742.4,278.5 C742.0,279.7 741.7,280.8 741.6,282.0 C741.5,283.2 742.1,284.3 742.0,285.5 C741.9,286.7 741.1,287.8 741.0,289.0 C740.8,290.2 741.2,291.3 741.2,292.5 C741.3,293.7 741.2,294.8 741.4,296.0 C741.6,297.2 742.3,298.3 742.5,299.5 C742.7,300.7 742.5,302.4 742.5,303.0" fill="none" stroke="#a66d68" stroke-width="1.7"/>
<ellipse cx="748.8" cy="207.3" rx="2.4" ry="4.2" fill="#a56b68" transform="rotate(9 748.8 207.3)"/>
<ellipse cx="748.1" cy="298.1" rx="2.4" ry="4.2" fill="#a56b68" transform="rotate(11 748.1 298.1)"/>
<path d="M752.0,198.0 C752.2,198.6 752.8,200.3 753.2,201.5 C753.7,202.7 754.4,203.8 754.8,205.0 C755.1,206.2 755.0,207.3 755.2,208.5 C755.4,209.7 756.0,210.8 756.1,212.0 C756.1,213.2 755.7,214.3 755.7,215.5 C755.7,216.7 755.9,217.8 755.9,219.0 C755.9,220.2 755.9,221.3 755.7,222.5 C755.6,223.7 755.2,224.8 754.8,226.0 C754.4,227.2 753.7,228.3 753.5,229.5 C753.2,230.7 753.8,231.8 753.5,233.0 C753.2,234.2 752.0,235.3 751.7,236.5 C751.4,237.7 751.7,238.8 751.7,240.0 C751.7,241.2 751.8,242.3 751.7,243.5 C751.5,244.7 750.9,245.8 750.8,247.0 C750.7,248.2 751.0,249.3 751.1,250.5 C751.3,251.7 751.6,252.8 751.9,254.0 C752.2,255.2 752.6,256.3 753.0,257.5 C753.4,258.7 754.3,259.8 754.5,261.0 C754.7,262.2 754.3,263.3 754.4,264.5 C754.6,265.7 754.9,266.8 755.3,268.0 C755.6,269.2 756.4,270.3 756.5,271.5 C756.6,272.7 755.9,273.8 755.8,275.0 C755.7,276.2 756.1,277.3 756.0,278.5 C755.9,279.7 755.8,280.8 755.4,282.0 C755.1,283.2 754.2,284.3 753.7,285.5 C753.3,286.7 753.0,287.8 752.8,289.0 C752.6,290.2 752.8,291.3 752.7,292.5 C752.6,293.7 752.4,294.8 752.2,296.0 C751.9,297.2 751.6,298.3 751.4,299.5 C751.2,300.7 751.1,302.4 751.0,303.0" fill="none" stroke="#a66d68" stroke-width="1.7"/>
<ellipse cx="757.3" cy="206.7" rx="2.4" ry="4.2" fill="#a56b68" transform="rotate(-5 757.3 206.7)"/>
<ellipse cx="758.0" cy="225.1" rx="2.4" ry="4.2" fill="#a56b68" transform="rotate(-6 758.0 225.1)"/>
<ellipse cx="757.1" cy="245.8" rx="2.4" ry="4.2" fill="#a56b68" transform="rotate(-11 757.1 245.8)"/>
<ellipse cx="758.5" cy="275.6" rx="2.4" ry="4.2" fill="#a56b68" transform="rotate(-1 758.5 275.6)"/>
<path d="M764.1,198.0 C764.0,198.6 764.1,200.3 763.6,201.5 C763.2,202.7 761.9,203.8 761.5,205.0 C761.1,206.2 761.5,207.3 761.2,208.5 C761.0,209.7 760.3,210.8 760.0,212.0 C759.7,213.2 759.5,214.3 759.3,215.5 C759.2,216.7 759.1,217.8 759.2,219.0 C759.2,220.2 759.5,221.3 759.6,222.5 C759.7,223.7 759.5,224.8 759.7,226.0 C759.9,227.2 760.5,228.3 760.9,229.5 C761.4,230.7 761.9,231.8 762.3,233.0 C762.7,234.2 763.0,235.3 763.3,236.5 C763.6,237.7 763.7,238.8 764.1,240.0 C764.5,241.2 765.3,242.3 765.5,243.5 C765.8,244.7 765.4,245.8 765.5,247.0 C765.5,248.2 765.8,249.3 765.6,250.5 C765.5,251.7 764.8,252.8 764.6,254.0 C764.3,255.2 764.7,256.3 764.3,257.5 C763.9,258.7 762.7,259.8 762.3,261.0 C761.8,262.2 761.7,263.3 761.4,264.5 C761.0,265.7 760.5,266.8 760.2,268.0 C760.0,269.2 760.1,270.3 759.9,271.5 C759.6,272.7 758.8,273.8 758.7,275.0 C758.6,276.2 759.1,277.3 759.3,278.5 C759.4,279.7 759.4,280.8 759.7,282.0 C759.9,283.2 760.5,284.3 760.8,285.5 C761.1,286.7 761.1,287.8 761.5,289.0 C761.8,290.2 762.5,291.3 763.0,292.5 C763.6,293.7 764.4,294.8 764.7,296.0 C764.9,297.2 764.3,298.3 764.5,299.5 C764.7,300.7 765.8,302.4 766.0,303.0" fill="none" stroke="#a66d68" stroke-width="1.7"/>
<ellipse cx="766.0" cy="221.4" rx="2.4" ry="4.2" fill="#a56b68" transform="rotate(-0 766.0 221.4)"/>
<ellipse cx="767.3" cy="251.0" rx="2.4" ry="4.2" fill="#a56b68" transform="rotate(8 767.3 251.0)"/>
<ellipse cx="766.1" cy="270.4" rx="2.4" ry="4.2" fill="#a56b68" transform="rotate(-12 766.1 270.4)"/>
<ellipse cx="767.2" cy="294.6" rx="2.4" ry="4.2" fill="#a56b68" transform="rotate(1 767.2 294.6)"/>
<path d="M771.8,198.0 C771.5,198.6 770.8,200.3 770.4,201.5 C770.0,202.7 769.8,203.8 769.6,205.0 C769.4,206.2 769.0,207.3 769.1,208.5 C769.2,209.7 769.9,210.8 770.2,212.0 C770.5,213.2 770.6,214.3 770.9,215.5 C771.2,216.7 771.8,217.8 772.1,219.0 C772.5,220.2 772.5,221.3 772.9,222.5 C773.3,223.7 774.1,224.8 774.5,226.0 C775.0,227.2 775.3,228.3 775.5,229.5 C775.7,230.7 775.8,231.8 775.9,233.0 C775.9,234.2 775.7,235.3 775.6,236.5 C775.6,237.7 775.8,238.8 775.6,240.0 C775.4,241.2 774.8,242.3 774.5,243.5 C774.3,244.7 774.3,245.8 774.0,247.0 C773.7,248.2 772.8,249.3 772.4,250.5 C772.0,251.7 771.9,252.8 771.6,254.0 C771.3,255.2 770.9,256.3 770.7,257.5 C770.4,258.7 770.1,259.8 769.9,261.0 C769.6,262.2 769.1,263.3 769.1,264.5 C769.0,265.7 769.4,266.8 769.6,268.0 C769.8,269.2 769.8,270.3 770.1,271.5 C770.4,272.7 771.1,273.8 771.5,275.0 C771.9,276.2 772.2,277.3 772.6,278.5 C773.0,279.7 773.4,280.8 773.9,282.0 C774.4,283.2 775.3,284.3 775.5,285.5 C775.7,286.7 775.1,287.8 775.3,289.0 C775.4,290.2 776.2,291.3 776.3,292.5 C776.4,293.7 776.2,294.8 775.9,296.0 C775.7,297.2 775.4,298.3 774.9,299.5 C774.5,300.7 773.5,302.4 773.2,303.0" fill="none" stroke="#a66d68" stroke-width="1.7"/>
<ellipse cx="777.4" cy="209.9" rx="2.4" ry="4.2" fill="#a56b68" transform="rotate(13 777.4 209.9)"/>
<ellipse cx="777.8" cy="228.2" rx="2.4" ry="4.2" fill="#a56b68" transform="rotate(-14 777.8 228.2)"/>
<ellipse cx="778.1" cy="256.9" rx="2.4" ry="4.2" fill="#a56b68" transform="rotate(-1 778.1 256.9)"/>
<path d="M782.5,198.0 C782.8,198.6 783.8,200.3 784.3,201.5 C784.7,202.7 784.9,203.8 785.0,205.0 C785.2,206.2 785.3,207.3 785.2,208.5 C785.2,209.7 784.7,210.8 784.5,212.0 C784.2,213.2 784.1,214.3 783.8,215.5 C783.5,216.7 782.7,217.8 782.5,219.0 C782.2,220.2 782.5,221.3 782.1,222.5 C781.7,223.7 780.4,224.8 779.9,226.0 C779.4,227.2 779.3,228.3 779.0,229.5 C778.7,230.7 778.2,231.8 778.1,233.0 C778.0,234.2 778.2,235.3 778.4,236.5 C778.6,237.7 779.3,238.8 779.4,240.0 C779.4,241.2 778.8,242.3 779.0,243.5 C779.1,244.7 779.8,245.8 780.3,247.0 C780.7,248.2 781.0,249.3 781.5,250.5 C782.0,251.7 782.9,252.8 783.3,254.0 C783.7,255.2 783.7,256.3 783.9,257.5 C784.0,258.7 784.1,259.8 784.3,261.0 C784.5,262.2 785.0,263.3 785.1,264.5 C785.2,265.7 785.3,266.8 785.0,268.0 C784.7,269.2 783.8,270.3 783.3,271.5 C782.9,272.7 782.5,273.8 782.1,275.0 C781.8,276.2 781.5,277.3 781.3,278.5 C781.0,279.7 781.1,280.8 780.7,282.0 C780.3,283.2 779.1,284.3 778.7,285.5 C778.2,286.7 778.2,287.8 778.2,289.0 C778.2,290.2 778.5,291.3 778.7,292.5 C778.9,293.7 779.1,294.8 779.2,296.0 C779.4,297.2 779.5,298.3 779.7,299.5 C779.9,300.7 780.2,302.4 780.3,303.0" fill="none" stroke="#a66d68" stroke-width="1.7"/>
<ellipse cx="785.3" cy="214.4" rx="2.4" ry="4.2" fill="#a56b68" transform="rotate(-13 785.3 214.4)"/>
<ellipse cx="786.1" cy="243.6" rx="2.4" ry="4.2" fill="#a56b68" transform="rotate(10 786.1 243.6)"/>
<ellipse cx="786.8" cy="264.0" rx="2.4" ry="4.2" fill="#a56b68" transform="rotate(2 786.8 264.0)"/>
<ellipse cx="787.2" cy="284.3" rx="2.4" ry="4.2" fill="#a56b68" transform="rotate(10 787.2 284.3)"/>
<path d="M789.9,198.0 C790.0,198.6 790.0,200.3 790.3,201.5 C790.6,202.7 791.2,203.8 791.6,205.0 C792.0,206.2 792.6,207.3 792.7,208.5 C792.8,209.7 792.4,210.8 792.4,212.0 C792.4,213.2 792.7,214.3 792.5,215.5 C792.3,216.7 791.4,217.8 791.0,219.0 C790.6,220.2 790.5,221.3 790.3,222.5 C790.0,223.7 789.8,224.8 789.4,226.0 C789.1,227.2 788.5,228.3 788.0,229.5 C787.6,230.7 787.0,231.8 786.9,233.0 C786.8,234.2 787.4,235.3 787.4,236.5 C787.4,237.7 786.8,238.8 787.0,240.0 C787.2,241.2 788.1,242.3 788.3,243.5 C788.6,244.7 788.3,245.8 788.6,247.0 C789.0,248.2 790.1,249.3 790.4,250.5 C790.8,251.7 790.4,252.8 790.7,254.0 C791.0,255.2 791.9,256.3 792.2,257.5 C792.6,258.7 792.9,259.8 793.0,261.0 C793.0,262.2 792.7,263.3 792.5,264.5 C792.3,265.7 791.9,266.8 791.7,268.0 C791.5,269.2 791.7,270.3 791.4,271.5 C791.2,272.7 790.7,273.8 790.2,275.0 C789.8,276.2 789.4,277.3 788.9,278.5 C788.4,279.7 787.6,280.8 787.3,282.0 C786.9,283.2 786.6,284.3 786.6,285.5 C786.5,286.7 787.1,287.8 787.2,289.0 C787.2,290.2 786.9,291.3 787.1,292.5 C787.2,293.7 787.4,294.8 787.9,296.0 C788.3,297.2 789.0,298.3 789.6,299.5 C790.2,300.7 791.0,302.4 791.2,303.0" fill="none" stroke="#a66d68" stroke-width="1.7"/>
<ellipse cx="795.1" cy="258.1" rx="2.4" ry="4.2" fill="#a56b68" transform="rotate(14 795.1 258.1)"/>
<ellipse cx="794.7" cy="278.2" rx="2.4" ry="4.2" fill="#a56b68" transform="rotate(-12 794.7 278.2)"/>
<ellipse cx="794.4" cy="297.4" rx="2.4" ry="4.2" fill="#a56b68" transform="rotate(-4 794.4 297.4)"/>
<path d="M800.8,198.0 C800.7,198.6 800.4,200.3 800.0,201.5 C799.6,202.7 798.5,203.8 798.2,205.0 C797.9,206.2 798.3,207.3 798.0,208.5 C797.6,209.7 796.7,210.8 796.3,212.0 C795.8,213.2 795.6,214.3 795.5,215.5 C795.4,216.7 795.6,217.8 795.4,219.0 C795.2,220.2 794.5,221.3 794.4,222.5 C794.4,223.7 794.9,224.8 795.1,226.0 C795.3,227.2 795.3,228.3 795.7,229.5 C796.1,230.7 797.2,231.8 797.6,233.0 C798.0,234.2 797.8,235.3 798.2,236.5 C798.6,237.7 799.5,238.8 800.0,240.0 C800.4,241.2 800.6,242.3 800.9,243.5 C801.2,244.7 801.8,245.8 801.8,247.0 C801.8,248.2 801.0,249.3 800.9,250.5 C800.7,251.7 800.9,252.8 800.8,254.0 C800.8,255.2 800.8,256.3 800.5,257.5 C800.2,258.7 799.5,259.8 799.0,261.0 C798.5,262.2 797.9,263.3 797.5,264.5 C797.2,265.7 797.2,266.8 796.9,268.0 C796.7,269.2 796.4,270.3 796.1,271.5 C795.8,272.7 795.3,273.8 795.1,275.0 C794.8,276.2 794.8,277.3 794.8,278.5 C794.7,279.7 794.6,280.8 794.8,282.0 C794.9,283.2 795.4,284.3 795.8,285.5 C796.2,286.7 797.0,287.8 797.3,289.0 C797.7,290.2 797.5,291.3 797.9,292.5 C798.3,293.7 799.5,294.8 799.8,296.0 C800.2,297.2 799.9,298.3 800.1,299.5 C800.3,300.7 800.8,302.4 801.0,303.0" fill="none" stroke="#a66d68" stroke-width="1.7"/>
<ellipse cx="802.5" cy="246.4" rx="2.4" ry="4.2" fill="#a56b68" transform="rotate(-11 802.5 246.4)"/>
<ellipse cx="801.7" cy="291.1" rx="2.4" ry="4.2" fill="#a56b68" transform="rotate(-1 801.7 291.1)"/>
</g>
</g>
<ellipse cx="656.6" cy="180.4" rx="126.2" ry="112.4" fill="none" stroke="#b5d5b8" stroke-width="9.2"/>
<g clip-path="url(#cb)">
<rect x="515" y="310" width="300" height="300" fill="#fdd9a5"/>
<path d="M579.0,353.0 C579.5,355.8 582.7,364.2 582.0,370.0 C581.3,375.8 579.2,381.8 575.0,388.0 C570.8,394.2 563.3,400.5 557.0,407.0 C550.7,413.5 541.8,420.7 537.0,427.0 C532.2,433.3 529.5,442.0 528.0,445.0" fill="none" stroke="#f9c772" stroke-width="7.3" stroke-linecap="round"/>
<path d="M641.0,328.0 C639.8,330.7 635.9,338.2 634.0,344.0 C632.1,349.8 629.8,356.7 629.5,363.0 C629.2,369.3 631.6,378.8 632.0,382.0" fill="none" stroke="#f9c772" stroke-width="7.3" stroke-linecap="round"/>
<path d="M532.0,439.0 C534.0,437.0 539.0,430.4 544.0,427.0 C549.0,423.6 554.0,421.5 562.0,418.5 C570.0,415.5 587.0,410.6 592.0,409.0" fill="none" stroke="#f9c772" stroke-width="6.3" stroke-linecap="round"/>
<path d="M540.0,470.0 C545.0,467.5 560.0,458.7 570.0,455.0 C580.0,451.3 590.0,450.5 600.0,448.0 C610.0,445.5 625.0,441.3 630.0,440.0" fill="none" stroke="#f9c772" stroke-width="6.7" stroke-linecap="round"/>
<path d="M700.0,396.0 C706.7,397.0 726.7,399.7 740.0,402.0 C753.3,404.3 770.0,407.8 780.0,410.0 C790.0,412.2 796.7,414.2 800.0,415.0" fill="none" stroke="#f9c772" stroke-width="6.1" stroke-linecap="round"/>
<path d="M740.0,424.0 C745.0,425.0 760.0,427.3 770.0,430.0 C780.0,432.7 795.0,438.3 800.0,440.0" fill="none" stroke="#f9c772" stroke-width="5.8" stroke-linecap="round"/>
<path d="M550.0,520.0 C554.2,516.7 565.8,504.7 575.0,500.0 C584.2,495.3 594.2,495.3 605.0,492.0 C615.8,488.7 634.2,482.0 640.0,480.0" fill="none" stroke="#f9c772" stroke-width="6.5" stroke-linecap="round"/>
<path d="M610.0,575.0 C615.0,572.5 630.0,564.5 640.0,560.0 C650.0,555.5 660.0,552.2 670.0,548.0 C680.0,543.8 695.0,537.2 700.0,535.0" fill="none" stroke="#f9c772" stroke-width="7.2" stroke-linecap="round"/>
<path d="M690.0,590.0 C695.0,587.5 708.3,580.0 720.0,575.0 C731.7,570.0 748.3,565.0 760.0,560.0 C771.7,555.0 785.0,547.5 790.0,545.0" fill="none" stroke="#f9c772" stroke-width="7.2" stroke-linecap="round"/>
<path d="M560.0,560.0 C564.2,561.7 576.7,565.8 585.0,570.0 C593.3,574.2 605.8,582.5 610.0,585.0" fill="none" stroke="#f9c772" stroke-width="6.9" stroke-linecap="round"/>
<path d="M680.0,465.0 C683.3,463.3 693.3,457.5 700.0,455.0 C706.7,452.5 716.7,450.8 720.0,450.0" fill="none" stroke="#f9c772" stroke-width="7.4" stroke-linecap="round"/>
<path d="M700.0,345.0 C703.3,342.5 712.5,331.7 720.0,330.0 C727.5,328.3 736.7,331.7 745.0,335.0 C753.3,338.3 765.8,347.5 770.0,350.0" fill="none" stroke="#f9c772" stroke-width="6.1" stroke-linecap="round"/>
<path d="M560.0,390.0 C563.3,388.3 573.3,385.0 580.0,380.0 C586.7,375.0 596.7,363.3 600.0,360.0" fill="none" stroke="#f9c772" stroke-width="5.8" stroke-linecap="round"/>
<path d="M740.0,500.0 C745.0,500.8 760.0,505.8 770.0,505.0 C780.0,504.2 795.0,496.7 800.0,495.0" fill="none" stroke="#f9c772" stroke-width="6.4" stroke-linecap="round"/>
<path d="M645.0,430.0 C648.3,428.3 657.5,420.8 665.0,420.0 C672.5,419.2 685.8,424.2 690.0,425.0" fill="none" stroke="#f9c772" stroke-width="6.1" stroke-linecap="round"/>
<path d="M530.0,490.0 C532.5,492.5 540.0,499.2 545.0,505.0 C550.0,510.8 557.5,521.7 560.0,525.0" fill="none" stroke="#f9c772" stroke-width="5.9" stroke-linecap="round"/>
<path d="M600.0,330.0 C598.3,332.5 591.7,342.5 590.0,345.0" fill="none" stroke="#f9c772" stroke-width="6.3" stroke-linecap="round"/>
<path d="M660.0,500.0 C665.0,500.8 682.5,501.7 690.0,505.0 C697.5,508.3 702.5,517.5 705.0,520.0" fill="none" stroke="#f9c772" stroke-width="6.8" stroke-linecap="round"/>
<path d="M620.0,560.0 C625.0,556.7 642.5,544.2 650.0,540.0 C657.5,535.8 662.5,535.8 665.0,535.0" fill="none" stroke="#f9c772" stroke-width="6.5" stroke-linecap="round"/>
<path d="M760.0,380.0 C763.3,382.5 774.2,388.3 780.0,395.0 C785.8,401.7 792.5,415.8 795.0,420.0" fill="none" stroke="#f9c772" stroke-width="6.1" stroke-linecap="round"/>
<path d="M530.0,400.0 C533.3,397.5 542.5,388.7 550.0,385.0 C557.5,381.3 570.8,379.2 575.0,378.0" fill="none" stroke="#f9c772" stroke-width="7.2" stroke-linecap="round"/>
<path d="M700.0,560.0 C705.0,557.5 720.0,550.8 730.0,545.0 C740.0,539.2 755.0,528.3 760.0,525.0" fill="none" stroke="#f9c772" stroke-width="7.5" stroke-linecap="round"/>
<path d="M630.0,470.0 C633.3,467.5 646.7,457.5 650.0,455.0" fill="none" stroke="#f9c772" stroke-width="6.4" stroke-linecap="round"/>
<path d="M600.0,445.0 C602.5,447.5 608.3,455.8 615.0,460.0 C621.7,464.2 635.8,468.3 640.0,470.0" fill="none" stroke="#f9c772" stroke-width="5.6" stroke-linecap="round"/>
<path d="M760.0,455.0 C765.0,456.7 782.5,460.8 790.0,465.0 C797.5,469.2 802.5,477.5 805.0,480.0" fill="none" stroke="#f9c772" stroke-width="5.6" stroke-linecap="round"/>
<path d="M545.0,540.0 C549.2,540.8 561.7,546.7 570.0,545.0 C578.3,543.3 590.8,532.5 595.0,530.0" fill="none" stroke="#f9c772" stroke-width="7.2" stroke-linecap="round"/>
<path d="M680.0,340.0 C681.7,343.3 686.7,353.3 690.0,360.0 C693.3,366.7 698.3,376.7 700.0,380.0" fill="none" stroke="#f9c772" stroke-width="5.6" stroke-linecap="round"/>
<path d="M650.0,590.0 C655.0,589.2 671.7,583.3 680.0,585.0 C688.3,586.7 696.7,597.5 700.0,600.0" fill="none" stroke="#f9c772" stroke-width="6.9" stroke-linecap="round"/>
<path d="M626.5,359.8 C627.0,361.6 627.4,367.5 629.1,370.8 C630.7,374.1 633.9,376.6 636.2,379.6 C638.6,382.5 641.6,385.1 643.1,388.4 C644.6,391.8 645.0,397.7 645.4,399.6" fill="none" stroke="#f9cc80" stroke-width="7.6" stroke-linecap="round"/>
<path d="M611.6,512.9 C613.2,512.9 617.8,513.1 621.0,512.6 C624.1,512.1 627.3,509.9 630.5,509.6 C633.6,509.4 636.6,510.3 639.7,511.2 C642.8,512.1 647.3,514.4 648.8,515.1" fill="none" stroke="#f9cc80" stroke-width="8.1" stroke-linecap="round"/>
<path d="M677.7,376.8 C679.3,377.1 684.0,377.7 686.9,378.6 C689.7,379.5 692.6,380.4 694.8,382.3 C697.1,384.2 698.3,387.7 700.3,389.8 C702.4,392.0 706.0,394.3 707.2,395.2" fill="none" stroke="#f9cc80" stroke-width="8.7" stroke-linecap="round"/>
<path d="M545.2,494.2 C547.2,494.7 553.7,495.6 557.3,497.4 C560.9,499.2 563.8,502.5 567.0,505.2 C570.2,507.8 572.9,511.3 576.4,513.3 C580.0,515.2 586.3,516.2 588.3,516.8" fill="none" stroke="#f9cc80" stroke-width="8.3" stroke-linecap="round"/>
<path d="M725.2,452.9 C726.3,452.8 729.4,452.0 731.5,452.3 C733.7,452.7 736.1,454.8 738.2,455.0 C740.4,455.2 742.4,454.6 744.4,453.6 C746.4,452.7 749.2,450.0 750.2,449.3" fill="none" stroke="#f9cc80" stroke-width="7.5" stroke-linecap="round"/>
<path d="M777.0,469.5 C778.7,470.0 783.8,471.6 787.2,472.2 C790.5,472.8 793.9,473.7 797.3,473.2 C800.6,472.8 803.8,470.4 807.1,469.4 C810.4,468.5 815.4,467.8 817.1,467.5" fill="none" stroke="#f9cc80" stroke-width="9.4" stroke-linecap="round"/>
<path d="M636.3,365.7 C634.9,366.9 629.8,370.3 627.5,373.3 C625.3,376.3 624.3,380.1 622.9,383.6 C621.5,387.2 621.1,391.4 619.1,394.6 C617.2,397.8 612.5,401.4 611.2,402.8" fill="none" stroke="#f9cc80" stroke-width="8.5" stroke-linecap="round"/>
<path d="M796.5,569.9 C796.3,570.9 794.9,573.8 794.9,576.0 C795.0,578.2 796.9,580.9 797.0,583.1 C797.1,585.3 796.6,587.4 795.6,589.3 C794.5,591.3 791.5,593.8 790.6,594.7" fill="none" stroke="#f9cc80" stroke-width="8.2" stroke-linecap="round"/>
<path d="M746.2,331.1 C746.9,332.4 748.9,336.3 750.0,339.0 C751.1,341.6 752.7,344.2 752.8,346.9 C753.0,349.6 751.2,352.6 750.7,355.4 C750.2,358.2 749.9,362.3 749.7,363.7" fill="none" stroke="#f9cc80" stroke-width="7.0" stroke-linecap="round"/>
<path d="M604.0,474.2 C604.8,473.2 606.8,469.7 608.7,468.5 C610.6,467.3 613.0,467.3 615.3,467.1 C617.6,466.9 620.5,468.0 622.7,467.4 C624.8,466.7 627.1,463.9 628.0,463.2" fill="none" stroke="#f9cc80" stroke-width="7.5" stroke-linecap="round"/>
<path d="M576.6,426.4 C578.3,426.9 583.6,427.9 586.7,429.6 C589.8,431.3 592.2,434.8 595.3,436.7 C598.4,438.6 601.5,440.2 605.0,441.0 C608.5,441.8 614.3,441.4 616.2,441.5" fill="none" stroke="#f9cc80" stroke-width="9.3" stroke-linecap="round"/>
<path d="M541.4,555.6 C543.0,556.2 547.8,558.2 551.0,559.5 C554.2,560.8 557.3,562.9 560.7,563.3 C564.0,563.7 567.6,562.4 571.0,562.0 C574.4,561.7 579.5,561.3 581.3,561.2" fill="none" stroke="#f9cc80" stroke-width="8.0" stroke-linecap="round"/>
<path d="M546.4,350.8 C546.4,352.1 545.8,356.4 546.5,358.7 C547.1,361.1 548.7,362.9 550.4,364.8 C552.1,366.6 555.3,367.7 556.7,369.7 C558.1,371.6 558.5,375.4 558.8,376.6" fill="none" stroke="#f9cc80" stroke-width="7.5" stroke-linecap="round"/>
<path d="M666.1,530.7 C667.1,531.3 669.7,534.0 672.0,534.6 C674.3,535.2 677.3,534.0 679.7,534.3 C682.2,534.6 684.6,534.9 686.5,536.2 C688.5,537.5 690.7,541.2 691.5,542.2" fill="none" stroke="#f9cc80" stroke-width="9.1" stroke-linecap="round"/>
<path d="M564.3,351.0 C565.3,350.3 568.1,348.4 570.0,346.9 C571.8,345.5 573.3,343.1 575.4,342.4 C577.5,341.7 580.0,342.6 582.4,342.7 C584.7,342.9 588.2,343.2 589.4,343.3" fill="none" stroke="#f9cc80" stroke-width="7.5" stroke-linecap="round"/>
<path d="M618.0,553.5 C619.3,552.7 623.2,549.7 626.0,548.8 C628.8,547.9 631.6,547.8 634.5,548.0 C637.5,548.3 640.6,550.2 643.5,550.3 C646.4,550.4 650.5,548.8 651.9,548.5" fill="none" stroke="#f9cc80" stroke-width="7.2" stroke-linecap="round"/>
<path d="M749.9,570.8 C751.4,571.0 756.2,570.8 759.0,572.0 C761.8,573.1 764.0,576.1 766.6,577.8 C769.2,579.5 771.8,581.3 774.8,582.0 C777.7,582.6 782.8,581.6 784.4,581.6" fill="none" stroke="#f9cc80" stroke-width="7.8" stroke-linecap="round"/>
<path d="M683.6,506.7 C685.4,506.5 690.7,505.8 694.4,505.6 C698.1,505.4 702.1,506.5 705.6,505.7 C709.1,505.0 712.2,502.7 715.4,501.0 C718.7,499.3 723.5,496.3 725.1,495.4" fill="none" stroke="#f9cc80" stroke-width="7.5" stroke-linecap="round"/>
<path d="M726.3,514.8 C728.3,514.8 734.2,515.1 737.9,514.4 C741.5,513.8 744.9,512.6 748.2,510.8 C751.4,509.0 754.0,505.4 757.2,503.6 C760.4,501.8 765.8,500.6 767.5,500.0" fill="none" stroke="#f9cc80" stroke-width="7.2" stroke-linecap="round"/>
<path d="M623.1,596.5 C625.0,596.1 631.3,595.9 635.0,594.4 C638.7,593.0 641.8,589.7 645.2,587.6 C648.7,585.5 652.0,583.0 655.8,581.8 C659.6,580.7 666.0,580.9 668.1,580.8" fill="none" stroke="#f9cc80" stroke-width="9.2" stroke-linecap="round"/>
<path d="M721.1,459.1 C722.8,460.1 727.9,463.1 731.5,464.7 C735.2,466.3 739.7,466.7 743.1,468.6 C746.5,470.6 749.1,473.7 751.9,476.6 C754.7,479.4 758.5,484.3 759.8,485.9" fill="none" stroke="#f9cc80" stroke-width="8.0" stroke-linecap="round"/>
<path d="M687.5,499.8 C688.9,498.8 693.0,495.1 696.0,493.4 C699.0,491.8 702.1,490.4 705.4,489.9 C708.7,489.4 712.7,490.6 716.0,490.3 C719.4,489.9 724.1,488.1 725.7,487.6" fill="none" stroke="#f9cc80" stroke-width="9.5" stroke-linecap="round"/>
<path d="M691.8,447.9 C693.1,447.3 696.9,444.5 699.7,444.1 C702.4,443.6 705.5,445.0 708.4,445.3 C711.3,445.7 714.3,446.7 717.1,446.2 C719.8,445.6 723.6,442.7 724.9,442.0" fill="none" stroke="#f9cc80" stroke-width="8.7" stroke-linecap="round"/>
<path d="M701.7,592.5 C702.9,592.1 706.2,590.6 708.8,590.2 C711.3,589.9 714.5,591.0 716.9,590.3 C719.2,589.7 721.2,588.0 723.1,586.3 C725.0,584.6 727.4,581.2 728.3,580.2" fill="none" stroke="#f9cc80" stroke-width="8.6" stroke-linecap="round"/>
<path d="M719.1,508.7 C717.7,510.1 713.0,514.1 710.4,517.2 C707.9,520.2 705.4,523.2 703.8,526.8 C702.2,530.3 702.4,534.9 701.1,538.6 C699.8,542.3 697.0,547.4 696.2,549.2" fill="none" stroke="#f9cc80" stroke-width="7.9" stroke-linecap="round"/>
<path d="M636.0,339.3 C635.5,340.7 633.1,344.6 632.9,347.4 C632.6,350.1 634.1,352.9 634.8,355.7 C635.5,358.4 637.2,361.2 637.1,364.0 C637.0,366.7 634.8,370.7 634.3,372.0" fill="none" stroke="#f9cc80" stroke-width="8.7" stroke-linecap="round"/>
<path d="M716.0,366.6 C717.1,367.0 720.5,368.8 723.0,369.2 C725.6,369.6 728.8,368.3 731.4,368.8 C733.9,369.4 736.0,370.7 738.1,372.3 C740.1,373.9 742.7,377.4 743.7,378.5" fill="none" stroke="#f9cc80" stroke-width="8.9" stroke-linecap="round"/>
<path d="M707.7,454.3 C709.4,453.8 714.6,452.2 718.1,451.5 C721.5,450.9 724.9,450.0 728.3,450.4 C731.7,450.9 735.0,453.2 738.4,454.1 C741.7,455.1 746.8,455.6 748.5,455.9" fill="none" stroke="#f9cc80" stroke-width="8.9" stroke-linecap="round"/>
<path d="M725.8,367.3 C727.0,368.0 731.4,369.8 733.3,371.8 C735.1,373.8 735.8,376.7 736.9,379.3 C737.9,382.0 738.0,385.4 739.6,387.6 C741.2,389.8 745.2,391.9 746.3,392.7" fill="none" stroke="#f9cc80" stroke-width="8.5" stroke-linecap="round"/>
<path d="M765.1,441.6 C767.1,441.2 772.9,439.4 777.0,439.2 C781.1,439.0 785.5,440.7 789.6,440.5 C793.7,440.4 797.7,439.6 801.6,438.3 C805.5,436.9 811.0,433.5 812.9,432.5" fill="none" stroke="#f9cc80" stroke-width="8.5" stroke-linecap="round"/>
<path d="M639.8,374.7 C640.8,371.5 642.9,370.1 645.1,371.3 C647.3,372.5 647.2,380.0 653.0,382.0 C658.8,384.0 674.8,382.1 679.7,383.3 C684.6,384.5 683.6,386.7 682.4,389.1 C681.1,391.6 672.8,394.3 672.0,398.0 C671.2,401.7 677.5,408.4 677.7,411.4 C678.0,414.4 676.0,416.4 673.3,416.0 C670.7,415.6 665.2,407.9 661.7,409.0 C658.2,410.1 655.1,420.9 652.5,422.8 C650.0,424.8 647.5,423.4 646.5,420.7 C645.4,418.1 649.0,410.5 646.0,407.0 C643.0,403.5 631.2,402.2 628.3,399.9 C625.3,397.7 626.5,395.0 628.3,393.5 C630.1,392.0 637.1,394.1 639.0,391.0 C640.9,387.9 638.7,378.0 639.8,374.7 Z" fill="#3a9bc4"/>
<path d="M546.7,484.8 C547.4,482.1 550.0,480.4 552.4,481.9 C554.8,483.5 556.7,494.2 561.0,494.0 C565.3,493.8 574.4,482.0 578.0,480.5 C581.6,478.9 582.9,481.1 582.6,484.9 C582.3,488.6 573.5,498.6 576.0,503.0 C578.5,507.4 594.4,509.1 597.7,511.5 C601.1,513.9 599.4,516.7 596.0,517.6 C592.5,518.6 583.6,514.8 577.0,517.0 C570.4,519.2 560.9,528.8 556.4,530.8 C551.9,532.9 551.3,531.9 550.2,529.2 C549.1,526.6 552.5,519.0 550.0,515.0 C547.5,511.0 537.4,508.0 535.0,505.3 C532.5,502.6 533.3,500.1 535.4,498.9 C537.6,497.7 546.1,500.3 548.0,498.0 C549.9,495.7 546.0,487.5 546.7,484.8 Z" fill="#3a9bc4"/>
<path d="M726.0,480.6 C727.3,478.0 730.0,477.0 732.0,478.4 C734.0,479.8 733.5,487.2 738.0,489.0 C742.5,490.8 755.1,488.1 759.1,489.0 C763.2,490.0 763.4,492.4 762.2,494.7 C760.9,497.0 750.9,500.0 751.6,503.0 C752.3,506.0 764.3,510.0 766.3,512.6 C768.4,515.2 767.1,517.7 763.8,518.5 C760.6,519.2 754.1,513.9 747.0,517.0 C739.9,520.1 726.5,534.1 721.4,536.9 C716.2,539.6 715.3,537.1 715.9,533.5 C716.5,529.8 725.5,520.3 725.0,515.0 C724.5,509.7 714.6,505.2 712.8,502.0 C711.0,498.8 712.3,497.0 714.1,495.7 C716.0,494.4 722.0,496.5 724.0,494.0 C726.0,491.5 724.7,483.2 726.0,480.6 Z" fill="#3a9bc4"/>
<ellipse cx="666.6" cy="340.1" rx="7" ry="4.5" fill="#3a9bc4" transform="rotate(-30 666.6 340.1)"/>
<ellipse cx="727.5" cy="382.1" rx="7" ry="4.5" fill="#3a9bc4" transform="rotate(20 727.5 382.1)"/>
<ellipse cx="569.1" cy="428.1" rx="7" ry="4.5" fill="#3a9bc4" transform="rotate(-25 569.1 428.1)"/>
<ellipse cx="698.4" cy="417.9" rx="7" ry="4.5" fill="#3a9bc4" transform="rotate(-15 698.4 417.9)"/>
<ellipse cx="608.6" cy="479.2" rx="7" ry="4" fill="#3a9bc4" transform="rotate(10 608.6 479.2)"/>
<ellipse cx="593" cy="515.7" rx="6" ry="4" fill="#3a9bc4" transform="rotate(0 593 515.7)"/>
<ellipse cx="613.9" cy="548" rx="4.5" ry="7.5" fill="#3a9bc4" transform="rotate(15 613.9 548)"/>
<ellipse cx="697.7" cy="525.3" rx="7.5" ry="4.5" fill="#3a9bc4" transform="rotate(-10 697.7 525.3)"/>
<ellipse cx="728.7" cy="557.1" rx="7.5" ry="5" fill="#3a9bc4" transform="rotate(15 728.7 557.1)"/>
<ellipse cx="779.1" cy="475.2" rx="4.5" ry="7" fill="#3a9bc4" transform="rotate(-30 779.1 475.2)"/>
<path d="M616.0,333.0 C619.0,335.6 627.8,344.7 634.0,348.5 C640.2,352.3 645.3,353.1 653.0,355.7 C660.7,358.3 673.2,361.4 680.0,364.0 C686.8,366.6 689.7,368.3 694.0,371.3 C698.3,374.3 702.7,376.7 706.0,382.0 C709.3,387.3 711.5,395.9 714.0,403.0 C716.5,410.1 718.8,417.9 721.0,424.5 C723.2,431.1 725.2,435.8 727.0,442.5 C728.8,449.2 730.2,457.9 732.0,465.0 C733.8,472.1 737.0,481.7 738.0,485.0" fill="none" stroke="#c17a60" stroke-width="3.4" stroke-linecap="round" stroke-linejoin="round"/>
<path d="M653.0,326.0 C652.0,328.2 650.5,334.8 647.0,339.0 C643.5,343.2 637.3,346.2 632.0,351.0 C626.7,355.8 619.5,363.0 615.0,368.0 C610.5,373.0 608.5,375.2 605.0,381.0 C601.5,386.8 597.2,396.0 594.0,403.0 C590.8,410.0 589.2,416.5 586.0,423.0 C582.8,429.5 578.4,436.0 575.0,442.0 C571.6,448.0 568.3,454.3 565.5,459.0 C562.7,463.7 561.6,468.0 558.0,470.0 C554.4,472.0 549.0,470.0 544.0,471.0 C539.0,472.0 530.7,475.2 528.0,476.0" fill="none" stroke="#c17a60" stroke-width="3.4" stroke-linecap="round" stroke-linejoin="round"/>
<path d="M545.0,369.0 C548.1,368.6 557.1,365.9 563.6,366.5 C570.1,367.1 578.4,371.1 584.0,372.5 C589.6,373.9 592.0,374.2 597.0,375.0 C602.0,375.8 609.3,376.3 614.0,377.3 C618.7,378.3 621.4,378.8 625.0,381.0 C628.6,383.2 632.0,386.6 635.5,390.4 C639.0,394.2 642.5,400.0 646.0,404.0 C649.5,408.0 652.6,410.8 656.4,414.5 C660.2,418.2 663.4,422.8 669.0,426.0 C674.6,429.2 686.5,432.7 690.0,434.0" fill="none" stroke="#c17a60" stroke-width="3.4" stroke-linecap="round" stroke-linejoin="round"/>
<path d="M703.5,331.8 C704.7,334.0 707.3,341.0 710.7,345.0 C714.1,349.0 718.8,352.7 724.0,355.7 C729.2,358.7 735.7,361.1 742.0,362.9 C748.3,364.7 756.5,365.5 762.0,366.5 C767.5,367.5 772.8,368.6 775.0,369.0" fill="none" stroke="#c17a60" stroke-width="3.4" stroke-linecap="round" stroke-linejoin="round"/>
<path d="M745.0,352.0 C744.3,354.4 741.8,361.5 740.7,366.5 C739.6,371.5 739.2,374.9 738.3,382.0 C737.4,389.1 736.8,400.1 735.5,409.0 C734.2,417.9 732.3,428.3 730.7,435.3 C729.1,442.3 728.1,446.8 725.9,450.9 C723.7,455.0 720.2,456.1 717.4,460.0 C714.6,463.9 712.6,470.4 709.0,474.4 C705.4,478.4 699.5,480.4 695.9,484.0 C692.3,487.6 690.1,490.9 687.5,495.9 C684.9,500.9 681.9,506.5 680.3,513.9 C678.7,521.2 679.3,532.3 677.9,540.0 C676.5,547.7 673.8,550.8 672.0,560.0 C670.2,569.2 667.8,589.2 667.0,595.0" fill="none" stroke="#c17a60" stroke-width="3.4" stroke-linecap="round" stroke-linejoin="round"/>
<path d="M527.0,446.0 C529.8,447.7 539.2,452.0 544.0,456.0 C548.8,460.0 552.4,464.3 556.0,470.0 C559.6,475.7 562.9,483.7 565.5,490.0 C568.1,496.3 569.9,503.0 571.5,508.0 C573.1,513.0 574.4,518.0 575.0,520.0" fill="none" stroke="#c17a60" stroke-width="3.4" stroke-linecap="round" stroke-linejoin="round"/>
<path d="M538.0,404.0 C540.0,406.8 546.7,415.2 550.0,421.0 C553.3,426.8 555.5,432.5 558.0,439.0 C560.5,445.5 562.3,454.5 565.0,460.0 C567.7,465.5 569.5,467.7 574.0,472.0 C578.5,476.3 585.0,481.0 592.0,486.0 C599.0,491.0 608.0,495.2 616.0,502.0 C624.0,508.8 633.3,518.3 640.0,527.0 C646.7,535.7 651.0,547.0 656.0,554.0 C661.0,561.0 664.7,565.1 670.0,569.0 C675.3,572.9 682.0,574.5 688.0,577.5 C694.0,580.5 703.0,585.4 706.0,587.0" fill="none" stroke="#c17a60" stroke-width="3.4" stroke-linecap="round" stroke-linejoin="round"/>
<path d="M650.0,493.0 C648.3,494.1 644.7,496.4 640.0,499.5 C635.3,502.6 628.0,506.9 622.0,511.5 C616.0,516.1 609.3,522.6 604.0,527.0 C598.7,531.4 594.3,535.7 590.0,538.0 C585.7,540.3 583.0,539.7 578.0,541.0 C573.0,542.3 566.3,544.2 560.0,546.0 C553.7,547.8 543.3,551.0 540.0,552.0" fill="none" stroke="#c17a60" stroke-width="3.4" stroke-linecap="round" stroke-linejoin="round"/>
<path d="M584.0,536.0 C586.0,539.0 591.7,548.0 596.0,554.0 C600.3,560.0 605.4,566.4 610.0,572.0 C614.6,577.6 621.2,584.9 623.5,587.5" fill="none" stroke="#c17a60" stroke-width="3.4" stroke-linecap="round" stroke-linejoin="round"/>
<path d="M785.0,402.0 C782.2,405.2 772.7,414.8 768.0,421.0 C763.3,427.2 760.0,430.8 757.0,439.0 C754.0,447.2 751.4,461.2 750.0,470.0 C748.6,478.8 747.8,484.5 748.4,492.0 C749.0,499.5 751.7,507.7 753.8,515.0 C755.9,522.3 758.6,530.4 761.0,535.6 C763.4,540.8 766.8,544.3 768.0,546.0" fill="none" stroke="#c17a60" stroke-width="3.4" stroke-linecap="round" stroke-linejoin="round"/>
<path d="M720.0,446.0 C723.3,445.0 733.0,441.4 740.0,440.0 C747.0,438.6 752.8,436.7 762.0,437.7 C771.2,438.7 789.5,444.6 795.0,446.0" fill="none" stroke="#c17a60" stroke-width="3.4" stroke-linecap="round" stroke-linejoin="round"/>
<path d="M690.0,434.0 C692.3,435.2 699.0,438.7 704.0,441.0 C709.0,443.3 714.8,445.2 720.0,448.0 C725.2,450.8 728.8,453.8 735.0,458.0 C741.2,462.2 747.5,467.3 757.0,473.0 C766.5,478.7 786.2,488.8 792.0,492.0" fill="none" stroke="#c17a60" stroke-width="3.4" stroke-linecap="round" stroke-linejoin="round"/>
<path d="M719.0,338.0 C717.2,339.8 711.2,343.3 708.0,348.5 C704.8,353.7 702.5,363.0 700.0,369.0 C697.5,375.0 695.2,377.8 693.0,384.5 C690.8,391.2 690.2,398.9 687.0,409.0 C683.8,419.1 678.8,436.5 674.0,445.0 C669.2,453.5 662.3,454.5 658.0,460.0 C653.7,465.5 651.5,472.0 648.0,478.0 C644.5,484.0 639.8,490.7 637.0,496.0 C634.2,501.3 631.3,505.0 631.0,510.0 C630.7,515.0 634.0,521.0 635.0,526.0 C636.0,531.0 636.7,537.7 637.0,540.0" fill="none" stroke="#c17a60" stroke-width="3.4" stroke-linecap="round" stroke-linejoin="round"/>
<path d="M681.0,520.0 C680.2,523.0 677.8,532.0 676.0,538.0 C674.2,544.0 671.0,553.0 670.0,556.0" fill="none" stroke="#c17a60" stroke-width="3.4" stroke-linecap="round" stroke-linejoin="round"/>
<path d="M738.0,460.0 C740.0,462.3 748.0,471.7 750.0,474.0" fill="none" stroke="#c17a60" stroke-width="3.4" stroke-linecap="round" stroke-linejoin="round"/>
<path d="M598.5,336.0 C598.8,339.3 599.3,349.5 600.3,356.0 C601.3,362.5 603.0,368.5 604.3,375.0 C605.6,381.5 606.9,390.0 608.0,395.0 C609.1,400.0 610.0,401.0 611.0,405.0 C612.0,409.0 613.2,414.3 614.0,419.0 C614.8,423.7 615.1,427.7 616.0,433.0 C616.9,438.3 618.1,445.3 619.4,451.0 C620.7,456.7 622.1,462.0 624.0,467.0 C625.9,472.0 628.8,476.8 631.0,481.0 C633.2,485.2 634.7,487.9 637.5,492.0 C640.3,496.1 643.3,500.2 648.0,505.5 C652.7,510.8 659.2,517.1 665.9,523.5 C672.6,529.9 681.7,538.0 688.0,544.0 C694.3,550.0 698.9,554.5 703.5,559.5 C708.1,564.5 712.1,569.2 715.5,574.0 C718.9,578.8 722.6,585.7 724.0,588.0" fill="none" stroke="#c6816d" stroke-width="12.5" stroke-linecap="round" stroke-linejoin="round"/>
<path d="M598.5,336.0 C598.8,339.3 599.3,349.5 600.3,356.0 C601.3,362.5 603.0,368.5 604.3,375.0 C605.6,381.5 606.9,390.0 608.0,395.0 C609.1,400.0 610.0,401.0 611.0,405.0 C612.0,409.0 613.2,414.3 614.0,419.0 C614.8,423.7 615.1,427.7 616.0,433.0 C616.9,438.3 618.1,445.3 619.4,451.0 C620.7,456.7 622.1,462.0 624.0,467.0 C625.9,472.0 628.8,476.8 631.0,481.0 C633.2,485.2 634.7,487.9 637.5,492.0 C640.3,496.1 643.3,500.2 648.0,505.5 C652.7,510.8 659.2,517.1 665.9,523.5 C672.6,529.9 681.7,538.0 688.0,544.0 C694.3,550.0 698.9,554.5 703.5,559.5 C708.1,564.5 712.1,569.2 715.5,574.0 C718.9,578.8 722.6,585.7 724.0,588.0" fill="none" stroke="#c6816d" stroke-width="14.5" stroke-dasharray="3.4 2.4"/>
<path d="M598.5,336.0 C598.8,339.3 599.3,349.5 600.3,356.0 C601.3,362.5 603.0,368.5 604.3,375.0 C605.6,381.5 606.9,390.0 608.0,395.0 C609.1,400.0 610.0,401.0 611.0,405.0 C612.0,409.0 613.2,414.3 614.0,419.0 C614.8,423.7 615.1,427.7 616.0,433.0 C616.9,438.3 618.1,445.3 619.4,451.0 C620.7,456.7 622.1,462.0 624.0,467.0 C625.9,472.0 628.8,476.8 631.0,481.0 C633.2,485.2 634.7,487.9 637.5,492.0 C640.3,496.1 643.3,500.2 648.0,505.5 C652.7,510.8 659.2,517.1 665.9,523.5 C672.6,529.9 681.7,538.0 688.0,544.0 C694.3,550.0 698.9,554.5 703.5,559.5 C708.1,564.5 712.1,569.2 715.5,574.0 C718.9,578.8 722.6,585.7 724.0,588.0" fill="none" stroke="#94605b" stroke-width="12" stroke-dasharray="2.1 3.7" stroke-dashoffset="2.2"/>
<path d="M686.0,320.0 C685.5,323.3 684.3,334.0 683.0,340.0 C681.7,346.0 680.2,350.8 678.0,356.0 C675.8,361.2 673.3,366.7 670.0,371.0 C666.7,375.3 662.2,378.3 658.0,382.0 C653.8,385.7 648.7,389.5 645.0,393.0 C641.3,396.5 638.9,399.4 636.0,403.0 C633.1,406.6 631.6,411.3 627.8,414.9 C624.0,418.5 617.4,420.5 613.4,424.5 C609.4,428.5 606.6,434.3 603.8,438.9 C601.0,443.5 598.6,447.8 596.6,452.1 C594.6,456.5 593.5,459.7 591.9,465.0 C590.3,470.3 589.1,476.8 587.1,484.0 C585.1,491.2 581.7,500.3 580.0,508.0 C578.3,515.7 577.7,523.3 577.0,530.0 C576.3,536.7 576.0,541.3 576.0,548.0 C576.0,554.7 576.8,566.3 577.0,570.0" fill="none" stroke="#c6816d" stroke-width="12.5" stroke-linecap="round" stroke-linejoin="round"/>
<path d="M686.0,320.0 C685.5,323.3 684.3,334.0 683.0,340.0 C681.7,346.0 680.2,350.8 678.0,356.0 C675.8,361.2 673.3,366.7 670.0,371.0 C666.7,375.3 662.2,378.3 658.0,382.0 C653.8,385.7 648.7,389.5 645.0,393.0 C641.3,396.5 638.9,399.4 636.0,403.0 C633.1,406.6 631.6,411.3 627.8,414.9 C624.0,418.5 617.4,420.5 613.4,424.5 C609.4,428.5 606.6,434.3 603.8,438.9 C601.0,443.5 598.6,447.8 596.6,452.1 C594.6,456.5 593.5,459.7 591.9,465.0 C590.3,470.3 589.1,476.8 587.1,484.0 C585.1,491.2 581.7,500.3 580.0,508.0 C578.3,515.7 577.7,523.3 577.0,530.0 C576.3,536.7 576.0,541.3 576.0,548.0 C576.0,554.7 576.8,566.3 577.0,570.0" fill="none" stroke="#c6816d" stroke-width="14.5" stroke-dasharray="3.4 2.4"/>
<path d="M686.0,320.0 C685.5,323.3 684.3,334.0 683.0,340.0 C681.7,346.0 680.2,350.8 678.0,356.0 C675.8,361.2 673.3,366.7 670.0,371.0 C666.7,375.3 662.2,378.3 658.0,382.0 C653.8,385.7 648.7,389.5 645.0,393.0 C641.3,396.5 638.9,399.4 636.0,403.0 C633.1,406.6 631.6,411.3 627.8,414.9 C624.0,418.5 617.4,420.5 613.4,424.5 C609.4,428.5 606.6,434.3 603.8,438.9 C601.0,443.5 598.6,447.8 596.6,452.1 C594.6,456.5 593.5,459.7 591.9,465.0 C590.3,470.3 589.1,476.8 587.1,484.0 C585.1,491.2 581.7,500.3 580.0,508.0 C578.3,515.7 577.7,523.3 577.0,530.0 C576.3,536.7 576.0,541.3 576.0,548.0 C576.0,554.7 576.8,566.3 577.0,570.0" fill="none" stroke="#94605b" stroke-width="12" stroke-dasharray="2.1 3.7" stroke-dashoffset="2.2"/>
<path d="M544.0,381.0 C544.9,381.4 544.8,380.8 549.4,383.4 C554.0,386.0 565.1,393.1 571.9,396.9 C578.6,400.6 583.4,402.3 589.9,405.9 C596.4,409.5 604.7,414.4 611.0,418.5 C617.3,422.6 623.0,427.4 627.8,430.5 C632.6,433.6 635.5,433.8 640.0,437.0 C644.5,440.2 650.0,445.7 655.0,450.0 C660.0,454.3 665.6,458.9 670.0,463.0 C674.4,467.1 677.0,470.1 681.5,474.4 C686.0,478.7 691.7,483.5 697.1,488.7 C702.5,493.9 708.0,499.9 713.8,505.5 C719.6,511.1 725.1,515.9 731.8,522.3 C738.5,528.7 747.8,538.4 753.8,544.0 C759.8,549.6 765.6,554.0 768.0,556.0" fill="none" stroke="#c6816d" stroke-width="12.5" stroke-linecap="round" stroke-linejoin="round"/>
<path d="M544.0,381.0 C544.9,381.4 544.8,380.8 549.4,383.4 C554.0,386.0 565.1,393.1 571.9,396.9 C578.6,400.6 583.4,402.3 589.9,405.9 C596.4,409.5 604.7,414.4 611.0,418.5 C617.3,422.6 623.0,427.4 627.8,430.5 C632.6,433.6 635.5,433.8 640.0,437.0 C644.5,440.2 650.0,445.7 655.0,450.0 C660.0,454.3 665.6,458.9 670.0,463.0 C674.4,467.1 677.0,470.1 681.5,474.4 C686.0,478.7 691.7,483.5 697.1,488.7 C702.5,493.9 708.0,499.9 713.8,505.5 C719.6,511.1 725.1,515.9 731.8,522.3 C738.5,528.7 747.8,538.4 753.8,544.0 C759.8,549.6 765.6,554.0 768.0,556.0" fill="none" stroke="#c6816d" stroke-width="14.5" stroke-dasharray="3.4 2.4"/>
<path d="M544.0,381.0 C544.9,381.4 544.8,380.8 549.4,383.4 C554.0,386.0 565.1,393.1 571.9,396.9 C578.6,400.6 583.4,402.3 589.9,405.9 C596.4,409.5 604.7,414.4 611.0,418.5 C617.3,422.6 623.0,427.4 627.8,430.5 C632.6,433.6 635.5,433.8 640.0,437.0 C644.5,440.2 650.0,445.7 655.0,450.0 C660.0,454.3 665.6,458.9 670.0,463.0 C674.4,467.1 677.0,470.1 681.5,474.4 C686.0,478.7 691.7,483.5 697.1,488.7 C702.5,493.9 708.0,499.9 713.8,505.5 C719.6,511.1 725.1,515.9 731.8,522.3 C738.5,528.7 747.8,538.4 753.8,544.0 C759.8,549.6 765.6,554.0 768.0,556.0" fill="none" stroke="#94605b" stroke-width="12" stroke-dasharray="2.1 3.7" stroke-dashoffset="2.2"/>
<path d="M780.0,378.0 C778.9,378.9 776.8,380.5 773.4,383.4 C770.0,386.3 764.6,391.6 759.9,395.4 C755.2,399.1 750.0,402.2 745.0,405.9 C740.0,409.6 734.0,414.5 730.0,417.8 C726.0,421.1 725.2,422.2 721.1,425.7 C717.0,429.2 710.8,434.5 705.6,438.9 C700.4,443.3 694.1,447.6 690.0,452.0 C685.9,456.4 684.0,460.2 681.0,465.0 C678.0,469.8 674.5,475.9 672.0,481.0 C669.5,486.1 668.5,491.0 665.9,495.9 C663.3,500.8 659.7,505.3 656.3,510.3 C652.9,515.3 648.5,520.4 645.6,525.9 C642.7,531.4 640.9,537.6 639.0,543.0 C637.1,548.4 635.6,552.2 634.0,558.0 C632.4,563.8 630.8,571.6 629.5,577.9 C628.2,584.2 626.6,593.0 626.0,596.0" fill="none" stroke="#c6816d" stroke-width="12.5" stroke-linecap="round" stroke-linejoin="round"/>
<path d="M780.0,378.0 C778.9,378.9 776.8,380.5 773.4,383.4 C770.0,386.3 764.6,391.6 759.9,395.4 C755.2,399.1 750.0,402.2 745.0,405.9 C740.0,409.6 734.0,414.5 730.0,417.8 C726.0,421.1 725.2,422.2 721.1,425.7 C717.0,429.2 710.8,434.5 705.6,438.9 C700.4,443.3 694.1,447.6 690.0,452.0 C685.9,456.4 684.0,460.2 681.0,465.0 C678.0,469.8 674.5,475.9 672.0,481.0 C669.5,486.1 668.5,491.0 665.9,495.9 C663.3,500.8 659.7,505.3 656.3,510.3 C652.9,515.3 648.5,520.4 645.6,525.9 C642.7,531.4 640.9,537.6 639.0,543.0 C637.1,548.4 635.6,552.2 634.0,558.0 C632.4,563.8 630.8,571.6 629.5,577.9 C628.2,584.2 626.6,593.0 626.0,596.0" fill="none" stroke="#c6816d" stroke-width="14.5" stroke-dasharray="3.4 2.4"/>
<path d="M780.0,378.0 C778.9,378.9 776.8,380.5 773.4,383.4 C770.0,386.3 764.6,391.6 759.9,395.4 C755.2,399.1 750.0,402.2 745.0,405.9 C740.0,409.6 734.0,414.5 730.0,417.8 C726.0,421.1 725.2,422.2 721.1,425.7 C717.0,429.2 710.8,434.5 705.6,438.9 C700.4,443.3 694.1,447.6 690.0,452.0 C685.9,456.4 684.0,460.2 681.0,465.0 C678.0,469.8 674.5,475.9 672.0,481.0 C669.5,486.1 668.5,491.0 665.9,495.9 C663.3,500.8 659.7,505.3 656.3,510.3 C652.9,515.3 648.5,520.4 645.6,525.9 C642.7,531.4 640.9,537.6 639.0,543.0 C637.1,548.4 635.6,552.2 634.0,558.0 C632.4,563.8 630.8,571.6 629.5,577.9 C628.2,584.2 626.6,593.0 626.0,596.0" fill="none" stroke="#94605b" stroke-width="12" stroke-dasharray="2.1 3.7" stroke-dashoffset="2.2"/>
</g>
<circle cx="661.75" cy="460.3" r="139.5" fill="none" stroke="#b5d5b8" stroke-width="9.2"/>
<g stroke="#383c40" stroke-width="1.8" stroke-linecap="round">
<line x1="707.6" y1="105.7" x2="796" y2="110.3"/>
<line x1="713.2" y1="129.9" x2="796" y2="140"/>
<line x1="722.9" y1="157.3" x2="796" y2="170"/>
<line x1="738" y1="184.5" x2="796" y2="199.2"/>
<line x1="764.8" y1="220" x2="796" y2="229.2"/>
<line x1="744" y1="391.8" x2="811.3" y2="388.9"/>
<line x1="767.7" y1="452" x2="818.7" y2="453.1"/>
<line x1="740.8" y1="502.5" x2="817.1" y2="505"/>
</g>
<text x="802.5" y="116.5" font-size="17" fill="#383838" stroke="#383838" stroke-width="0.3" textLength="125.5" lengthAdjust="spacingAndGlyphs">Stratum Corneum</text>
<text x="802.5" y="146.3" font-size="17" fill="#383838" stroke="#383838" stroke-width="0.3" textLength="120.5" lengthAdjust="spacingAndGlyphs">Stratum Lucidum</text>
<svg x="0" y="0" width="942.5" height="668" overflow="hidden">
<text x="802.5" y="175.5" font-size="17" fill="#383838" stroke="#383838" stroke-width="0.3" textLength="147.5" lengthAdjust="spacingAndGlyphs">Stratum Granulosum</text>
</svg>
<text x="802.5" y="205" font-size="17" fill="#383838" stroke="#383838" stroke-width="0.3" textLength="130.5" lengthAdjust="spacingAndGlyphs">Stratum Spinosum</text>
<text x="802.5" y="234.3" font-size="17" fill="#383838" stroke="#383838" stroke-width="0.3" textLength="107.5" lengthAdjust="spacingAndGlyphs">Stratum Basale</text>
<text x="818.6" y="393.6" font-size="17" fill="#383838" stroke="#383838" stroke-width="0.3" textLength="63.0" lengthAdjust="spacingAndGlyphs">Collagen</text>
<text x="825.8" y="459.4" font-size="17" fill="#383838" stroke="#383838" stroke-width="0.3" textLength="80.5" lengthAdjust="spacingAndGlyphs">Fibroblasts</text>
<text x="825.3" y="509.7" font-size="17" fill="#383838" stroke="#383838" stroke-width="0.3" textLength="46.9" lengthAdjust="spacingAndGlyphs">Elastin</text>
<g stroke="#151515" fill="none" stroke-linecap="butt">
<path d="M907.2,44.5 L915.2,27.4" stroke-width="0.9"/><path d="M915.2,27.4 L922.2,44.5" stroke-width="2.1"/><path d="M904,38.5 H914.2" stroke-width="1.3"/>
<path d="M926.5,27.4 L934.6,44.5" stroke-width="2.1"/><path d="M934.6,44.5 L942.1,27.4" stroke-width="0.9"/>
<path d="M951.1,27.4 V44.5" stroke-width="1.9"/><path d="M950.2,28 H960.4 M950.2,36 H958.7 M950.2,43.9 H960.4" stroke-width="1.0"/>
<path d="M964.6,44.5 L972.7,27.4" stroke-width="0.9"/><path d="M972.7,27.4 L980.2,44.5" stroke-width="2.1"/><path d="M970,38.5 H981.3" stroke-width="1.3"/>
</g>
</svg><div id="bar"></div></div></body></html>
